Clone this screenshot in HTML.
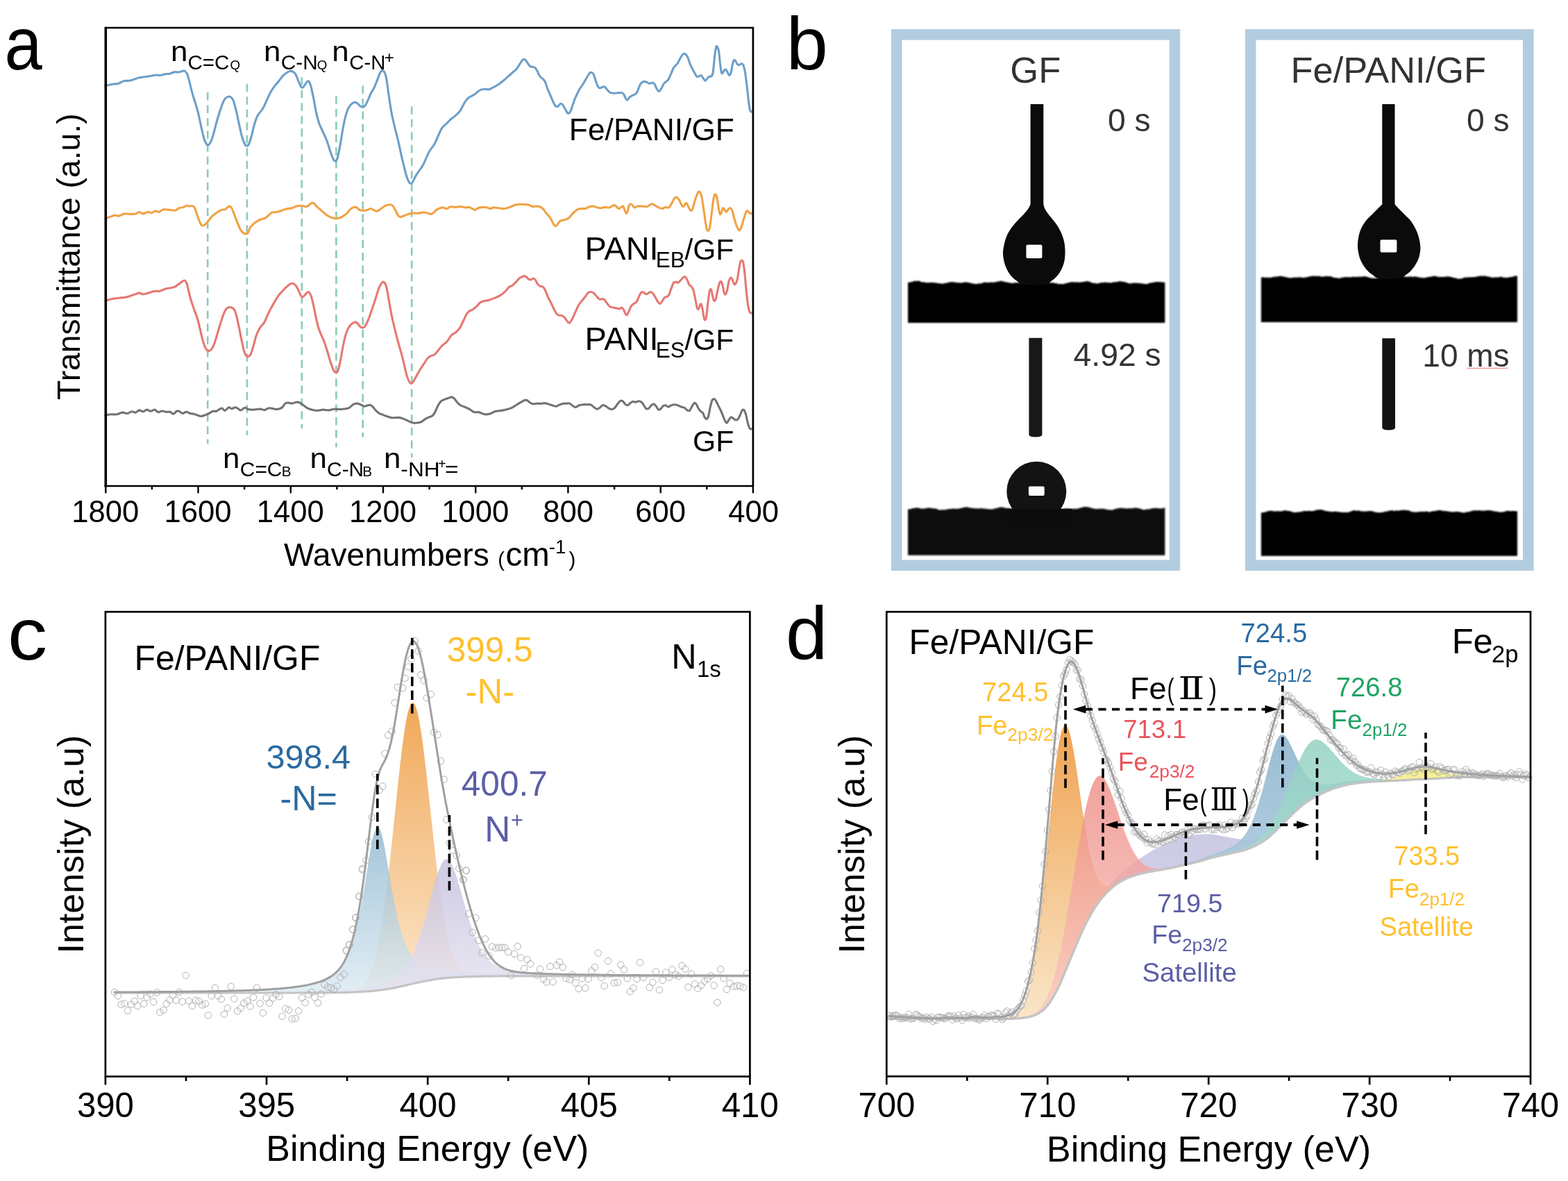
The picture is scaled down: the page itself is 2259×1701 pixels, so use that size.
<!DOCTYPE html>
<html lang="en"><head><meta charset="utf-8"><title>Figure</title>
<style>html,body{margin:0;padding:0;background:#fff}svg{display:block}text{font-kerning:auto;white-space:pre}</style>
</head><body>
<svg width="2259" height="1701" viewBox="0 0 2259 1701">
<rect width="2259" height="1701" fill="#fff"/>
<g id="panel-a"><line x1="299.2" y1="132.9" x2="299.2" y2="638.9" stroke="#8ccab9" stroke-width="2.6" stroke-dasharray="11.5 7"/>
<line x1="355.9" y1="120.7" x2="355.9" y2="626.7" stroke="#8ccab9" stroke-width="2.6" stroke-dasharray="11.5 7"/>
<line x1="434.8" y1="111.2" x2="434.8" y2="617.2" stroke="#8ccab9" stroke-width="2.6" stroke-dasharray="11.5 7"/>
<line x1="484.4" y1="138.3" x2="484.4" y2="644.3" stroke="#8ccab9" stroke-width="2.6" stroke-dasharray="11.5 7"/>
<line x1="522.7" y1="123.4" x2="522.7" y2="629.4" stroke="#8ccab9" stroke-width="2.6" stroke-dasharray="11.5 7"/>
<line x1="593.2" y1="153.2" x2="593.2" y2="659.2" stroke="#8ccab9" stroke-width="2.6" stroke-dasharray="11.5 7"/>
<path d="M151.9,598.2C153.2,598.0 157.3,597.0 160.0,596.8C162.7,596.6 165.5,597.2 168.2,596.8C170.9,596.3 173.8,594.3 176.3,594.1C178.8,593.9 180.8,595.7 183.1,595.5C185.4,595.3 187.9,593.0 189.9,592.8C191.9,592.6 193.5,594.4 195.3,594.1C197.1,593.8 198.9,591.1 200.7,590.9C202.5,590.7 204.3,592.9 206.1,592.8C207.9,592.7 209.8,590.2 211.6,590.1C213.4,590.0 215.1,592.2 217.0,592.2C218.9,592.2 221.2,589.9 223.0,590.1C224.8,590.3 226.1,593.3 227.8,593.6C229.5,593.9 231.2,592.0 233.3,592.0C235.4,592.0 238.1,593.1 240.1,593.3C242.1,593.5 243.9,592.8 245.5,593.3C247.1,593.8 247.9,596.5 249.5,596.3C251.1,596.1 253.4,592.6 255.0,592.0C256.6,591.4 257.6,592.2 259.0,592.8C260.4,593.4 261.5,595.4 263.1,595.5C264.7,595.6 266.7,593.3 268.5,593.3C270.3,593.3 272.2,595.0 274.0,595.5C275.8,596.0 277.6,595.8 279.4,596.3C281.2,596.8 283.0,597.7 284.8,598.2C286.6,598.7 288.4,599.6 290.2,599.5C292.0,599.4 293.9,598.3 295.7,597.6C297.5,596.9 299.3,596.4 301.1,595.5C302.9,594.6 304.7,592.8 306.5,592.2C308.3,591.7 310.1,592.8 311.9,592.2C313.7,591.6 316.0,589.4 317.4,588.7C318.8,588.0 319.0,587.8 320.1,588.2C321.2,588.7 322.5,591.6 324.1,591.4C325.7,591.2 328.0,587.2 329.6,586.8C331.2,586.3 332.0,588.7 333.6,588.7C335.2,588.7 337.5,586.8 339.1,586.8C340.7,586.8 341.8,588.0 343.1,588.7C344.5,589.4 345.6,591.1 347.2,590.9C348.8,590.7 350.8,587.5 352.6,587.3C354.4,587.1 356.0,589.0 358.0,589.5C360.0,590.0 362.8,590.1 364.8,590.1C366.9,590.1 368.5,589.6 370.3,589.5C372.1,589.4 373.9,589.0 375.7,589.2C377.5,589.4 379.3,590.8 381.1,590.6C382.9,590.4 384.7,588.3 386.5,587.9C388.3,587.5 390.2,587.9 392.0,588.2C393.8,588.5 395.6,589.4 397.4,589.5C399.2,589.6 401.2,589.2 402.8,588.7C404.4,588.2 405.5,587.8 406.9,586.5C408.2,585.2 409.5,582.2 410.9,581.1C412.2,580.0 413.4,580.0 415.0,580.0C416.6,580.0 418.4,581.2 420.4,581.1C422.4,581.0 425.3,579.4 427.2,579.2C429.1,579.0 430.2,579.3 431.8,580.0C433.4,580.7 435.0,582.1 436.7,583.3C438.4,584.5 440.1,586.2 442.1,587.3C444.1,588.4 446.4,589.4 448.9,590.1C451.4,590.8 454.4,591.4 457.1,591.4C459.8,591.4 462.5,590.2 465.2,590.1C467.9,590.0 470.6,591.0 473.3,590.9C476.0,590.8 478.8,589.4 481.5,589.2C484.2,589.0 486.9,589.6 489.6,589.5C492.3,589.4 495.4,589.1 497.7,588.7C500.0,588.3 501.4,588.3 503.2,587.3C505.0,586.3 506.8,583.7 508.6,582.7C510.4,581.7 512.2,581.1 514.0,581.1C515.8,581.1 517.6,582.0 519.4,582.7C521.2,583.4 523.3,585.0 524.9,585.2C526.5,585.4 527.5,584.4 528.9,584.1C530.2,583.8 531.6,583.0 533.0,583.3C534.4,583.6 535.8,584.7 537.1,586.0C538.5,587.3 539.5,589.3 541.1,590.9C542.7,592.5 545.1,594.5 546.6,595.5C548.1,596.5 548.3,596.1 550.0,596.8C551.7,597.5 554.3,598.7 556.8,599.5C559.3,600.3 562.0,601.4 564.9,601.7C567.8,602.0 571.7,601.2 574.4,601.4C577.1,601.6 578.9,602.3 581.2,603.1C583.5,603.9 585.7,605.3 588.0,606.3C590.3,607.3 592.5,608.5 594.8,609.0C597.0,609.5 599.5,609.2 601.5,609.0C603.5,608.8 605.2,608.6 607.0,607.7C608.8,606.8 610.6,604.7 612.4,603.6C614.2,602.5 616.1,601.7 617.8,600.9C619.5,600.1 621.2,600.1 622.7,599.0C624.2,597.9 625.1,596.5 626.5,594.1C627.9,591.7 629.3,587.3 630.8,584.6C632.3,581.9 633.7,579.4 635.4,577.8C637.1,576.2 639.1,575.9 640.9,575.1C642.7,574.3 644.6,573.7 646.3,573.2C648.0,572.7 649.5,571.8 650.9,571.9C652.2,572.0 653.1,572.6 654.4,573.8C655.7,575.0 657.0,577.5 658.5,579.2C660.0,580.9 661.6,582.7 663.4,583.8C665.2,584.9 667.2,585.1 669.3,586.0C671.4,586.9 673.8,587.9 676.1,589.2C678.4,590.5 680.6,592.9 682.9,593.6C685.2,594.3 687.4,593.2 689.7,593.6C692.0,594.0 694.5,595.8 696.5,596.3C698.5,596.8 700.1,596.9 701.9,596.8C703.7,596.7 705.5,596.2 707.3,595.5C709.1,594.8 710.4,593.5 712.7,592.8C715.0,592.1 718.2,591.8 720.9,591.4C723.6,591.0 726.3,590.8 729.0,590.1C731.7,589.4 734.7,588.4 737.2,587.3C739.7,586.2 741.6,584.6 743.9,583.3C746.1,581.9 748.8,580.3 750.7,579.2C752.7,578.1 754.2,577.0 755.6,576.5C757.0,576.0 758.0,575.9 759.4,576.5C760.8,577.1 762.2,579.1 763.7,580.0C765.2,580.9 766.7,581.7 768.4,581.9C770.1,582.1 772.0,581.2 773.8,581.1C775.6,581.0 777.4,581.5 779.2,581.4C781.0,581.3 782.8,580.5 784.6,580.6C786.4,580.7 788.3,581.4 790.1,581.9C791.9,582.4 793.7,583.2 795.5,583.8C797.3,584.3 799.2,585.3 800.9,585.2C802.6,585.1 803.9,583.9 805.5,583.3C807.1,582.7 808.7,581.8 810.4,581.4C812.1,581.0 814.1,581.1 815.8,581.1C817.5,581.1 819.1,580.5 820.7,581.1C822.3,581.7 823.8,583.7 825.3,584.6C826.8,585.5 827.9,586.6 829.4,586.5C830.9,586.4 832.5,584.4 834.3,583.8C836.1,583.2 838.3,582.9 840.2,582.7C842.1,582.5 844.0,582.7 845.7,582.7C847.4,582.7 848.9,582.2 850.5,582.7C852.1,583.2 853.7,584.9 855.2,586.0C856.8,587.1 858.3,589.0 859.8,589.2C861.3,589.4 862.8,588.2 864.1,587.3C865.5,586.4 866.5,584.2 867.9,583.8C869.2,583.3 870.7,583.9 872.2,584.6C873.7,585.3 875.4,587.4 876.9,588.2C878.4,589.0 880.0,589.6 881.5,589.5C883.0,589.4 884.4,588.6 885.8,587.3C887.1,586.0 888.2,583.6 889.6,581.9C891.0,580.2 892.6,578.0 893.9,577.3C895.2,576.6 896.1,577.0 897.2,577.8C898.3,578.6 899.4,580.9 900.5,581.9C901.6,582.9 902.8,583.9 904.0,583.8C905.2,583.7 906.3,582.0 907.5,581.1C908.7,580.2 909.9,578.7 911.3,578.4C912.6,578.1 914.1,579.3 915.6,579.2C917.1,579.1 918.8,577.8 920.3,577.8C921.8,577.8 923.1,578.2 924.3,579.2C925.5,580.2 926.5,582.2 927.6,583.8C928.7,585.4 929.9,588.0 931.1,588.7C932.3,589.4 933.4,589.0 934.6,588.2C935.8,587.4 937.2,584.8 938.4,583.8C939.6,582.8 940.8,581.6 942.0,581.9C943.2,582.2 944.4,584.0 945.5,585.4C946.6,586.8 947.6,589.5 948.7,590.1C949.8,590.7 950.9,589.6 952.0,588.7C953.1,587.8 954.3,585.4 955.5,584.6C956.7,583.8 957.8,583.6 959.0,583.8C960.2,584.0 961.4,586.0 962.8,586.0C964.2,586.0 965.7,584.3 967.2,583.8C968.7,583.2 970.3,582.7 971.8,582.7C973.3,582.7 974.8,583.2 976.4,583.8C978.0,584.3 979.7,585.4 981.3,586.0C982.9,586.6 984.8,586.5 986.2,587.3C987.7,588.1 988.8,590.2 990.0,590.9C991.2,591.6 992.3,592.3 993.5,591.4C994.7,590.5 995.9,587.2 997.0,585.4C998.1,583.6 999.3,581.2 1000.3,580.6C1001.3,580.0 1002.1,580.8 1003.0,581.9C1003.9,583.0 1004.7,585.6 1005.7,587.3C1006.7,589.0 1007.9,590.8 1009.0,592.0C1010.1,593.2 1011.5,593.2 1012.5,594.7C1013.5,596.2 1014.3,599.4 1015.2,600.9C1016.1,602.4 1017.0,603.8 1017.9,603.6C1018.8,603.4 1019.7,602.4 1020.6,599.5C1021.5,596.6 1022.4,589.8 1023.3,586.0C1024.2,582.2 1025.1,578.4 1026.0,576.5C1026.9,574.6 1027.9,574.5 1028.8,574.6C1029.7,574.7 1030.5,575.6 1031.5,577.3C1032.5,579.0 1033.8,582.1 1035.0,584.6C1036.2,587.1 1037.6,589.3 1038.8,592.0C1040.0,594.7 1041.3,598.4 1042.3,600.9C1043.3,603.4 1044.2,605.8 1045.0,607.1C1045.8,608.5 1046.4,609.4 1047.2,609.0C1048.0,608.6 1048.9,606.4 1049.9,605.0C1050.9,603.6 1052.1,601.3 1053.2,600.9C1054.3,600.5 1055.6,602.1 1056.7,602.8C1057.8,603.5 1058.8,604.9 1059.9,605.0C1061.0,605.1 1062.1,605.0 1063.2,603.6C1064.3,602.2 1065.7,598.9 1066.7,596.8C1067.7,594.7 1068.5,591.9 1069.4,590.9C1070.3,589.9 1071.3,589.7 1072.2,590.9C1073.1,592.1 1074.0,595.0 1074.9,598.2C1075.8,601.5 1076.7,607.2 1077.6,610.4C1078.5,613.6 1079.3,616.0 1080.3,617.2C1081.3,618.4 1083.2,617.6 1083.8,617.7" fill="none" stroke="#737373" stroke-width="3.1" stroke-linejoin="round" stroke-linecap="round"/>
<path d="M151.9,433.5C153.2,433.1 156.8,431.5 160.0,430.8C163.2,430.1 167.3,429.6 170.9,429.2C174.5,428.8 178.1,428.9 181.7,428.1C185.3,427.3 189.4,425.6 192.6,424.6C195.8,423.6 198.4,422.0 200.7,421.9C202.9,421.8 203.8,423.8 206.1,423.8C208.4,423.8 211.6,422.6 214.3,421.9C217.0,421.2 219.7,419.8 222.4,419.4C225.1,418.9 227.9,419.8 230.6,419.2C233.3,418.6 236.0,416.7 238.7,415.9C241.4,415.1 244.5,415.1 246.8,414.6C249.1,414.1 250.5,413.8 252.3,412.9C254.1,412.0 255.9,410.4 257.7,409.1C259.5,407.8 261.7,405.9 263.1,405.1C264.6,404.3 265.4,403.7 266.4,404.2C267.4,404.7 268.2,405.8 269.1,408.3C270.0,410.8 270.8,415.1 271.8,419.2C272.8,423.3 274.0,428.4 275.3,432.7C276.6,437.0 277.9,440.6 279.4,444.9C280.9,449.2 282.9,453.8 284.3,458.5C285.8,463.2 286.9,468.4 288.1,473.4C289.3,478.4 290.4,484.0 291.6,488.3C292.8,492.6 294.0,496.5 295.1,499.2C296.2,501.9 297.3,503.6 298.4,504.6C299.5,505.6 300.5,505.8 301.6,505.4C302.7,505.0 303.9,504.3 305.2,502.4C306.5,500.5 307.8,497.5 309.2,493.8C310.6,490.1 311.9,484.7 313.3,480.2C314.7,475.7 316.0,470.9 317.4,466.6C318.8,462.3 320.0,457.9 321.4,454.4C322.8,450.9 324.1,447.4 325.5,445.5C326.9,443.6 328.2,443.2 329.6,442.8C331.0,442.4 332.2,442.4 333.6,443.0C335.0,443.6 336.4,443.9 337.7,446.3C339.0,448.7 340.0,452.4 341.2,457.1C342.4,461.9 343.8,468.9 345.0,474.8C346.2,480.7 347.4,487.0 348.6,492.4C349.8,497.8 351.0,503.9 352.1,507.3C353.2,510.7 354.3,511.7 355.3,512.7C356.3,513.8 357.0,514.1 358.0,513.6C359.0,513.1 360.2,512.4 361.3,510.0C362.4,507.6 363.5,503.5 364.8,499.2C366.1,494.9 367.5,488.4 368.9,484.3C370.3,480.2 371.6,477.4 373.0,474.8C374.4,472.2 375.6,470.6 377.0,468.8C378.4,467.0 379.7,466.3 381.1,463.9C382.5,461.5 383.6,457.8 385.2,454.4C386.8,451.0 388.8,447.0 390.6,443.6C392.4,440.2 394.2,437.1 396.0,434.1C397.8,431.1 399.6,427.9 401.4,425.4C403.2,422.9 405.1,421.1 406.9,419.2C408.7,417.2 410.5,415.4 412.3,413.7C414.1,412.0 416.1,410.0 417.7,409.1C419.3,408.2 420.4,408.0 421.8,408.3C423.2,408.6 424.5,409.4 425.9,411.0C427.2,412.6 428.6,415.3 429.9,417.8C431.2,420.3 432.4,424.2 433.5,425.9C434.6,427.6 435.2,428.0 436.2,427.8C437.2,427.6 438.3,425.7 439.4,424.6C440.5,423.5 441.7,421.7 442.7,421.1C443.7,420.5 444.5,420.3 445.4,421.1C446.3,421.9 447.1,422.8 448.1,425.9C449.1,429.0 450.4,434.3 451.6,439.5C452.8,444.7 454.1,451.9 455.2,457.1C456.3,462.3 457.2,466.6 458.4,470.7C459.6,474.8 461.1,478.0 462.5,481.6C463.9,485.2 465.5,488.1 467.1,492.4C468.7,496.7 470.5,502.6 472.0,507.3C473.5,512.0 474.6,516.7 476.0,520.9C477.4,525.1 478.9,529.7 480.1,532.3C481.3,534.9 482.4,536.1 483.4,536.6C484.4,537.1 485.3,537.2 486.3,535.0C487.3,532.8 488.5,528.7 489.6,523.6C490.7,518.5 492.0,510.5 493.1,504.6C494.2,498.7 495.3,492.8 496.4,488.3C497.5,483.8 498.3,480.7 499.6,477.5C500.9,474.3 502.5,471.3 504.0,469.3C505.5,467.3 507.2,466.2 508.6,465.3C510.0,464.4 511.0,463.8 512.1,463.9C513.2,464.0 514.3,465.1 515.4,466.1C516.5,467.2 517.5,469.2 518.6,470.2C519.7,471.2 521.0,472.1 522.2,472.1C523.4,472.1 524.4,472.0 525.7,470.2C527.1,468.4 528.6,465.2 530.3,461.2C532.0,457.2 533.9,451.5 535.7,446.3C537.5,441.1 539.4,435.2 541.1,430.0C542.8,424.8 544.3,418.9 545.8,415.1C547.3,411.4 548.8,408.9 550.0,407.5C551.2,406.1 552.3,405.8 553.3,406.4C554.3,407.0 555.1,408.2 556.0,411.0C556.9,413.8 557.7,417.8 558.7,423.2C559.7,428.6 561.0,437.3 562.2,443.6C563.4,449.9 564.4,455.1 565.7,461.2C567.1,467.3 568.8,474.1 570.3,480.2C571.8,486.3 573.5,492.4 575.0,497.8C576.5,503.2 577.9,507.5 579.3,512.7C580.6,517.9 581.9,524.0 583.1,529.0C584.3,534.0 585.4,539.0 586.6,542.6C587.8,546.2 589.1,549.1 590.1,550.7C591.1,552.3 591.9,552.5 592.9,552.1C593.9,551.8 594.9,550.4 596.1,548.6C597.3,546.8 598.6,544.0 600.2,541.2C601.8,538.4 603.8,534.6 605.6,531.7C607.4,528.8 609.2,526.3 611.0,523.6C612.8,520.9 614.9,517.3 616.5,515.5C618.1,513.7 618.9,513.5 620.5,512.7C622.1,511.9 624.1,512.1 625.9,510.8C627.7,509.4 629.6,506.8 631.4,504.6C633.2,502.4 634.8,499.8 636.8,497.8C638.8,495.8 641.3,494.9 643.6,492.4C645.9,489.9 648.1,485.2 650.4,482.9C652.6,480.5 655.1,480.1 657.1,478.3C659.1,476.5 660.8,475.0 662.6,472.1C664.4,469.2 666.4,464.5 668.0,461.2C669.6,457.9 670.8,454.7 672.1,452.5C673.5,450.3 674.5,449.4 676.1,448.2C677.7,447.0 679.8,446.7 681.6,445.5C683.4,444.3 685.2,442.6 687.0,440.9C688.8,439.2 690.6,436.6 692.4,435.4C694.2,434.2 695.8,434.0 697.8,433.5C699.8,433.0 702.1,432.9 704.6,432.2C707.1,431.5 710.0,430.3 712.7,429.2C715.4,428.1 718.4,426.9 720.9,425.4C723.4,423.9 725.7,421.9 727.7,420.0C729.7,418.1 731.3,415.2 733.1,413.7C734.9,412.2 736.7,412.4 738.5,411.0C740.3,409.6 742.3,407.3 743.9,405.6C745.5,403.9 746.6,402.1 748.0,401.0C749.4,399.9 750.8,399.4 752.1,398.8C753.4,398.2 754.5,397.4 755.6,397.5C756.7,397.6 757.9,398.6 758.9,399.4C759.9,400.2 760.6,401.5 761.6,402.1C762.6,402.7 763.7,403.1 764.8,402.9C765.9,402.7 767.3,401.0 768.4,401.0C769.5,401.0 770.1,401.5 771.1,402.9C772.1,404.2 773.4,407.5 774.6,409.1C775.8,410.7 777.2,411.8 778.4,412.4C779.6,413.0 780.7,412.0 781.9,412.9C783.1,413.8 784.2,415.4 785.4,417.8C786.6,420.2 787.8,424.1 789.2,427.3C790.7,430.5 792.5,433.5 794.1,436.8C795.7,440.1 797.4,444.3 799.0,447.1C800.6,449.9 801.9,452.4 803.6,453.6C805.3,454.8 807.4,453.8 809.0,454.4C810.6,455.0 811.7,455.7 813.1,457.1C814.5,458.5 816.1,461.2 817.2,462.6C818.3,464.0 818.9,465.5 819.9,465.3C820.9,465.1 822.0,463.5 823.4,461.2C824.8,458.9 826.3,455.3 828.0,451.7C829.7,448.1 831.7,442.7 833.5,439.5C835.3,436.3 837.2,434.8 838.9,432.7C840.6,430.6 842.1,428.6 843.5,426.8C844.9,425.0 845.7,422.9 847.0,421.9C848.3,420.8 849.7,420.5 851.1,420.5C852.5,420.5 853.9,420.9 855.2,421.9C856.6,422.9 857.9,425.0 859.2,426.5C860.6,428.0 861.9,430.1 863.3,430.8C864.7,431.5 866.2,430.5 867.4,430.6C868.6,430.7 869.5,430.4 870.6,431.4C871.7,432.3 872.7,434.6 874.1,436.3C875.5,438.0 877.2,440.6 878.8,441.7C880.4,442.8 881.9,442.6 883.6,443.0C885.3,443.4 887.7,443.8 889.1,444.1C890.5,444.4 891.2,445.1 892.3,444.9C893.4,444.7 894.8,442.8 895.8,443.0C896.8,443.2 897.7,444.7 898.6,446.3C899.5,447.9 900.5,451.3 901.3,452.5C902.1,453.7 902.6,454.3 903.4,453.6C904.2,452.9 905.1,450.3 906.1,448.2C907.1,446.1 908.2,442.7 909.4,440.9C910.6,439.1 912.1,438.4 913.5,437.3C914.9,436.2 916.1,436.2 917.5,434.1C918.9,432.0 920.4,426.9 921.6,424.6C922.8,422.3 923.8,420.9 924.9,420.5C926.0,420.1 927.4,421.3 928.4,421.9C929.4,422.4 930.1,423.8 931.1,423.8C932.1,423.8 933.5,422.4 934.6,421.9C935.7,421.3 936.8,420.3 937.9,420.5C939.0,420.7 940.0,421.8 941.1,423.2C942.2,424.6 943.5,427.2 944.7,429.2C945.9,431.2 947.2,434.0 948.2,435.4C949.2,436.8 949.9,437.6 950.9,437.3C951.9,437.0 953.1,434.9 954.2,433.5C955.3,432.1 956.3,429.7 957.4,428.7C958.5,427.7 959.8,428.0 960.9,427.3C962.0,426.6 962.7,426.6 963.7,424.6C964.8,422.6 966.1,418.0 967.2,415.1C968.3,412.2 969.3,409.0 970.4,407.5C971.5,406.0 972.6,406.2 973.7,406.1C974.8,406.0 975.9,407.5 977.2,407.0C978.5,406.5 980.1,404.2 981.3,402.9C982.5,401.6 983.5,400.1 984.5,399.4C985.5,398.7 986.4,398.2 987.3,398.8C988.2,399.4 989.1,401.1 990.0,402.9C990.9,404.7 991.7,408.0 992.7,409.7C993.7,411.4 995.2,411.5 996.2,412.9C997.2,414.2 998.0,414.9 998.9,417.8C999.8,420.7 1000.7,425.7 1001.6,430.0C1002.5,434.3 1003.5,441.1 1004.3,443.6C1005.1,446.1 1005.8,445.6 1006.5,444.9C1007.2,444.2 1007.8,440.6 1008.4,439.5C1009.0,438.4 1009.6,436.8 1010.3,438.2C1011.0,439.6 1011.8,444.2 1012.5,447.6C1013.2,451.0 1013.8,456.3 1014.4,458.5C1015.0,460.7 1015.4,461.4 1016.0,460.7C1016.6,460.0 1017.3,458.4 1017.9,454.4C1018.5,450.4 1019.1,442.4 1019.8,436.8C1020.5,431.2 1021.4,424.5 1022.0,421.1C1022.6,417.7 1023.1,416.8 1023.6,416.5C1024.1,416.2 1024.6,416.9 1025.2,419.2C1025.8,421.4 1026.7,427.6 1027.4,430.0C1028.1,432.4 1028.9,433.7 1029.6,433.5C1030.3,433.3 1030.9,431.5 1031.7,428.7C1032.5,425.9 1033.3,420.1 1034.2,416.5C1035.1,412.9 1036.1,408.8 1036.9,407.0C1037.7,405.2 1038.4,404.9 1039.1,405.6C1039.8,406.3 1040.3,408.4 1041.0,411.0C1041.7,413.6 1042.4,419.0 1043.1,421.1C1043.8,423.2 1044.5,424.4 1045.3,423.8C1046.1,423.2 1046.9,420.8 1047.7,417.8C1048.5,414.8 1049.1,408.5 1049.9,405.6C1050.7,402.7 1051.6,400.9 1052.4,400.2C1053.2,399.5 1053.7,400.1 1054.5,401.5C1055.3,402.9 1056.4,407.0 1057.2,408.3C1058.0,409.6 1058.6,410.0 1059.4,409.1C1060.2,408.2 1061.2,406.4 1062.1,402.9C1063.0,399.4 1063.8,392.3 1064.6,388.0C1065.4,383.7 1066.0,379.3 1066.7,377.1C1067.4,374.9 1067.9,374.8 1068.6,375.0C1069.3,375.2 1070.1,375.2 1070.8,378.5C1071.5,381.8 1072.3,388.2 1073.0,394.8C1073.7,401.4 1074.3,410.4 1075.1,417.8C1075.9,425.2 1076.7,434.2 1077.6,439.5C1078.5,444.8 1079.3,447.9 1080.3,449.8C1081.3,451.7 1083.2,450.7 1083.8,450.9" fill="none" stroke="#e67872" stroke-width="3.1" stroke-linejoin="round" stroke-linecap="round"/>
<path d="M151.9,314.6C153.2,314.2 157.7,312.7 160.0,311.9C162.3,311.1 163.7,310.1 165.5,310.0C167.3,309.9 168.7,311.5 170.9,311.1C173.2,310.8 176.3,308.3 179.0,307.9C181.7,307.4 184.5,308.4 187.2,308.4C189.9,308.4 193.1,308.4 195.3,307.9C197.6,307.4 198.9,305.2 200.7,305.2C202.5,305.2 204.1,307.9 206.1,307.9C208.1,307.9 210.8,305.4 212.9,305.2C215.0,305.0 216.6,306.7 218.4,306.5C220.2,306.3 222.0,304.0 223.8,303.8C225.6,303.6 227.2,305.6 229.2,305.2C231.2,304.8 233.5,302.1 236.0,301.6C238.5,301.1 241.4,302.2 244.1,302.4C246.8,302.6 250.0,303.4 252.3,303.0C254.6,302.6 255.7,300.5 257.7,299.7C259.7,298.9 262.7,299.0 264.5,298.4C266.3,297.8 267.1,296.4 268.5,296.2C269.9,296.0 271.2,296.9 272.6,297.0C274.0,297.1 275.5,296.3 276.7,296.5C277.9,296.7 278.9,296.9 279.9,298.4C280.9,299.8 281.6,302.3 282.6,305.2C283.7,308.1 285.0,313.0 286.2,316.0C287.4,319.0 288.7,321.8 289.7,323.3C290.7,324.8 291.3,325.1 292.4,325.0C293.5,324.9 295.0,323.9 296.2,322.8C297.4,321.8 298.2,320.5 299.7,318.7C301.2,316.9 303.2,313.9 305.2,311.9C307.2,309.9 309.6,308.1 311.9,306.5C314.1,304.9 316.7,303.2 318.7,302.4C320.7,301.6 322.5,302.3 324.1,301.6C325.7,300.9 327.1,299.2 328.2,298.4C329.3,297.6 329.9,296.6 330.9,297.0C331.9,297.4 333.1,298.5 334.2,300.5C335.3,302.5 336.4,305.9 337.7,309.2C339.0,312.5 340.4,316.7 341.8,320.1C343.2,323.5 344.5,327.1 345.8,329.6C347.1,332.1 348.5,333.8 349.9,335.0C351.3,336.2 352.7,336.9 354.0,336.9C355.3,336.9 356.5,336.4 357.5,335.0C358.5,333.6 359.0,330.2 360.2,328.2C361.4,326.2 363.1,324.4 364.8,322.8C366.5,321.2 368.5,319.8 370.3,318.7C372.1,317.6 373.7,316.8 375.7,316.0C377.7,315.2 380.5,314.9 382.5,313.8C384.5,312.7 386.3,310.5 387.9,309.2C389.5,307.9 390.4,306.6 392.0,306.0C393.6,305.4 395.4,306.1 397.4,305.7C399.4,305.3 401.7,304.6 404.2,303.8C406.7,303.0 409.6,301.8 412.3,301.1C415.0,300.4 417.9,300.4 420.4,299.7C422.9,299.0 424.9,297.6 427.2,297.0C429.5,296.4 431.7,296.1 434.0,296.2C436.3,296.3 439.0,297.9 440.8,297.8C442.6,297.7 443.5,296.6 444.8,295.7C446.1,294.8 447.6,292.9 448.9,292.4C450.2,291.9 451.3,292.1 452.4,292.9C453.5,293.7 454.2,295.6 455.7,297.0C457.1,298.4 459.3,300.0 461.1,301.6C462.9,303.2 464.5,304.9 466.5,306.5C468.5,308.1 471.0,310.1 473.3,311.4C475.6,312.7 478.1,313.6 480.1,314.1C482.1,314.6 483.5,314.9 485.5,314.6C487.5,314.3 490.0,313.6 492.3,312.5C494.6,311.4 497.1,309.7 499.1,307.9C501.1,306.1 502.8,303.2 504.5,301.6C506.2,300.0 507.8,298.8 509.4,298.4C511.0,297.9 512.5,298.2 514.0,298.9C515.5,299.6 516.5,301.7 518.1,302.4C519.7,303.1 521.7,303.3 523.5,303.3C525.3,303.3 527.2,302.9 528.9,302.4C530.6,301.9 532.2,300.5 533.8,300.5C535.4,300.5 536.9,301.8 538.4,302.4C539.9,303.0 541.1,304.3 542.5,304.3C543.9,304.3 545.4,303.2 546.6,302.4C547.9,301.6 548.5,300.7 550.0,299.7C551.5,298.7 553.4,297.0 555.4,296.2C557.4,295.4 560.5,294.8 562.2,294.8C563.9,294.8 564.5,294.9 565.7,296.2C566.9,297.5 568.3,300.1 569.5,302.4C570.7,304.7 571.9,308.1 573.1,309.8C574.3,311.5 575.2,312.3 576.6,312.5C578.0,312.7 579.3,311.8 581.2,311.1C583.1,310.4 585.7,309.1 588.0,308.4C590.3,307.7 592.3,307.3 594.8,307.1C597.3,306.9 600.2,307.3 602.9,307.1C605.6,306.9 608.7,305.7 611.0,305.7C613.3,305.7 614.9,306.7 616.5,307.1C618.1,307.6 619.1,308.5 620.5,308.4C621.9,308.3 623.2,307.5 624.6,306.5C626.0,305.5 626.7,303.7 628.7,302.4C630.7,301.1 634.3,299.2 636.8,298.9C639.3,298.6 641.6,300.7 643.6,300.5C645.6,300.3 647.0,298.2 649.0,297.8C651.0,297.4 653.3,298.4 655.8,298.4C658.3,298.4 661.4,297.5 663.9,297.6C666.4,297.7 668.7,298.8 670.7,298.9C672.7,299.0 674.5,298.1 676.1,298.4C677.7,298.7 678.8,299.8 680.2,300.5C681.6,301.2 682.9,302.5 684.3,302.4C685.6,302.3 686.3,300.4 688.3,299.7C690.3,299.0 694.2,298.5 696.5,298.4C698.8,298.3 700.3,298.5 701.9,298.9C703.5,299.2 704.4,300.5 706.0,300.5C707.6,300.5 709.4,299.0 711.4,298.9C713.4,298.8 715.7,299.4 718.2,299.7C720.7,300.0 723.6,300.7 726.3,300.5C729.0,300.3 731.7,299.3 734.4,298.4C737.1,297.5 739.6,295.8 742.6,295.1C745.6,294.4 748.9,294.3 752.1,294.3C755.3,294.3 759.1,294.6 761.6,295.1C764.1,295.7 765.2,297.3 767.0,297.6C768.8,297.9 770.6,297.0 772.4,297.0C774.2,297.0 776.1,297.1 777.8,297.8C779.5,298.5 781.2,299.7 782.7,301.1C784.2,302.6 785.0,304.7 786.5,306.5C788.0,308.3 789.9,309.9 791.4,311.9C792.9,313.9 794.4,316.7 795.5,318.7C796.6,320.7 797.3,323.0 798.2,324.1C799.1,325.2 799.9,325.9 800.9,325.5C801.9,325.1 803.3,322.7 804.4,321.4C805.5,320.1 806.2,318.7 807.7,317.9C809.2,317.1 811.3,317.4 813.1,316.8C814.9,316.2 816.9,315.6 818.5,314.6C820.1,313.6 821.2,312.0 822.6,310.6C824.0,309.2 825.1,307.5 826.7,306.0C828.3,304.5 830.3,302.5 832.1,301.6C833.9,300.7 835.7,300.7 837.5,300.5C839.3,300.3 840.9,301.0 842.9,300.5C844.9,300.0 847.7,298.2 849.7,297.6C851.8,297.0 853.4,296.8 855.2,297.0C857.0,297.2 858.8,298.4 860.6,298.9C862.4,299.3 864.2,299.8 866.0,299.7C867.8,299.6 869.4,298.5 871.4,298.4C873.4,298.3 876.2,299.3 878.2,298.9C880.2,298.4 882.0,296.0 883.6,295.7C885.2,295.4 886.4,296.2 887.7,297.0C889.0,297.8 890.0,300.3 891.2,300.5C892.4,300.7 893.9,299.0 895.0,298.4C896.1,297.8 896.9,296.3 897.7,297.0C898.5,297.7 899.2,300.7 899.9,302.4C900.6,304.1 901.4,306.6 902.1,307.1C902.8,307.6 903.4,306.9 904.0,305.2C904.6,303.5 905.2,298.9 905.9,297.0C906.6,295.1 907.1,294.0 908.0,293.8C908.9,293.6 910.3,294.9 911.3,295.7C912.3,296.5 912.7,298.7 914.0,298.9C915.3,299.1 916.9,297.3 918.9,297.0C920.9,296.7 923.4,296.9 925.7,297.0C928.0,297.1 930.4,298.1 932.5,297.6C934.6,297.1 936.6,294.1 938.4,293.8C940.2,293.5 941.6,294.9 943.3,295.7C945.0,296.5 946.9,298.1 948.7,298.9C950.5,299.7 952.6,300.6 954.2,300.5C955.8,300.4 956.6,298.7 958.2,298.4C959.8,298.1 962.1,299.8 963.7,298.9C965.3,298.0 966.4,295.1 967.7,292.9C969.1,290.6 970.5,286.8 971.8,285.4C973.1,284.0 974.2,283.9 975.3,284.3C976.4,284.8 977.5,286.3 978.6,288.1C979.7,289.9 980.8,293.5 981.8,295.1C982.8,296.7 983.6,298.1 984.5,297.8C985.4,297.5 986.5,294.3 987.3,293.5C988.1,292.7 988.5,291.9 989.4,292.9C990.3,293.9 991.7,297.9 992.7,299.7C993.7,301.5 994.5,303.8 995.4,303.8C996.3,303.8 997.1,302.4 998.1,299.7C999.1,297.0 1000.4,291.1 1001.6,287.5C1002.8,283.9 1004.2,279.9 1005.2,278.0C1006.2,276.1 1007.0,275.4 1007.9,276.1C1008.8,276.8 1009.7,278.4 1010.6,282.1C1011.5,285.8 1012.4,292.5 1013.3,298.4C1014.2,304.3 1015.2,312.2 1016.0,317.4C1016.8,322.6 1017.5,327.1 1018.2,329.6C1018.9,332.1 1019.6,332.5 1020.3,332.3C1021.0,332.1 1021.8,331.6 1022.5,328.2C1023.2,324.8 1023.9,318.2 1024.7,311.9C1025.5,305.6 1026.6,295.4 1027.4,290.2C1028.2,285.0 1028.9,282.3 1029.6,280.7C1030.3,279.1 1030.9,279.6 1031.5,280.7C1032.1,281.8 1032.7,284.1 1033.4,287.5C1034.1,290.9 1034.8,297.6 1035.5,301.1C1036.2,304.6 1036.7,308.0 1037.4,308.7C1038.1,309.4 1038.9,306.7 1039.6,305.2C1040.3,303.7 1040.7,300.2 1041.5,299.7C1042.3,299.2 1043.4,301.5 1044.2,302.4C1045.0,303.3 1045.5,305.4 1046.4,305.2C1047.3,305.0 1048.6,302.0 1049.6,301.1C1050.6,300.2 1051.5,299.2 1052.4,299.7C1053.3,300.1 1054.2,301.3 1055.1,303.8C1056.0,306.3 1056.8,311.0 1057.8,314.6C1058.8,318.2 1060.3,322.8 1061.3,325.5C1062.3,328.2 1063.2,330.0 1064.0,330.9C1064.8,331.8 1065.4,331.8 1066.2,330.9C1067.0,330.0 1067.6,328.4 1068.6,325.5C1069.6,322.6 1071.2,316.7 1072.2,313.3C1073.2,309.9 1074.1,306.9 1074.9,305.2C1075.7,303.5 1076.0,303.1 1076.8,303.3C1077.6,303.5 1078.3,305.7 1079.5,306.5C1080.7,307.3 1083.1,307.7 1083.8,307.9" fill="none" stroke="#f0a244" stroke-width="3.1" stroke-linejoin="round" stroke-linecap="round"/>
<path d="M151.9,123.4C153.7,123.0 159.5,121.7 162.7,121.2C165.9,120.7 168.2,121.0 170.9,120.2C173.6,119.4 176.3,117.3 179.0,116.6C181.7,115.9 183.6,116.9 187.2,116.1C190.8,115.3 196.2,112.8 200.7,111.8C205.2,110.8 210.2,110.5 214.3,109.9C218.4,109.3 222.4,108.2 225.1,108.0C227.8,107.8 228.3,108.7 230.6,108.5C232.9,108.3 236.4,107.0 238.7,106.6C240.9,106.2 242.1,106.8 244.1,106.3C246.1,105.8 248.6,104.3 250.9,103.9C253.2,103.5 255.4,104.2 257.7,103.9C260.0,103.6 262.9,102.1 264.5,102.0C266.1,101.9 266.3,102.2 267.2,103.1C268.1,103.9 269.0,104.8 269.9,107.1C270.8,109.3 271.5,112.3 272.6,116.6C273.7,120.9 275.1,127.2 276.7,132.9C278.3,138.6 280.5,145.1 282.1,150.5C283.7,155.9 284.9,159.8 286.2,165.5C287.5,171.2 288.8,178.5 290.2,184.4C291.6,190.3 293.1,196.8 294.3,200.7C295.5,204.5 296.8,206.1 297.6,207.5C298.4,208.9 298.4,209.0 299.2,208.9C300.0,208.8 301.2,208.7 302.4,206.7C303.6,204.7 304.9,201.8 306.5,196.7C308.1,191.6 310.3,182.0 311.9,176.3C313.5,170.6 314.6,167.0 316.0,162.7C317.4,158.4 318.8,153.9 320.1,150.5C321.5,147.1 322.8,144.2 324.1,142.4C325.5,140.6 326.8,139.9 328.2,139.4C329.6,138.9 330.9,138.8 332.3,139.7C333.7,140.6 335.0,141.7 336.3,145.1C337.6,148.5 339.0,154.3 340.4,160.0C341.8,165.7 343.1,172.9 344.5,179.0C345.9,185.1 347.2,191.9 348.6,196.7C350.0,201.4 351.5,205.2 352.6,207.5C353.7,209.8 354.3,210.2 355.3,210.2C356.3,210.2 357.5,209.8 358.6,207.5C359.7,205.2 360.8,201.2 362.1,196.7C363.4,192.2 364.8,185.2 366.2,180.4C367.6,175.7 368.9,171.2 370.3,168.2C371.7,165.2 372.7,164.5 374.3,162.2C375.9,159.9 377.9,157.9 379.7,154.6C381.5,151.3 383.4,146.2 385.2,142.4C387.0,138.6 388.8,134.8 390.6,131.6C392.4,128.4 394.2,125.8 396.0,123.4C397.8,121.0 399.6,119.5 401.4,117.2C403.2,115.0 405.1,111.9 406.9,109.9C408.7,107.9 410.5,106.4 412.3,105.2C414.1,104.0 416.1,102.8 417.7,102.5C419.3,102.2 420.4,102.3 421.8,103.1C423.2,103.9 424.5,104.8 425.9,107.1C427.2,109.3 428.6,113.6 429.9,116.6C431.2,119.5 432.4,123.2 433.5,124.8C434.6,126.4 435.2,126.5 436.2,126.1C437.2,125.6 438.3,123.6 439.4,122.1C440.5,120.6 441.7,117.9 442.7,117.2C443.7,116.5 444.5,116.7 445.4,118.0C446.3,119.3 447.1,121.0 448.1,124.8C449.1,128.6 450.3,134.7 451.6,141.0C452.9,147.3 454.3,156.6 455.7,162.7C457.1,168.8 458.2,173.2 459.8,177.7C461.4,182.2 463.4,185.8 465.2,189.9C467.0,194.0 468.8,197.3 470.6,202.1C472.4,206.8 474.4,213.9 476.0,218.4C477.6,222.9 478.9,226.9 480.1,229.2C481.3,231.4 482.4,232.1 483.4,231.9C484.4,231.7 485.1,231.2 486.1,227.8C487.1,224.4 488.3,218.4 489.6,211.6C490.9,204.8 492.4,194.4 493.7,187.2C495.0,180.0 496.3,173.4 497.7,168.2C499.1,163.0 500.2,159.2 501.8,156.0C503.4,152.8 505.6,150.6 507.2,149.2C508.8,147.8 509.9,147.3 511.3,147.3C512.7,147.3 514.0,148.2 515.4,149.2C516.8,150.2 518.1,152.5 519.4,153.3C520.7,154.1 521.9,154.3 523.0,154.1C524.1,153.9 525.0,153.6 526.2,151.9C527.4,150.2 528.9,146.7 530.3,143.8C531.7,140.9 533.0,137.0 534.4,134.3C535.8,131.6 537.0,130.2 538.4,127.5C539.8,124.8 541.1,121.4 542.5,118.0C543.9,114.6 545.4,109.8 546.6,107.1C547.9,104.4 548.8,102.2 550.0,101.7C551.2,101.2 553.0,102.4 554.1,104.4C555.2,106.4 555.8,108.2 556.8,113.9C557.8,119.6 559.1,130.2 560.3,138.3C561.5,146.4 562.6,155.0 564.1,162.7C565.6,170.4 567.3,177.2 569.0,184.4C570.7,191.6 572.6,198.4 574.4,206.1C576.2,213.8 578.0,222.9 579.8,230.6C581.6,238.3 583.7,247.0 585.3,252.3C586.9,257.6 588.2,260.6 589.3,262.6C590.4,264.6 591.1,264.6 592.0,264.5C592.9,264.4 593.7,263.6 594.8,261.8C595.9,260.0 597.2,256.3 598.8,253.6C600.4,250.9 602.4,248.2 604.2,245.5C606.0,242.8 607.9,240.7 609.7,237.3C611.5,233.9 613.5,228.5 615.1,225.1C616.7,221.7 617.4,219.9 619.2,217.0C621.0,214.1 623.9,211.1 625.9,207.5C627.9,203.9 629.6,199.2 631.4,195.3C633.2,191.5 634.8,187.3 636.8,184.4C638.8,181.5 641.6,179.7 643.6,177.7C645.6,175.7 647.0,174.0 649.0,172.2C651.0,170.4 653.5,168.8 655.8,166.8C658.1,164.8 660.4,163.2 662.6,160.0C664.9,156.8 667.3,151.0 669.3,147.8C671.3,144.6 672.5,142.9 674.8,141.0C677.1,139.1 680.2,138.2 682.9,136.4C685.6,134.6 688.5,131.5 691.0,130.2C693.5,128.8 695.5,128.5 697.8,128.3C700.1,128.1 702.3,129.3 704.6,128.8C706.9,128.3 709.1,126.5 711.4,125.3C713.7,124.1 715.7,123.2 718.2,121.5C720.7,119.8 723.6,117.5 726.3,115.3C729.0,113.0 732.1,110.0 734.4,108.0C736.7,106.0 738.3,104.5 739.9,103.1C741.5,101.7 742.5,101.4 743.9,99.8C745.2,98.2 746.6,95.7 748.0,93.6C749.4,91.5 751.0,88.7 752.1,87.3C753.2,85.9 753.9,85.5 754.8,85.4C755.7,85.3 756.6,85.9 757.5,86.8C758.4,87.7 759.2,89.5 760.2,90.9C761.2,92.4 762.6,94.6 763.7,95.5C764.8,96.4 765.9,96.0 767.0,96.3C768.1,96.6 769.2,96.2 770.3,97.1C771.4,98.0 772.5,99.6 773.8,101.7C775.0,103.8 776.4,108.0 777.8,109.9C779.1,111.9 780.6,112.1 781.9,113.4C783.2,114.8 784.3,115.7 785.4,118.0C786.5,120.3 787.5,124.3 788.7,127.5C789.9,130.7 791.4,133.8 792.8,137.0C794.1,140.2 795.6,143.9 796.8,146.5C798.0,149.1 799.0,151.3 800.1,152.4C801.2,153.5 802.4,153.8 803.6,153.3C804.8,152.9 806.0,150.2 807.1,149.7C808.2,149.2 809.3,149.4 810.4,150.5C811.5,151.6 812.6,154.1 813.7,156.0C814.8,157.9 816.3,161.0 817.2,162.2C818.1,163.4 818.5,163.7 819.3,163.3C820.1,162.9 821.1,162.1 822.1,160.0C823.1,157.9 824.1,153.9 825.3,150.5C826.5,147.1 827.8,143.3 829.4,139.7C831.0,136.1 833.0,132.0 834.8,128.8C836.6,125.6 838.4,123.6 840.2,120.7C842.0,117.8 844.1,113.8 845.7,111.2C847.3,108.6 848.6,106.3 849.7,105.2C850.8,104.1 851.5,104.1 852.4,104.4C853.3,104.7 854.3,105.3 855.2,107.1C856.1,108.9 856.9,112.3 857.9,115.3C858.9,118.2 860.3,122.9 861.4,124.8C862.5,126.7 863.5,126.8 864.6,126.9C865.7,127.0 866.8,125.6 867.9,125.3C869.0,125.0 870.1,124.5 871.4,125.3C872.7,126.1 874.1,128.8 875.5,130.2C876.9,131.6 878.0,133.0 879.6,133.7C881.2,134.4 883.2,134.3 885.0,134.3C886.8,134.3 888.6,133.8 890.4,133.7C892.2,133.6 894.4,133.4 895.8,133.7C897.2,134.0 897.7,134.3 898.6,135.6C899.5,136.9 900.4,140.2 901.3,141.6C902.2,143.0 903.0,144.1 904.0,143.8C905.0,143.5 906.1,140.8 907.5,139.7C908.9,138.6 910.6,137.8 912.1,137.0C913.6,136.2 915.0,136.5 916.2,135.1C917.4,133.7 918.3,131.2 919.4,128.8C920.5,126.4 921.7,122.6 923.0,120.7C924.3,118.8 925.6,118.0 927.0,117.5C928.4,117.0 929.7,117.5 931.1,118.0C932.5,118.5 933.9,120.0 935.2,120.2C936.6,120.4 937.9,119.2 939.2,119.3C940.5,119.4 941.7,119.3 942.8,120.7C943.9,122.1 944.9,125.7 946.0,127.5C947.1,129.3 948.2,131.6 949.3,131.6C950.4,131.6 951.5,129.4 952.8,127.5C954.1,125.5 955.3,121.9 956.9,119.9C958.5,117.9 960.7,117.4 962.3,115.3C963.9,113.2 965.0,110.0 966.4,107.1C967.8,104.1 968.8,100.2 970.4,97.6C972.0,95.0 974.3,94.0 975.9,91.7C977.5,89.5 978.5,86.4 979.9,84.1C981.2,81.8 982.8,79.1 984.0,78.1C985.2,77.0 986.2,77.0 987.3,77.8C988.4,78.6 989.5,80.1 990.8,82.7C992.0,85.3 993.3,90.2 994.8,93.6C996.3,97.0 998.2,100.4 999.7,103.1C1001.2,105.8 1002.3,108.8 1003.5,109.9C1004.7,111.0 1006.1,110.1 1007.1,109.9C1008.1,109.7 1008.9,108.2 1009.8,108.5C1010.7,108.8 1011.5,110.5 1012.5,111.8C1013.5,113.1 1014.9,116.0 1016.0,116.1C1017.1,116.2 1018.2,113.6 1019.3,112.6C1020.4,111.6 1021.5,110.4 1022.5,109.9C1023.5,109.5 1024.4,111.0 1025.2,109.9C1026.0,108.8 1026.7,107.8 1027.4,103.1C1028.1,98.3 1028.9,87.3 1029.6,81.4C1030.3,75.5 1031.1,70.2 1031.7,67.8C1032.3,65.4 1032.8,66.4 1033.4,67.3C1034.0,68.2 1034.8,69.3 1035.5,73.2C1036.2,77.1 1036.7,85.6 1037.4,90.9C1038.1,96.2 1038.8,103.2 1039.6,105.2C1040.4,107.2 1041.4,104.0 1042.3,103.1C1043.2,102.2 1044.1,99.8 1045.0,99.8C1045.9,99.8 1046.8,101.6 1047.7,103.1C1048.6,104.5 1049.6,108.3 1050.5,108.5C1051.4,108.7 1052.4,106.9 1053.2,104.4C1054.0,101.9 1054.4,96.5 1055.1,93.6C1055.8,90.7 1056.5,87.8 1057.2,86.8C1057.9,85.8 1058.6,86.4 1059.4,87.3C1060.2,88.2 1061.2,91.2 1062.1,92.2C1063.0,93.2 1063.8,93.7 1064.8,93.6C1065.8,93.5 1067.1,91.7 1068.1,91.7C1069.1,91.7 1069.9,91.5 1070.8,93.6C1071.7,95.7 1072.6,99.2 1073.5,104.4C1074.4,109.6 1075.3,117.3 1076.2,124.8C1077.1,132.3 1078.1,143.3 1078.9,149.2C1079.7,155.1 1080.3,158.1 1081.1,160.0C1081.9,161.9 1083.3,160.7 1083.8,160.8" fill="none" stroke="#6d9fc9" stroke-width="3.1" stroke-linejoin="round" stroke-linecap="round"/>
<path d="M152.3,38.8 V701.3" stroke="#000" stroke-width="3.6" fill="none"/>
<path d="M150.5,700.0 H1086.1000000000001" stroke="#000" stroke-width="2.7" fill="none"/>
<path d="M152.3,40.0 H1084.9 V700.0" stroke="#000" stroke-width="2.7" fill="none"/>
<line x1="152.3" y1="700.0" x2="152.3" y2="710.3" stroke="#000" stroke-width="2.4"/>
<line x1="218.9" y1="700.0" x2="218.9" y2="705.0" stroke="#000" stroke-width="2.4"/>
<line x1="285.5" y1="700.0" x2="285.5" y2="710.3" stroke="#000" stroke-width="2.4"/>
<line x1="352.1" y1="700.0" x2="352.1" y2="705.0" stroke="#000" stroke-width="2.4"/>
<line x1="418.8" y1="700.0" x2="418.8" y2="710.3" stroke="#000" stroke-width="2.4"/>
<line x1="485.4" y1="700.0" x2="485.4" y2="705.0" stroke="#000" stroke-width="2.4"/>
<line x1="552.0" y1="700.0" x2="552.0" y2="710.3" stroke="#000" stroke-width="2.4"/>
<line x1="618.6" y1="700.0" x2="618.6" y2="705.0" stroke="#000" stroke-width="2.4"/>
<line x1="685.2" y1="700.0" x2="685.2" y2="710.3" stroke="#000" stroke-width="2.4"/>
<line x1="751.8" y1="700.0" x2="751.8" y2="705.0" stroke="#000" stroke-width="2.4"/>
<line x1="818.4" y1="700.0" x2="818.4" y2="710.3" stroke="#000" stroke-width="2.4"/>
<line x1="885.1" y1="700.0" x2="885.1" y2="705.0" stroke="#000" stroke-width="2.4"/>
<line x1="951.7" y1="700.0" x2="951.7" y2="710.3" stroke="#000" stroke-width="2.4"/>
<line x1="1018.3" y1="700.0" x2="1018.3" y2="705.0" stroke="#000" stroke-width="2.4"/>
<line x1="1084.9" y1="700.0" x2="1084.9" y2="710.3" stroke="#000" stroke-width="2.4"/></g>
<g id="panel-b"><rect x="1291.7" y="49.8" width="400.69999999999993" height="764.4" fill="#fff" stroke="#b3cde0" stroke-width="15.6"/>
<rect x="1801.6" y="49.8" width="400.19999999999993" height="764.4" fill="#fff" stroke="#b3cde0" stroke-width="15.6"/>
<defs><filter id="bsoft" x="-2%" y="-10%" width="104%" height="120%"><feGaussianBlur stdDeviation="1"/></filter></defs>
<path d="M1308.0,465.0L1308.0,406.9L1311.0,406.6L1314.3,406.1L1316.5,404.8L1320.2,404.7L1323.7,404.5L1326.6,405.7L1329.0,406.6L1332.8,406.5L1334.9,407.2L1338.8,407.0L1341.2,406.9L1343.2,406.7L1346.1,407.2L1348.6,407.3L1351.0,408.0L1353.6,408.0L1357.3,408.7L1360.6,408.0L1364.6,407.6L1366.8,406.5L1370.2,406.3L1374.1,406.2L1377.8,406.9L1380.4,407.1L1384.1,407.4L1387.2,407.0L1389.2,406.5L1392.8,406.5L1395.2,406.9L1398.6,407.7L1401.3,408.2L1404.3,409.1L1407.4,408.9L1410.4,408.2L1412.4,408.4L1416.4,407.3L1419.2,406.5L1422.2,407.0L1425.7,406.7L1429.5,406.5L1432.5,406.8L1435.6,405.8L1438.2,405.4L1442.1,404.4L1445.7,405.4L1449.4,406.3L1453.1,407.1L1456.2,407.5L1458.3,408.0L1461.4,407.2L1464.4,407.2L1467.2,406.9L1470.2,407.3L1473.5,407.5L1475.5,407.6L1477.9,408.0L1481.6,408.0L1485.2,407.2L1487.7,406.6L1491.0,405.3L1493.1,405.1L1496.6,405.7L1498.8,406.4L1501.5,406.5L1503.8,407.3L1506.1,407.3L1509.6,407.4L1512.2,407.3L1514.3,407.2L1517.1,407.1L1519.3,408.1L1522.3,408.1L1525.6,409.3L1527.6,408.7L1529.9,409.3L1532.2,408.9L1535.6,407.9L1538.0,407.5L1541.6,406.4L1544.0,406.3L1546.8,406.3L1549.5,406.5L1551.6,406.3L1555.5,406.7L1558.1,406.3L1560.8,406.0L1564.3,405.3L1566.8,405.1L1570.5,406.0L1574.2,407.8L1577.3,407.7L1581.0,408.5L1584.4,407.6L1587.2,407.0L1589.6,406.9L1592.5,406.4L1594.7,406.9L1597.3,407.0L1599.9,407.4L1603.7,406.5L1606.1,406.3L1610.1,405.9L1612.8,405.0L1616.1,405.6L1620.0,405.9L1623.8,407.3L1626.7,408.2L1629.2,408.2L1631.4,407.7L1635.2,407.6L1638.7,407.8L1642.4,408.0L1645.1,408.3L1648.8,409.0L1652.7,409.1L1655.0,408.3L1657.2,407.2L1659.3,407.3L1662.9,406.4L1665.6,406.0L1669.2,405.9L1672.3,406.2L1674.5,406.5L1678.2,406.8L1678.3,406.7L1678.3,465.0Z" fill="#020202" filter="url(#bsoft)"/>
<path d="M1308.0,799.8L1308.0,733.5L1311.7,733.3L1315.0,732.1L1318.2,731.8L1321.4,731.3L1324.2,731.8L1327.7,732.7L1331.6,732.4L1334.5,732.0L1336.6,731.5L1339.5,731.5L1342.2,732.1L1345.3,732.2L1347.8,732.4L1350.4,733.2L1353.4,734.7L1356.8,734.2L1360.6,734.3L1364.0,733.7L1367.6,733.0L1370.3,733.1L1374.2,732.5L1377.7,733.0L1380.6,732.5L1383.6,732.2L1386.6,731.3L1389.3,730.8L1393.1,730.3L1396.3,731.2L1399.7,731.7L1402.1,732.1L1405.5,732.3L1409.4,732.4L1413.2,732.1L1417.1,732.5L1420.1,732.7L1423.4,733.2L1426.0,733.2L1429.1,733.7L1432.3,732.4L1435.9,732.0L1439.8,730.7L1443.2,730.5L1446.6,731.1L1449.0,732.1L1451.2,732.1L1454.9,732.2L1457.3,732.7L1460.2,732.4L1462.3,732.0L1464.6,732.4L1466.8,733.0L1468.8,733.2L1470.9,733.3L1474.5,734.1L1476.9,734.8L1479.6,734.2L1483.6,733.5L1485.7,733.1L1488.9,732.8L1491.1,732.2L1493.2,732.2L1496.7,732.6L1500.5,732.7L1504.3,732.3L1507.2,731.3L1510.5,730.8L1512.7,730.7L1516.5,730.7L1519.6,731.7L1522.7,732.3L1526.6,733.1L1529.8,733.2L1531.8,733.2L1534.1,732.4L1536.2,732.2L1538.4,732.4L1541.4,732.7L1545.3,733.0L1547.7,732.7L1550.2,732.8L1553.5,732.5L1556.9,731.2L1559.8,730.8L1561.8,730.0L1564.6,730.0L1568.0,730.6L1570.2,731.1L1572.7,731.8L1575.7,732.5L1578.3,732.9L1580.8,733.1L1584.7,732.8L1587.6,732.8L1590.7,732.8L1593.6,733.8L1595.9,733.9L1599.5,734.4L1602.6,734.6L1605.8,733.2L1609.8,732.2L1611.8,732.1L1614.0,731.6L1617.7,732.0L1619.7,732.0L1622.5,732.3L1625.0,732.4L1627.1,732.1L1629.8,732.3L1632.0,731.9L1634.4,731.6L1637.2,731.6L1640.7,732.2L1642.9,732.5L1645.1,733.7L1648.4,734.3L1651.7,733.4L1655.1,733.5L1658.5,732.5L1661.2,732.0L1664.8,731.7L1667.9,732.0L1671.8,732.4L1675.6,732.0L1678.2,731.0L1678.3,731.0L1678.3,799.8Z" fill="#0b0b0b" filter="url(#bsoft)"/>
<path d="M1816.9,464.1L1816.9,399.8L1820.2,399.1L1822.2,399.9L1824.7,399.5L1828.7,399.9L1832.4,399.5L1835.6,398.5L1838.9,398.4L1842.0,397.9L1845.3,397.4L1848.8,398.6L1851.4,398.8L1855.1,399.8L1858.6,400.2L1862.0,400.0L1864.8,399.6L1867.7,399.7L1871.5,399.2L1873.7,399.6L1877.7,400.1L1880.9,399.6L1883.9,399.0L1886.6,398.3L1889.8,397.8L1893.2,397.4L1896.9,397.7L1900.2,397.5L1903.9,398.6L1907.7,398.3L1911.2,397.8L1914.8,398.1L1917.4,398.0L1921.1,399.7L1923.3,400.1L1926.1,400.2L1928.7,401.0L1932.4,400.1L1935.7,399.4L1939.1,398.9L1942.9,399.2L1945.9,399.3L1948.5,398.7L1951.7,398.8L1954.1,399.1L1957.3,398.4L1959.4,398.7L1962.0,398.4L1965.8,397.9L1968.7,398.6L1972.0,399.5L1975.1,400.4L1979.0,400.7L1981.9,400.8L1984.4,400.0L1988.3,399.7L1991.4,399.0L1994.2,399.6L1996.3,399.8L1999.6,399.4L2002.8,399.4L2006.2,398.5L2009.6,397.9L2011.6,396.8L2015.0,397.3L2017.5,396.9L2020.7,397.4L2023.4,398.0L2026.1,398.7L2028.7,398.7L2032.3,398.3L2035.4,398.8L2038.0,398.3L2041.6,398.8L2044.0,399.5L2047.4,399.8L2050.1,400.2L2053.7,400.0L2057.4,398.9L2060.1,398.7L2063.9,397.9L2066.3,397.6L2069.4,398.0L2073.0,399.0L2075.4,398.7L2079.0,398.9L2082.6,398.4L2084.9,398.2L2088.4,398.4L2091.1,399.1L2094.0,399.9L2097.8,400.6L2099.8,401.6L2103.6,401.4L2106.5,400.9L2110.3,399.4L2113.8,399.5L2117.1,399.2L2119.7,399.2L2122.2,398.9L2125.3,398.9L2129.0,397.9L2132.8,397.6L2136.6,397.4L2140.4,397.5L2142.4,398.2L2144.8,398.4L2148.1,399.3L2150.9,399.9L2154.2,399.3L2156.7,399.5L2159.6,399.2L2162.3,398.6L2165.4,399.5L2167.7,399.8L2171.6,400.1L2175.2,399.1L2178.5,399.1L2180.6,398.0L2183.1,397.6L2186.0,397.2L2186.0,396.8L2186.0,464.1Z" fill="#020202" filter="url(#bsoft)"/>
<path d="M1816.9,800.7L1816.9,738.2L1819.0,738.2L1822.9,737.6L1826.4,736.2L1829.5,735.7L1831.8,735.4L1834.2,736.3L1837.9,736.5L1841.5,736.1L1844.1,736.4L1847.6,736.1L1851.3,735.1L1854.6,735.8L1857.6,736.0L1860.5,736.7L1864.4,738.2L1867.5,737.7L1871.3,737.5L1875.1,736.9L1878.1,736.0L1881.3,735.9L1883.6,735.9L1887.2,735.8L1889.3,736.2L1891.9,735.9L1894.8,735.1L1898.8,734.2L1901.6,733.9L1904.9,734.2L1907.6,735.3L1910.3,735.9L1914.1,736.4L1916.2,736.8L1919.7,737.2L1922.2,736.7L1924.6,736.7L1926.6,736.9L1930.4,737.5L1933.9,738.0L1935.9,737.7L1939.9,738.1L1942.7,737.7L1945.9,736.8L1948.5,735.5L1951.4,735.0L1954.2,735.7L1956.8,735.2L1958.9,735.7L1962.5,736.4L1965.1,736.4L1969.0,736.5L1971.5,736.0L1973.6,736.0L1976.9,736.2L1979.0,736.8L1981.5,737.8L1983.7,737.9L1987.3,738.2L1991.3,738.0L1993.7,737.3L1995.8,736.7L1998.3,736.5L2002.0,735.5L2004.0,735.2L2006.5,735.3L2009.0,736.0L2011.3,735.3L2015.1,735.5L2019.1,734.8L2022.9,734.6L2026.5,734.9L2029.5,735.0L2031.9,736.4L2035.7,737.5L2038.4,737.6L2042.0,737.4L2045.6,736.9L2048.9,736.7L2051.5,736.9L2055.4,736.4L2059.3,737.5L2062.6,736.5L2066.4,735.9L2070.4,735.5L2072.5,734.7L2075.8,735.1L2079.3,736.0L2081.7,735.8L2085.5,736.6L2089.3,737.0L2092.9,737.5L2096.7,737.1L2100.4,737.0L2103.8,737.6L2107.6,738.5L2110.5,738.3L2112.6,737.6L2115.7,737.2L2119.5,736.2L2121.7,735.4L2125.3,735.1L2127.3,735.4L2131.0,735.1L2134.0,735.6L2137.6,735.5L2140.1,735.5L2144.0,734.8L2146.3,735.2L2150.0,735.6L2152.9,736.6L2156.4,736.8L2160.2,737.4L2162.8,737.8L2165.7,737.3L2168.0,736.9L2170.3,735.8L2173.3,735.7L2176.4,736.2L2179.8,735.7L2182.5,736.3L2185.4,736.3L2186.0,735.7L2186.0,800.7Z" fill="#020202" filter="url(#bsoft)"/>
<path d="M1484.6,150.0L1484.6,294.3" fill="none"/>
<path d="M1484.6,150.0 L1484.6,294.3 L1484.6,294.3C1484.0,295.4 1482.8,298.6 1481.1,301.1C1479.4,303.6 1476.8,306.5 1474.3,309.2C1471.8,311.9 1468.9,314.4 1466.2,317.4C1463.5,320.3 1460.5,323.5 1458.0,326.9C1455.6,330.2 1453.1,333.9 1451.3,337.7C1449.5,341.5 1448.2,345.6 1447.2,349.9C1446.2,354.2 1445.1,359.0 1445.0,363.5C1444.9,368.0 1445.6,372.7 1446.7,377.0C1447.7,381.3 1449.4,385.6 1451.3,389.2C1453.2,392.9 1455.6,396.0 1458.0,398.7C1460.5,401.4 1463.5,403.6 1466.2,405.5C1468.9,407.4 1467.5,409.4 1474.3,410.1C1481.1,410.9 1500.3,410.9 1506.9,410.1C1513.4,409.4 1511.2,407.4 1513.7,405.5C1516.1,403.6 1519.3,401.4 1521.8,398.7C1524.3,396.0 1526.7,392.9 1528.6,389.2C1530.5,385.6 1532.2,381.3 1533.2,377.0C1534.2,372.7 1534.5,368.0 1534.5,363.5C1534.6,359.0 1534.2,354.2 1533.5,349.9C1532.7,345.6 1531.4,341.5 1529.9,337.7C1528.4,333.9 1526.5,330.2 1524.5,326.9C1522.5,323.5 1520.0,320.3 1517.7,317.4C1515.5,314.4 1513.0,311.9 1510.9,309.2C1508.9,306.5 1506.8,303.6 1505.5,301.1C1504.2,298.6 1503.7,295.4 1503.3,294.3 L1503.3,150.0 Z" fill="#0b0b0b"/>
<rect x="1478.4" y="352.6" width="23" height="19.5" rx="2" fill="#fdfdfd"/>
<path d="M1991.3,150.0 L1991.3,294.3 L1991.3,294.3C1990.1,295.4 1987.0,298.6 1984.5,301.1C1982.0,303.6 1979.1,306.5 1976.4,309.2C1973.6,311.9 1970.7,314.2 1968.2,317.4C1965.7,320.5 1963.2,324.4 1961.4,328.2C1959.6,332.1 1958.3,335.9 1957.4,340.4C1956.5,344.9 1955.9,350.6 1956.0,355.3C1956.2,360.1 1957.1,364.8 1958.2,368.9C1959.3,373.0 1960.9,376.4 1962.8,379.7C1964.7,383.1 1967.1,386.5 1969.6,389.2C1972.1,392.0 1974.8,394.1 1977.7,396.0C1980.7,398.0 1981.1,400.1 1987.2,400.9C1993.3,401.7 2008.0,401.7 2014.3,400.9C2020.7,400.1 2022.0,398.0 2025.2,396.0C2028.3,394.1 2030.8,392.0 2033.3,389.2C2035.8,386.5 2038.2,383.1 2040.1,379.7C2042.0,376.4 2043.7,373.0 2044.7,368.9C2045.8,364.8 2046.5,360.1 2046.3,355.3C2046.2,350.6 2044.9,344.9 2043.6,340.4C2042.4,335.9 2040.7,332.1 2038.7,328.2C2036.8,324.4 2034.5,320.5 2032.0,317.4C2029.5,314.2 2026.5,311.9 2023.8,309.2C2021.1,306.5 2018.1,303.6 2015.7,301.1C2013.3,298.6 2010.5,295.4 2009.5,294.3 L2009.5,150.0 Z" fill="#0b0b0b"/>
<rect x="1988.5" y="345.3" width="23.9" height="18.1" rx="2" fill="#fdfdfd"/>
<path d="M1482.4,486.8 H1501.4 V626 Q1501.4,629.4 1491.9,629.4 Q1482.4,629.4 1482.4,626 Z" fill="#181818"/>
<path d="M1991.3,487.3 H2010 V616 Q2010,619.4 2000.6,619.4 Q1991.3,619.4 1991.3,616 Z" fill="#131313"/>
<circle cx="1493.3" cy="707.8" r="43" fill="#131313"/><rect x="1445" y="733" width="100" height="22" fill="#0c0c0c"/>
<rect x="1481.9" y="700.5" width="22.8" height="13.6" rx="2" fill="#fdfdfd"/>
<path d="M2113.3,529.5L2114.9,531.3L2116.5,529.5L2118.1,531.3L2119.7,529.5L2121.3,531.3L2122.9,529.5L2124.5,531.3L2126.1,529.5L2127.7,531.3L2129.3,529.5L2130.9,531.3L2132.5,529.5L2134.1,531.3L2135.7,529.5L2137.3,531.3L2138.9,529.5L2140.5,531.3L2142.1,529.5L2143.7,531.3L2145.3,529.5L2146.9,531.3L2148.5,529.5L2150.1,531.3L2151.7,529.5L2153.3,531.3L2154.9,529.5L2156.5,531.3L2158.1,529.5L2159.7,531.3L2161.3,529.5L2162.9,531.3L2164.5,529.5L2166.1,531.3L2167.7,529.5L2169.3,531.3L2170.9,529.5L2172.5,531.3" fill="none" stroke="#e8474c" stroke-width="0.8"/></g>
<g id="panel-c"><defs><linearGradient id="cO" x1="0" y1="0" x2="0" y2="1"><stop offset="0" stop-color="#f0a858"/><stop offset="1" stop-color="#fce6cc"/></linearGradient><linearGradient id="cB" x1="0" y1="0" x2="0" y2="1"><stop offset="0" stop-color="#8fb7cf"/><stop offset="1" stop-color="#dbeaf2"/></linearGradient><linearGradient id="cP" x1="0" y1="0" x2="0" y2="1"><stop offset="0" stop-color="#c6c2df"/><stop offset="1" stop-color="#e6e3f0"/></linearGradient></defs>
<path d="M475.0,1429.2L476.0,1429.1L477.0,1429.1L478.0,1429.1L479.0,1429.1L480.0,1429.0L481.0,1429.0L482.0,1429.0L483.0,1428.9L484.0,1428.9L485.0,1428.9L486.0,1428.8L487.0,1428.8L488.0,1428.8L489.0,1428.7L490.0,1428.7L491.0,1428.6L492.0,1428.5L493.0,1428.5L494.0,1428.4L495.0,1428.3L496.0,1428.3L497.0,1428.2L498.0,1428.1L499.0,1428.0L500.0,1427.9L501.0,1427.8L502.0,1427.6L503.0,1427.5L504.0,1427.3L505.0,1427.1L506.0,1426.9L507.0,1426.7L508.0,1426.5L509.0,1426.2L510.0,1425.9L511.0,1425.6L512.0,1425.2L513.0,1424.8L514.0,1424.4L515.0,1423.9L516.0,1423.4L517.0,1422.8L518.0,1422.2L519.0,1421.5L520.0,1420.8L521.0,1419.9L522.0,1419.0L523.0,1418.0L524.0,1416.9L525.0,1415.8L526.0,1414.5L527.0,1413.1L528.0,1411.6L529.0,1409.9L530.0,1408.1L531.0,1406.2L532.0,1404.1L533.0,1401.9L534.0,1399.5L535.0,1396.9L536.0,1394.1L537.0,1391.2L538.0,1388.0L539.0,1384.6L540.0,1381.0L541.0,1377.2L542.0,1373.1L543.0,1368.8L544.0,1364.2L545.0,1359.4L546.0,1354.3L547.0,1349.0L548.0,1343.4L549.0,1337.5L550.0,1331.4L551.0,1324.9L552.0,1318.2L553.0,1311.3L554.0,1304.0L555.0,1296.6L556.0,1288.8L557.0,1280.8L558.0,1272.6L559.0,1264.2L560.0,1255.5L561.0,1246.7L562.0,1237.7L563.0,1228.5L564.0,1219.1L565.0,1209.7L566.0,1200.2L567.0,1190.6L568.0,1180.9L569.0,1171.2L570.0,1161.6L571.0,1151.9L572.0,1142.4L573.0,1132.9L574.0,1123.6L575.0,1114.5L576.0,1105.5L577.0,1096.8L578.0,1088.3L579.0,1080.1L580.0,1072.3L581.0,1064.8L582.0,1057.7L583.0,1051.0L584.0,1044.8L585.0,1039.1L586.0,1033.8L587.0,1029.1L588.0,1024.9L589.0,1021.2L590.0,1018.2L591.0,1015.7L592.0,1013.8L593.0,1012.6L594.0,1011.9L595.0,1011.9L596.0,1012.5L597.0,1013.7L598.0,1015.5L599.0,1017.8L600.0,1020.8L601.0,1024.4L602.0,1028.4L603.0,1033.1L604.0,1038.2L605.0,1043.8L606.0,1049.9L607.0,1056.4L608.0,1063.3L609.0,1070.6L610.0,1078.2L611.0,1086.2L612.0,1094.4L613.0,1102.8L614.0,1111.5L615.0,1120.4L616.0,1129.4L617.0,1138.5L618.0,1147.8L619.0,1157.0L620.0,1166.3L621.0,1175.6L622.0,1184.9L623.0,1194.1L624.0,1203.3L625.0,1212.3L626.0,1221.2L627.0,1230.0L628.0,1238.6L629.0,1247.0L630.0,1255.2L631.0,1263.2L632.0,1271.0L633.0,1278.5L634.0,1285.8L635.0,1292.9L636.0,1299.7L637.0,1306.2L638.0,1312.5L639.0,1318.5L640.0,1324.2L641.0,1329.7L642.0,1334.9L643.0,1339.9L644.0,1344.6L645.0,1349.0L646.0,1353.2L647.0,1357.2L648.0,1360.9L649.0,1364.4L650.0,1367.7L651.0,1370.8L652.0,1373.6L653.0,1376.3L654.0,1378.8L655.0,1381.1L656.0,1383.3L657.0,1385.2L658.0,1387.1L659.0,1388.8L660.0,1390.3L661.0,1391.8L662.0,1393.1L663.0,1394.3L664.0,1395.4L665.0,1396.4L666.0,1397.3L667.0,1398.2L668.0,1398.9L669.0,1399.6L670.0,1400.2L671.0,1400.8L672.0,1401.3L673.0,1401.8L674.0,1402.2L675.0,1402.5L676.0,1402.9L677.0,1403.2L678.0,1403.4L679.0,1403.7L680.0,1403.9L681.0,1404.1L682.0,1404.2L683.0,1404.4L684.0,1404.5L685.0,1404.6L686.0,1404.7L687.0,1404.8L688.0,1404.9L689.0,1405.0L690.0,1405.0L691.0,1405.1L692.0,1405.1L693.0,1405.1L694.0,1405.2L695.0,1405.2L696.0,1405.2L697.0,1405.3L698.0,1405.3L699.0,1405.3L700.0,1405.3L701.0,1405.3L702.0,1405.3L703.0,1405.3L704.0,1405.4L705.0,1405.4L706.0,1405.4L707.0,1405.4L708.0,1405.4L709.0,1405.4L710.0,1405.4L711.0,1405.4L712.0,1405.4L713.0,1405.4L714.0,1405.4L714.0,1406.0L713.0,1406.0L712.0,1406.0L711.0,1406.0L710.0,1406.0L709.0,1406.0L708.0,1406.1L707.0,1406.1L706.0,1406.1L705.0,1406.1L704.0,1406.1L703.0,1406.1L702.0,1406.1L701.0,1406.1L700.0,1406.1L699.0,1406.2L698.0,1406.2L697.0,1406.2L696.0,1406.2L695.0,1406.2L694.0,1406.2L693.0,1406.3L692.0,1406.3L691.0,1406.3L690.0,1406.3L689.0,1406.3L688.0,1406.3L687.0,1406.4L686.0,1406.4L685.0,1406.4L684.0,1406.4L683.0,1406.5L682.0,1406.5L681.0,1406.5L680.0,1406.5L679.0,1406.6L678.0,1406.6L677.0,1406.6L676.0,1406.7L675.0,1406.7L674.0,1406.7L673.0,1406.8L672.0,1406.8L671.0,1406.8L670.0,1406.9L669.0,1406.9L668.0,1407.0L667.0,1407.0L666.0,1407.0L665.0,1407.1L664.0,1407.1L663.0,1407.2L662.0,1407.2L661.0,1407.3L660.0,1407.3L659.0,1407.4L658.0,1407.5L657.0,1407.5L656.0,1407.6L655.0,1407.6L654.0,1407.7L653.0,1407.8L652.0,1407.9L651.0,1407.9L650.0,1408.0L649.0,1408.1L648.0,1408.2L647.0,1408.2L646.0,1408.3L645.0,1408.4L644.0,1408.5L643.0,1408.6L642.0,1408.7L641.0,1408.8L640.0,1408.9L639.0,1409.0L638.0,1409.1L637.0,1409.2L636.0,1409.3L635.0,1409.5L634.0,1409.6L633.0,1409.7L632.0,1409.8L631.0,1410.0L630.0,1410.1L629.0,1410.2L628.0,1410.4L627.0,1410.5L626.0,1410.7L625.0,1410.8L624.0,1411.0L623.0,1411.1L622.0,1411.3L621.0,1411.5L620.0,1411.6L619.0,1411.8L618.0,1412.0L617.0,1412.2L616.0,1412.3L615.0,1412.5L614.0,1412.7L613.0,1412.9L612.0,1413.1L611.0,1413.3L610.0,1413.5L609.0,1413.7L608.0,1413.9L607.0,1414.1L606.0,1414.3L605.0,1414.5L604.0,1414.8L603.0,1415.0L602.0,1415.2L601.0,1415.4L600.0,1415.6L599.0,1415.9L598.0,1416.1L597.0,1416.3L596.0,1416.6L595.0,1416.8L594.0,1417.0L593.0,1417.2L592.0,1417.5L591.0,1417.7L590.0,1417.9L589.0,1418.2L588.0,1418.4L587.0,1418.6L586.0,1418.9L585.0,1419.1L584.0,1419.3L583.0,1419.6L582.0,1419.8L581.0,1420.0L580.0,1420.2L579.0,1420.5L578.0,1420.7L577.0,1420.9L576.0,1421.1L575.0,1421.3L574.0,1421.6L573.0,1421.8L572.0,1422.0L571.0,1422.2L570.0,1422.4L569.0,1422.6L568.0,1422.8L567.0,1423.0L566.0,1423.2L565.0,1423.4L564.0,1423.5L563.0,1423.7L562.0,1423.9L561.0,1424.1L560.0,1424.2L559.0,1424.4L558.0,1424.6L557.0,1424.7L556.0,1424.9L555.0,1425.0L554.0,1425.2L553.0,1425.3L552.0,1425.5L551.0,1425.6L550.0,1425.8L549.0,1425.9L548.0,1426.0L547.0,1426.2L546.0,1426.3L545.0,1426.4L544.0,1426.5L543.0,1426.6L542.0,1426.7L541.0,1426.9L540.0,1427.0L539.0,1427.1L538.0,1427.2L537.0,1427.3L536.0,1427.4L535.0,1427.4L534.0,1427.5L533.0,1427.6L532.0,1427.7L531.0,1427.8L530.0,1427.9L529.0,1427.9L528.0,1428.0L527.0,1428.1L526.0,1428.1L525.0,1428.2L524.0,1428.3L523.0,1428.3L522.0,1428.4L521.0,1428.5L520.0,1428.5L519.0,1428.6L518.0,1428.6L517.0,1428.7L516.0,1428.7L515.0,1428.8L514.0,1428.8L513.0,1428.9L512.0,1428.9L511.0,1428.9L510.0,1429.0L509.0,1429.0L508.0,1429.1L507.0,1429.1L506.0,1429.1L505.0,1429.2L504.0,1429.2L503.0,1429.2L502.0,1429.3L501.0,1429.3L500.0,1429.3L499.0,1429.3L498.0,1429.4L497.0,1429.4L496.0,1429.4L495.0,1429.4L494.0,1429.5L493.0,1429.5L492.0,1429.5L491.0,1429.5L490.0,1429.5L489.0,1429.6L488.0,1429.6L487.0,1429.6L486.0,1429.6L485.0,1429.6L484.0,1429.6L483.0,1429.7L482.0,1429.7L481.0,1429.7L480.0,1429.7L479.0,1429.7L478.0,1429.7L477.0,1429.7L476.0,1429.8L475.0,1429.8Z" fill="url(#cO)" fill-opacity="1.0"/>
<path d="M165.0,1429.3L166.0,1429.3L167.0,1429.3L168.0,1429.3L169.0,1429.3L170.0,1429.3L171.0,1429.3L172.0,1429.3L173.0,1429.3L174.0,1429.2L175.0,1429.2L176.0,1429.2L177.0,1429.2L178.0,1429.2L179.0,1429.2L180.0,1429.2L181.0,1429.2L182.0,1429.2L183.0,1429.2L184.0,1429.2L185.0,1429.2L186.0,1429.2L187.0,1429.2L188.0,1429.2L189.0,1429.2L190.0,1429.2L191.0,1429.2L192.0,1429.2L193.0,1429.2L194.0,1429.2L195.0,1429.1L196.0,1429.1L197.0,1429.1L198.0,1429.1L199.0,1429.1L200.0,1429.1L201.0,1429.1L202.0,1429.1L203.0,1429.1L204.0,1429.1L205.0,1429.1L206.0,1429.1L207.0,1429.1L208.0,1429.1L209.0,1429.1L210.0,1429.1L211.0,1429.1L212.0,1429.1L213.0,1429.0L214.0,1429.0L215.0,1429.0L216.0,1429.0L217.0,1429.0L218.0,1429.0L219.0,1429.0L220.0,1429.0L221.0,1429.0L222.0,1429.0L223.0,1429.0L224.0,1429.0L225.0,1429.0L226.0,1429.0L227.0,1429.0L228.0,1429.0L229.0,1428.9L230.0,1428.9L231.0,1428.9L232.0,1428.9L233.0,1428.9L234.0,1428.9L235.0,1428.9L236.0,1428.9L237.0,1428.9L238.0,1428.9L239.0,1428.9L240.0,1428.9L241.0,1428.9L242.0,1428.8L243.0,1428.8L244.0,1428.8L245.0,1428.8L246.0,1428.8L247.0,1428.8L248.0,1428.8L249.0,1428.8L250.0,1428.8L251.0,1428.8L252.0,1428.8L253.0,1428.8L254.0,1428.7L255.0,1428.7L256.0,1428.7L257.0,1428.7L258.0,1428.7L259.0,1428.7L260.0,1428.7L261.0,1428.7L262.0,1428.7L263.0,1428.7L264.0,1428.7L265.0,1428.6L266.0,1428.6L267.0,1428.6L268.0,1428.6L269.0,1428.6L270.0,1428.6L271.0,1428.6L272.0,1428.6L273.0,1428.6L274.0,1428.6L275.0,1428.5L276.0,1428.5L277.0,1428.5L278.0,1428.5L279.0,1428.5L280.0,1428.5L281.0,1428.5L282.0,1428.5L283.0,1428.4L284.0,1428.4L285.0,1428.4L286.0,1428.4L287.0,1428.4L288.0,1428.4L289.0,1428.4L290.0,1428.4L291.0,1428.3L292.0,1428.3L293.0,1428.3L294.0,1428.3L295.0,1428.3L296.0,1428.3L297.0,1428.3L298.0,1428.2L299.0,1428.2L300.0,1428.2L301.0,1428.2L302.0,1428.2L303.0,1428.2L304.0,1428.2L305.0,1428.1L306.0,1428.1L307.0,1428.1L308.0,1428.1L309.0,1428.1L310.0,1428.1L311.0,1428.0L312.0,1428.0L313.0,1428.0L314.0,1428.0L315.0,1428.0L316.0,1428.0L317.0,1427.9L318.0,1427.9L319.0,1427.9L320.0,1427.9L321.0,1427.9L322.0,1427.8L323.0,1427.8L324.0,1427.8L325.0,1427.8L326.0,1427.8L327.0,1427.7L328.0,1427.7L329.0,1427.7L330.0,1427.7L331.0,1427.7L332.0,1427.6L333.0,1427.6L334.0,1427.6L335.0,1427.6L336.0,1427.5L337.0,1427.5L338.0,1427.5L339.0,1427.5L340.0,1427.4L341.0,1427.4L342.0,1427.4L343.0,1427.4L344.0,1427.3L345.0,1427.3L346.0,1427.3L347.0,1427.3L348.0,1427.2L349.0,1427.2L350.0,1427.2L351.0,1427.1L352.0,1427.1L353.0,1427.1L354.0,1427.0L355.0,1427.0L356.0,1427.0L357.0,1426.9L358.0,1426.9L359.0,1426.9L360.0,1426.8L361.0,1426.8L362.0,1426.8L363.0,1426.7L364.0,1426.7L365.0,1426.7L366.0,1426.6L367.0,1426.6L368.0,1426.6L369.0,1426.5L370.0,1426.5L371.0,1426.4L372.0,1426.4L373.0,1426.4L374.0,1426.3L375.0,1426.3L376.0,1426.2L377.0,1426.2L378.0,1426.1L379.0,1426.1L380.0,1426.0L381.0,1426.0L382.0,1425.9L383.0,1425.9L384.0,1425.8L385.0,1425.8L386.0,1425.7L387.0,1425.7L388.0,1425.6L389.0,1425.6L390.0,1425.5L391.0,1425.5L392.0,1425.4L393.0,1425.3L394.0,1425.3L395.0,1425.2L396.0,1425.1L397.0,1425.1L398.0,1425.0L399.0,1424.9L400.0,1424.9L401.0,1424.8L402.0,1424.7L403.0,1424.7L404.0,1424.6L405.0,1424.5L406.0,1424.4L407.0,1424.3L408.0,1424.3L409.0,1424.2L410.0,1424.1L411.0,1424.0L412.0,1423.9L413.0,1423.8L414.0,1423.7L415.0,1423.6L416.0,1423.5L417.0,1423.4L418.0,1423.3L419.0,1423.2L420.0,1423.1L421.0,1423.0L422.0,1422.9L423.0,1422.8L424.0,1422.7L425.0,1422.6L426.0,1422.4L427.0,1422.3L428.0,1422.2L429.0,1422.0L430.0,1421.9L431.0,1421.8L432.0,1421.6L433.0,1421.5L434.0,1421.3L435.0,1421.2L436.0,1421.0L437.0,1420.9L438.0,1420.7L439.0,1420.5L440.0,1420.3L441.0,1420.2L442.0,1420.0L443.0,1419.8L444.0,1419.6L445.0,1419.4L446.0,1419.2L447.0,1419.0L448.0,1418.7L449.0,1418.5L450.0,1418.3L451.0,1418.0L452.0,1417.8L453.0,1417.5L454.0,1417.3L455.0,1417.0L456.0,1416.7L457.0,1416.4L458.0,1416.1L459.0,1415.8L460.0,1415.5L461.0,1415.2L462.0,1414.8L463.0,1414.5L464.0,1414.1L465.0,1413.7L466.0,1413.4L467.0,1412.9L468.0,1412.5L469.0,1412.1L470.0,1411.6L471.0,1411.1L472.0,1410.6L473.0,1410.1L474.0,1409.6L475.0,1409.0L476.0,1408.4L477.0,1407.8L478.0,1407.2L479.0,1406.5L480.0,1405.8L481.0,1405.0L482.0,1404.2L483.0,1403.4L484.0,1402.5L485.0,1401.6L486.0,1400.6L487.0,1399.6L488.0,1398.5L489.0,1397.4L490.0,1396.2L491.0,1394.9L492.0,1393.6L493.0,1392.2L494.0,1390.7L495.0,1389.1L496.0,1387.4L497.0,1385.6L498.0,1383.7L499.0,1381.7L500.0,1379.6L501.0,1377.4L502.0,1375.1L503.0,1372.6L504.0,1370.0L505.0,1367.2L506.0,1364.3L507.0,1361.3L508.0,1358.1L509.0,1354.7L510.0,1351.2L511.0,1347.5L512.0,1343.6L513.0,1339.5L514.0,1335.3L515.0,1330.9L516.0,1326.3L517.0,1321.5L518.0,1316.6L519.0,1311.5L520.0,1306.2L521.0,1300.7L522.0,1295.1L523.0,1289.4L524.0,1283.5L525.0,1277.5L526.0,1271.4L527.0,1265.2L528.0,1259.0L529.0,1252.8L530.0,1246.6L531.0,1240.5L532.0,1234.5L533.0,1228.6L534.0,1223.0L535.0,1217.6L536.0,1212.6L537.0,1208.0L538.0,1203.8L539.0,1200.1L540.0,1197.0L541.0,1194.5L542.0,1192.6L543.0,1191.4L544.0,1190.9L545.0,1191.1L546.0,1192.0L547.0,1193.6L548.0,1195.8L549.0,1198.6L550.0,1202.0L551.0,1205.9L552.0,1210.3L553.0,1215.0L554.0,1220.1L555.0,1225.5L556.0,1231.1L557.0,1236.8L558.0,1242.7L559.0,1248.6L560.0,1254.6L561.0,1260.6L562.0,1266.5L563.0,1272.4L564.0,1278.1L565.0,1283.8L566.0,1289.3L567.0,1294.7L568.0,1299.9L569.0,1305.0L570.0,1309.9L571.0,1314.6L572.0,1319.1L573.0,1323.4L574.0,1327.6L575.0,1331.6L576.0,1335.4L577.0,1339.0L578.0,1342.5L579.0,1345.8L580.0,1348.9L581.0,1351.9L582.0,1354.7L583.0,1357.3L584.0,1359.8L585.0,1362.2L586.0,1364.4L587.0,1366.5L588.0,1368.5L589.0,1370.4L590.0,1372.1L591.0,1373.7L592.0,1375.3L593.0,1376.7L594.0,1378.0L595.0,1379.3L596.0,1380.5L597.0,1381.6L598.0,1382.6L599.0,1383.6L600.0,1384.5L601.0,1385.3L602.0,1386.1L603.0,1386.9L604.0,1387.5L605.0,1388.2L606.0,1388.8L607.0,1389.4L608.0,1389.9L609.0,1390.4L610.0,1390.9L611.0,1391.3L612.0,1391.7L613.0,1392.1L614.0,1392.5L615.0,1392.8L616.0,1393.1L617.0,1393.4L618.0,1393.7L619.0,1394.0L620.0,1394.3L621.0,1394.5L622.0,1394.8L623.0,1395.0L624.0,1395.2L625.0,1395.4L626.0,1395.6L627.0,1395.8L628.0,1396.0L629.0,1396.2L630.0,1396.3L631.0,1396.5L632.0,1396.6L633.0,1396.8L634.0,1396.9L635.0,1397.1L636.0,1397.2L637.0,1397.3L638.0,1397.4L639.0,1397.6L640.0,1397.7L641.0,1397.8L642.0,1397.9L643.0,1398.0L644.0,1398.1L645.0,1398.2L646.0,1398.3L647.0,1398.4L648.0,1398.5L649.0,1398.6L650.0,1398.7L651.0,1398.8L652.0,1398.9L653.0,1399.0L654.0,1399.0L655.0,1399.1L656.0,1399.2L657.0,1399.3L658.0,1399.4L659.0,1399.4L660.0,1399.5L661.0,1399.6L662.0,1399.7L663.0,1399.7L664.0,1399.8L665.0,1399.9L666.0,1399.9L667.0,1400.0L668.0,1400.1L669.0,1400.1L670.0,1400.2L671.0,1400.2L672.0,1400.3L673.0,1400.4L674.0,1400.4L675.0,1400.5L676.0,1400.5L677.0,1400.6L678.0,1400.7L679.0,1400.7L680.0,1400.8L681.0,1400.8L682.0,1400.9L683.0,1400.9L684.0,1401.0L685.0,1401.0L686.0,1401.1L687.0,1401.1L688.0,1401.2L689.0,1401.2L690.0,1401.3L691.0,1401.3L692.0,1401.4L693.0,1401.4L694.0,1401.5L695.0,1401.5L696.0,1401.6L697.0,1401.6L698.0,1401.6L699.0,1401.7L700.0,1401.7L701.0,1401.8L702.0,1401.8L703.0,1401.9L704.0,1401.9L705.0,1401.9L706.0,1402.0L707.0,1402.0L708.0,1402.0L709.0,1402.1L710.0,1402.1L711.0,1402.2L712.0,1402.2L713.0,1402.2L714.0,1402.3L715.0,1402.3L716.0,1402.3L717.0,1402.4L718.0,1402.4L719.0,1402.4L720.0,1402.5L721.0,1402.5L722.0,1402.5L723.0,1402.6L724.0,1402.6L725.0,1402.6L726.0,1402.7L727.0,1402.7L728.0,1402.7L729.0,1402.7L730.0,1402.8L731.0,1402.8L732.0,1402.8L733.0,1402.9L734.0,1402.9L735.0,1402.9L736.0,1402.9L737.0,1403.0L738.0,1403.0L739.0,1403.0L740.0,1403.0L741.0,1403.1L742.0,1403.1L743.0,1403.1L744.0,1403.1L745.0,1403.2L746.0,1403.2L747.0,1403.2L748.0,1403.2L749.0,1403.3L750.0,1403.3L751.0,1403.3L752.0,1403.3L753.0,1403.4L754.0,1403.4L755.0,1403.4L756.0,1403.4L757.0,1403.4L758.0,1403.5L759.0,1403.5L760.0,1403.5L761.0,1403.5L762.0,1403.5L763.0,1403.6L764.0,1403.6L765.0,1403.6L766.0,1403.6L767.0,1403.6L768.0,1403.7L769.0,1403.7L770.0,1403.7L771.0,1403.7L772.0,1403.7L773.0,1403.7L774.0,1403.8L775.0,1403.8L776.0,1403.8L777.0,1403.8L778.0,1403.8L779.0,1403.8L780.0,1403.9L781.0,1403.9L782.0,1403.9L783.0,1403.9L784.0,1403.9L785.0,1403.9L786.0,1403.9L787.0,1404.0L788.0,1404.0L789.0,1404.0L790.0,1404.0L791.0,1404.0L792.0,1404.0L793.0,1404.0L794.0,1404.1L795.0,1404.1L796.0,1404.1L797.0,1404.1L798.0,1404.1L799.0,1404.1L800.0,1404.1L801.0,1404.2L802.0,1404.2L803.0,1404.2L804.0,1404.2L805.0,1404.2L806.0,1404.2L807.0,1404.2L808.0,1404.2L809.0,1404.2L810.0,1404.3L811.0,1404.3L812.0,1404.3L813.0,1404.3L814.0,1404.3L815.0,1404.3L816.0,1404.3L817.0,1404.3L818.0,1404.3L819.0,1404.4L820.0,1404.4L821.0,1404.4L822.0,1404.4L823.0,1404.4L824.0,1404.4L825.0,1404.4L826.0,1404.4L827.0,1404.4L828.0,1404.4L829.0,1404.5L830.0,1404.5L831.0,1404.5L832.0,1404.5L833.0,1404.5L834.0,1404.5L835.0,1404.5L836.0,1404.5L837.0,1404.5L838.0,1404.5L839.0,1404.5L840.0,1404.6L841.0,1404.6L842.0,1404.6L843.0,1404.6L844.0,1404.6L845.0,1404.6L846.0,1404.6L847.0,1404.6L848.0,1404.6L849.0,1404.6L850.0,1404.6L851.0,1404.6L852.0,1404.6L853.0,1404.7L854.0,1404.7L855.0,1404.7L856.0,1404.7L857.0,1404.7L858.0,1404.7L859.0,1404.7L860.0,1404.7L861.0,1404.7L862.0,1404.7L863.0,1404.7L864.0,1404.7L865.0,1404.7L866.0,1404.7L867.0,1404.7L868.0,1404.8L869.0,1404.8L870.0,1404.8L871.0,1404.8L872.0,1404.8L873.0,1404.8L874.0,1404.8L875.0,1404.8L876.0,1404.8L877.0,1404.8L878.0,1404.8L879.0,1404.8L880.0,1404.8L881.0,1404.8L882.0,1404.8L883.0,1404.8L884.0,1404.9L885.0,1404.9L886.0,1404.9L887.0,1404.9L888.0,1404.9L889.0,1404.9L890.0,1404.9L891.0,1404.9L892.0,1404.9L893.0,1404.9L894.0,1404.9L895.0,1404.9L896.0,1404.9L897.0,1404.9L898.0,1404.9L899.0,1404.9L900.0,1404.9L901.0,1404.9L902.0,1404.9L903.0,1404.9L904.0,1405.0L905.0,1405.0L906.0,1405.0L907.0,1405.0L908.0,1405.0L909.0,1405.0L910.0,1405.0L911.0,1405.0L912.0,1405.0L913.0,1405.0L914.0,1405.0L915.0,1405.0L916.0,1405.0L917.0,1405.0L918.0,1405.0L919.0,1405.0L920.0,1405.0L921.0,1405.0L922.0,1405.0L923.0,1405.0L924.0,1405.0L925.0,1405.0L926.0,1405.0L927.0,1405.1L928.0,1405.1L929.0,1405.1L930.0,1405.1L931.0,1405.1L932.0,1405.1L933.0,1405.1L934.0,1405.1L935.0,1405.1L936.0,1405.1L937.0,1405.1L938.0,1405.1L939.0,1405.1L940.0,1405.1L941.0,1405.1L942.0,1405.1L943.0,1405.1L944.0,1405.1L945.0,1405.1L946.0,1405.1L947.0,1405.1L948.0,1405.1L949.0,1405.1L950.0,1405.1L951.0,1405.1L952.0,1405.1L953.0,1405.1L954.0,1405.1L955.0,1405.1L956.0,1405.2L957.0,1405.2L958.0,1405.2L959.0,1405.2L960.0,1405.2L961.0,1405.2L962.0,1405.2L963.0,1405.2L964.0,1405.2L965.0,1405.2L966.0,1405.2L967.0,1405.2L968.0,1405.2L969.0,1405.2L970.0,1405.2L971.0,1405.2L972.0,1405.2L972.0,1405.8L971.0,1405.8L970.0,1405.8L969.0,1405.8L968.0,1405.8L967.0,1405.8L966.0,1405.8L965.0,1405.8L964.0,1405.8L963.0,1405.8L962.0,1405.8L961.0,1405.8L960.0,1405.8L959.0,1405.8L958.0,1405.8L957.0,1405.8L956.0,1405.8L955.0,1405.8L954.0,1405.8L953.0,1405.8L952.0,1405.8L951.0,1405.8L950.0,1405.8L949.0,1405.8L948.0,1405.8L947.0,1405.8L946.0,1405.8L945.0,1405.8L944.0,1405.8L943.0,1405.8L942.0,1405.8L941.0,1405.8L940.0,1405.8L939.0,1405.8L938.0,1405.8L937.0,1405.8L936.0,1405.8L935.0,1405.8L934.0,1405.8L933.0,1405.8L932.0,1405.8L931.0,1405.8L930.0,1405.8L929.0,1405.8L928.0,1405.8L927.0,1405.8L926.0,1405.8L925.0,1405.8L924.0,1405.8L923.0,1405.8L922.0,1405.8L921.0,1405.8L920.0,1405.8L919.0,1405.8L918.0,1405.8L917.0,1405.8L916.0,1405.8L915.0,1405.8L914.0,1405.8L913.0,1405.8L912.0,1405.8L911.0,1405.8L910.0,1405.8L909.0,1405.8L908.0,1405.8L907.0,1405.8L906.0,1405.8L905.0,1405.8L904.0,1405.8L903.0,1405.8L902.0,1405.8L901.0,1405.8L900.0,1405.8L899.0,1405.8L898.0,1405.8L897.0,1405.8L896.0,1405.8L895.0,1405.8L894.0,1405.8L893.0,1405.8L892.0,1405.8L891.0,1405.8L890.0,1405.8L889.0,1405.8L888.0,1405.8L887.0,1405.8L886.0,1405.8L885.0,1405.8L884.0,1405.8L883.0,1405.8L882.0,1405.8L881.0,1405.8L880.0,1405.8L879.0,1405.8L878.0,1405.8L877.0,1405.8L876.0,1405.8L875.0,1405.8L874.0,1405.8L873.0,1405.8L872.0,1405.8L871.0,1405.8L870.0,1405.8L869.0,1405.8L868.0,1405.8L867.0,1405.8L866.0,1405.8L865.0,1405.8L864.0,1405.8L863.0,1405.8L862.0,1405.8L861.0,1405.8L860.0,1405.8L859.0,1405.8L858.0,1405.8L857.0,1405.8L856.0,1405.8L855.0,1405.8L854.0,1405.8L853.0,1405.8L852.0,1405.8L851.0,1405.8L850.0,1405.8L849.0,1405.8L848.0,1405.8L847.0,1405.8L846.0,1405.8L845.0,1405.8L844.0,1405.8L843.0,1405.8L842.0,1405.8L841.0,1405.8L840.0,1405.8L839.0,1405.8L838.0,1405.8L837.0,1405.8L836.0,1405.8L835.0,1405.8L834.0,1405.8L833.0,1405.8L832.0,1405.8L831.0,1405.8L830.0,1405.8L829.0,1405.8L828.0,1405.8L827.0,1405.8L826.0,1405.8L825.0,1405.8L824.0,1405.8L823.0,1405.8L822.0,1405.8L821.0,1405.8L820.0,1405.8L819.0,1405.8L818.0,1405.8L817.0,1405.8L816.0,1405.8L815.0,1405.8L814.0,1405.8L813.0,1405.8L812.0,1405.8L811.0,1405.8L810.0,1405.8L809.0,1405.8L808.0,1405.8L807.0,1405.8L806.0,1405.8L805.0,1405.8L804.0,1405.8L803.0,1405.8L802.0,1405.8L801.0,1405.8L800.0,1405.8L799.0,1405.8L798.0,1405.8L797.0,1405.8L796.0,1405.8L795.0,1405.8L794.0,1405.8L793.0,1405.8L792.0,1405.8L791.0,1405.8L790.0,1405.8L789.0,1405.8L788.0,1405.8L787.0,1405.8L786.0,1405.8L785.0,1405.8L784.0,1405.8L783.0,1405.8L782.0,1405.8L781.0,1405.8L780.0,1405.8L779.0,1405.8L778.0,1405.8L777.0,1405.8L776.0,1405.8L775.0,1405.8L774.0,1405.8L773.0,1405.8L772.0,1405.8L771.0,1405.8L770.0,1405.8L769.0,1405.8L768.0,1405.8L767.0,1405.8L766.0,1405.8L765.0,1405.8L764.0,1405.8L763.0,1405.8L762.0,1405.8L761.0,1405.8L760.0,1405.8L759.0,1405.8L758.0,1405.8L757.0,1405.8L756.0,1405.8L755.0,1405.8L754.0,1405.8L753.0,1405.8L752.0,1405.8L751.0,1405.8L750.0,1405.9L749.0,1405.9L748.0,1405.9L747.0,1405.9L746.0,1405.9L745.0,1405.9L744.0,1405.9L743.0,1405.9L742.0,1405.9L741.0,1405.9L740.0,1405.9L739.0,1405.9L738.0,1405.9L737.0,1405.9L736.0,1405.9L735.0,1405.9L734.0,1405.9L733.0,1405.9L732.0,1405.9L731.0,1405.9L730.0,1405.9L729.0,1405.9L728.0,1405.9L727.0,1405.9L726.0,1405.9L725.0,1405.9L724.0,1405.9L723.0,1405.9L722.0,1406.0L721.0,1406.0L720.0,1406.0L719.0,1406.0L718.0,1406.0L717.0,1406.0L716.0,1406.0L715.0,1406.0L714.0,1406.0L713.0,1406.0L712.0,1406.0L711.0,1406.0L710.0,1406.0L709.0,1406.0L708.0,1406.1L707.0,1406.1L706.0,1406.1L705.0,1406.1L704.0,1406.1L703.0,1406.1L702.0,1406.1L701.0,1406.1L700.0,1406.1L699.0,1406.2L698.0,1406.2L697.0,1406.2L696.0,1406.2L695.0,1406.2L694.0,1406.2L693.0,1406.3L692.0,1406.3L691.0,1406.3L690.0,1406.3L689.0,1406.3L688.0,1406.3L687.0,1406.4L686.0,1406.4L685.0,1406.4L684.0,1406.4L683.0,1406.5L682.0,1406.5L681.0,1406.5L680.0,1406.5L679.0,1406.6L678.0,1406.6L677.0,1406.6L676.0,1406.7L675.0,1406.7L674.0,1406.7L673.0,1406.8L672.0,1406.8L671.0,1406.8L670.0,1406.9L669.0,1406.9L668.0,1407.0L667.0,1407.0L666.0,1407.0L665.0,1407.1L664.0,1407.1L663.0,1407.2L662.0,1407.2L661.0,1407.3L660.0,1407.3L659.0,1407.4L658.0,1407.5L657.0,1407.5L656.0,1407.6L655.0,1407.6L654.0,1407.7L653.0,1407.8L652.0,1407.9L651.0,1407.9L650.0,1408.0L649.0,1408.1L648.0,1408.2L647.0,1408.2L646.0,1408.3L645.0,1408.4L644.0,1408.5L643.0,1408.6L642.0,1408.7L641.0,1408.8L640.0,1408.9L639.0,1409.0L638.0,1409.1L637.0,1409.2L636.0,1409.3L635.0,1409.5L634.0,1409.6L633.0,1409.7L632.0,1409.8L631.0,1410.0L630.0,1410.1L629.0,1410.2L628.0,1410.4L627.0,1410.5L626.0,1410.7L625.0,1410.8L624.0,1411.0L623.0,1411.1L622.0,1411.3L621.0,1411.5L620.0,1411.6L619.0,1411.8L618.0,1412.0L617.0,1412.2L616.0,1412.3L615.0,1412.5L614.0,1412.7L613.0,1412.9L612.0,1413.1L611.0,1413.3L610.0,1413.5L609.0,1413.7L608.0,1413.9L607.0,1414.1L606.0,1414.3L605.0,1414.5L604.0,1414.8L603.0,1415.0L602.0,1415.2L601.0,1415.4L600.0,1415.6L599.0,1415.9L598.0,1416.1L597.0,1416.3L596.0,1416.6L595.0,1416.8L594.0,1417.0L593.0,1417.2L592.0,1417.5L591.0,1417.7L590.0,1417.9L589.0,1418.2L588.0,1418.4L587.0,1418.6L586.0,1418.9L585.0,1419.1L584.0,1419.3L583.0,1419.6L582.0,1419.8L581.0,1420.0L580.0,1420.2L579.0,1420.5L578.0,1420.7L577.0,1420.9L576.0,1421.1L575.0,1421.3L574.0,1421.6L573.0,1421.8L572.0,1422.0L571.0,1422.2L570.0,1422.4L569.0,1422.6L568.0,1422.8L567.0,1423.0L566.0,1423.2L565.0,1423.4L564.0,1423.5L563.0,1423.7L562.0,1423.9L561.0,1424.1L560.0,1424.2L559.0,1424.4L558.0,1424.6L557.0,1424.7L556.0,1424.9L555.0,1425.0L554.0,1425.2L553.0,1425.3L552.0,1425.5L551.0,1425.6L550.0,1425.8L549.0,1425.9L548.0,1426.0L547.0,1426.2L546.0,1426.3L545.0,1426.4L544.0,1426.5L543.0,1426.6L542.0,1426.7L541.0,1426.9L540.0,1427.0L539.0,1427.1L538.0,1427.2L537.0,1427.3L536.0,1427.4L535.0,1427.4L534.0,1427.5L533.0,1427.6L532.0,1427.7L531.0,1427.8L530.0,1427.9L529.0,1427.9L528.0,1428.0L527.0,1428.1L526.0,1428.1L525.0,1428.2L524.0,1428.3L523.0,1428.3L522.0,1428.4L521.0,1428.5L520.0,1428.5L519.0,1428.6L518.0,1428.6L517.0,1428.7L516.0,1428.7L515.0,1428.8L514.0,1428.8L513.0,1428.9L512.0,1428.9L511.0,1428.9L510.0,1429.0L509.0,1429.0L508.0,1429.1L507.0,1429.1L506.0,1429.1L505.0,1429.2L504.0,1429.2L503.0,1429.2L502.0,1429.3L501.0,1429.3L500.0,1429.3L499.0,1429.3L498.0,1429.4L497.0,1429.4L496.0,1429.4L495.0,1429.4L494.0,1429.5L493.0,1429.5L492.0,1429.5L491.0,1429.5L490.0,1429.5L489.0,1429.6L488.0,1429.6L487.0,1429.6L486.0,1429.6L485.0,1429.6L484.0,1429.6L483.0,1429.7L482.0,1429.7L481.0,1429.7L480.0,1429.7L479.0,1429.7L478.0,1429.7L477.0,1429.7L476.0,1429.8L475.0,1429.8L474.0,1429.8L473.0,1429.8L472.0,1429.8L471.0,1429.8L470.0,1429.8L469.0,1429.8L468.0,1429.8L467.0,1429.8L466.0,1429.8L465.0,1429.9L464.0,1429.9L463.0,1429.9L462.0,1429.9L461.0,1429.9L460.0,1429.9L459.0,1429.9L458.0,1429.9L457.0,1429.9L456.0,1429.9L455.0,1429.9L454.0,1429.9L453.0,1429.9L452.0,1429.9L451.0,1429.9L450.0,1429.9L449.0,1429.9L448.0,1429.9L447.0,1430.0L446.0,1430.0L445.0,1430.0L444.0,1430.0L443.0,1430.0L442.0,1430.0L441.0,1430.0L440.0,1430.0L439.0,1430.0L438.0,1430.0L437.0,1430.0L436.0,1430.0L435.0,1430.0L434.0,1430.0L433.0,1430.0L432.0,1430.0L431.0,1430.0L430.0,1430.0L429.0,1430.0L428.0,1430.0L427.0,1430.0L426.0,1430.0L425.0,1430.0L424.0,1430.0L423.0,1430.0L422.0,1430.0L421.0,1430.0L420.0,1430.0L419.0,1430.0L418.0,1430.0L417.0,1430.0L416.0,1430.0L415.0,1430.0L414.0,1430.0L413.0,1430.0L412.0,1430.0L411.0,1430.0L410.0,1430.0L409.0,1430.0L408.0,1430.0L407.0,1430.0L406.0,1430.0L405.0,1430.0L404.0,1430.0L403.0,1430.0L402.0,1430.0L401.0,1430.0L400.0,1430.0L399.0,1430.0L398.0,1430.0L397.0,1430.0L396.0,1430.0L395.0,1430.0L394.0,1430.0L393.0,1430.0L392.0,1430.0L391.0,1430.0L390.0,1430.0L389.0,1430.0L388.0,1430.0L387.0,1430.0L386.0,1430.0L385.0,1430.0L384.0,1430.0L383.0,1430.0L382.0,1430.0L381.0,1430.0L380.0,1430.0L379.0,1430.0L378.0,1430.0L377.0,1430.0L376.0,1430.0L375.0,1430.0L374.0,1430.0L373.0,1430.0L372.0,1430.0L371.0,1430.0L370.0,1430.0L369.0,1430.0L368.0,1430.0L367.0,1430.0L366.0,1430.0L365.0,1430.0L364.0,1430.0L363.0,1430.0L362.0,1430.0L361.0,1430.0L360.0,1430.0L359.0,1430.0L358.0,1430.0L357.0,1430.0L356.0,1430.0L355.0,1430.0L354.0,1430.0L353.0,1430.0L352.0,1430.0L351.0,1430.0L350.0,1430.0L349.0,1430.0L348.0,1430.0L347.0,1430.0L346.0,1430.0L345.0,1430.0L344.0,1430.0L343.0,1430.0L342.0,1430.0L341.0,1430.0L340.0,1430.0L339.0,1430.0L338.0,1430.0L337.0,1430.0L336.0,1430.0L335.0,1430.0L334.0,1430.0L333.0,1430.0L332.0,1430.0L331.0,1430.0L330.0,1430.0L329.0,1430.0L328.0,1430.0L327.0,1430.0L326.0,1430.0L325.0,1430.0L324.0,1430.0L323.0,1430.0L322.0,1430.0L321.0,1430.0L320.0,1430.0L319.0,1430.0L318.0,1430.0L317.0,1430.0L316.0,1430.0L315.0,1430.0L314.0,1430.0L313.0,1430.0L312.0,1430.0L311.0,1430.0L310.0,1430.0L309.0,1430.0L308.0,1430.0L307.0,1430.0L306.0,1430.0L305.0,1430.0L304.0,1430.0L303.0,1430.0L302.0,1430.0L301.0,1430.0L300.0,1430.0L299.0,1430.0L298.0,1430.0L297.0,1430.0L296.0,1430.0L295.0,1430.0L294.0,1430.0L293.0,1430.0L292.0,1430.0L291.0,1430.0L290.0,1430.0L289.0,1430.0L288.0,1430.0L287.0,1430.0L286.0,1430.0L285.0,1430.0L284.0,1430.0L283.0,1430.0L282.0,1430.0L281.0,1430.0L280.0,1430.0L279.0,1430.0L278.0,1430.0L277.0,1430.0L276.0,1430.0L275.0,1430.0L274.0,1430.0L273.0,1430.0L272.0,1430.0L271.0,1430.0L270.0,1430.0L269.0,1430.0L268.0,1430.0L267.0,1430.0L266.0,1430.0L265.0,1430.0L264.0,1430.0L263.0,1430.0L262.0,1430.0L261.0,1430.0L260.0,1430.0L259.0,1430.0L258.0,1430.0L257.0,1430.0L256.0,1430.0L255.0,1430.0L254.0,1430.0L253.0,1430.0L252.0,1430.0L251.0,1430.0L250.0,1430.0L249.0,1430.0L248.0,1430.0L247.0,1430.0L246.0,1430.0L245.0,1430.0L244.0,1430.0L243.0,1430.0L242.0,1430.0L241.0,1430.0L240.0,1430.0L239.0,1430.0L238.0,1430.0L237.0,1430.0L236.0,1430.0L235.0,1430.0L234.0,1430.0L233.0,1430.0L232.0,1430.0L231.0,1430.0L230.0,1430.0L229.0,1430.0L228.0,1430.0L227.0,1430.0L226.0,1430.0L225.0,1430.0L224.0,1430.0L223.0,1430.0L222.0,1430.0L221.0,1430.0L220.0,1430.0L219.0,1430.0L218.0,1430.0L217.0,1430.0L216.0,1430.0L215.0,1430.0L214.0,1430.0L213.0,1430.0L212.0,1430.0L211.0,1430.0L210.0,1430.0L209.0,1430.0L208.0,1430.0L207.0,1430.0L206.0,1430.0L205.0,1430.0L204.0,1430.0L203.0,1430.0L202.0,1430.0L201.0,1430.0L200.0,1430.0L199.0,1430.0L198.0,1430.0L197.0,1430.0L196.0,1430.0L195.0,1430.0L194.0,1430.0L193.0,1430.0L192.0,1430.0L191.0,1430.0L190.0,1430.0L189.0,1430.0L188.0,1430.0L187.0,1430.0L186.0,1430.0L185.0,1430.0L184.0,1430.0L183.0,1430.0L182.0,1430.0L181.0,1430.0L180.0,1430.0L179.0,1430.0L178.0,1430.0L177.0,1430.0L176.0,1430.0L175.0,1430.0L174.0,1430.0L173.0,1430.0L172.0,1430.0L171.0,1430.0L170.0,1430.0L169.0,1430.0L168.0,1430.0L167.0,1430.0L166.0,1430.0L165.0,1430.0Z" fill="url(#cB)" fill-opacity="0.82"/>
<path d="M284.0,1429.4L285.0,1429.4L286.0,1429.4L287.0,1429.4L288.0,1429.4L289.0,1429.4L290.0,1429.4L291.0,1429.4L292.0,1429.4L293.0,1429.4L294.0,1429.4L295.0,1429.4L296.0,1429.4L297.0,1429.4L298.0,1429.4L299.0,1429.4L300.0,1429.4L301.0,1429.4L302.0,1429.4L303.0,1429.4L304.0,1429.4L305.0,1429.4L306.0,1429.4L307.0,1429.4L308.0,1429.4L309.0,1429.4L310.0,1429.4L311.0,1429.3L312.0,1429.3L313.0,1429.3L314.0,1429.3L315.0,1429.3L316.0,1429.3L317.0,1429.3L318.0,1429.3L319.0,1429.3L320.0,1429.3L321.0,1429.3L322.0,1429.3L323.0,1429.3L324.0,1429.3L325.0,1429.3L326.0,1429.3L327.0,1429.3L328.0,1429.3L329.0,1429.3L330.0,1429.3L331.0,1429.3L332.0,1429.2L333.0,1429.2L334.0,1429.2L335.0,1429.2L336.0,1429.2L337.0,1429.2L338.0,1429.2L339.0,1429.2L340.0,1429.2L341.0,1429.2L342.0,1429.2L343.0,1429.2L344.0,1429.2L345.0,1429.2L346.0,1429.2L347.0,1429.2L348.0,1429.2L349.0,1429.2L350.0,1429.1L351.0,1429.1L352.0,1429.1L353.0,1429.1L354.0,1429.1L355.0,1429.1L356.0,1429.1L357.0,1429.1L358.0,1429.1L359.0,1429.1L360.0,1429.1L361.0,1429.1L362.0,1429.1L363.0,1429.1L364.0,1429.1L365.0,1429.0L366.0,1429.0L367.0,1429.0L368.0,1429.0L369.0,1429.0L370.0,1429.0L371.0,1429.0L372.0,1429.0L373.0,1429.0L374.0,1429.0L375.0,1429.0L376.0,1429.0L377.0,1429.0L378.0,1428.9L379.0,1428.9L380.0,1428.9L381.0,1428.9L382.0,1428.9L383.0,1428.9L384.0,1428.9L385.0,1428.9L386.0,1428.9L387.0,1428.9L388.0,1428.9L389.0,1428.8L390.0,1428.8L391.0,1428.8L392.0,1428.8L393.0,1428.8L394.0,1428.8L395.0,1428.8L396.0,1428.8L397.0,1428.8L398.0,1428.8L399.0,1428.7L400.0,1428.7L401.0,1428.7L402.0,1428.7L403.0,1428.7L404.0,1428.7L405.0,1428.7L406.0,1428.7L407.0,1428.7L408.0,1428.6L409.0,1428.6L410.0,1428.6L411.0,1428.6L412.0,1428.6L413.0,1428.6L414.0,1428.6L415.0,1428.5L416.0,1428.5L417.0,1428.5L418.0,1428.5L419.0,1428.5L420.0,1428.5L421.0,1428.5L422.0,1428.4L423.0,1428.4L424.0,1428.4L425.0,1428.4L426.0,1428.4L427.0,1428.4L428.0,1428.3L429.0,1428.3L430.0,1428.3L431.0,1428.3L432.0,1428.3L433.0,1428.3L434.0,1428.2L435.0,1428.2L436.0,1428.2L437.0,1428.2L438.0,1428.2L439.0,1428.1L440.0,1428.1L441.0,1428.1L442.0,1428.1L443.0,1428.1L444.0,1428.0L445.0,1428.0L446.0,1428.0L447.0,1428.0L448.0,1427.9L449.0,1427.9L450.0,1427.9L451.0,1427.9L452.0,1427.8L453.0,1427.8L454.0,1427.8L455.0,1427.8L456.0,1427.7L457.0,1427.7L458.0,1427.7L459.0,1427.7L460.0,1427.6L461.0,1427.6L462.0,1427.6L463.0,1427.5L464.0,1427.5L465.0,1427.5L466.0,1427.4L467.0,1427.4L468.0,1427.4L469.0,1427.3L470.0,1427.3L471.0,1427.3L472.0,1427.2L473.0,1427.2L474.0,1427.1L475.0,1427.1L476.0,1427.0L477.0,1427.0L478.0,1427.0L479.0,1426.9L480.0,1426.9L481.0,1426.8L482.0,1426.8L483.0,1426.7L484.0,1426.7L485.0,1426.6L486.0,1426.6L487.0,1426.5L488.0,1426.5L489.0,1426.4L490.0,1426.3L491.0,1426.3L492.0,1426.2L493.0,1426.2L494.0,1426.1L495.0,1426.0L496.0,1426.0L497.0,1425.9L498.0,1425.8L499.0,1425.7L500.0,1425.7L501.0,1425.6L502.0,1425.5L503.0,1425.4L504.0,1425.4L505.0,1425.3L506.0,1425.2L507.0,1425.1L508.0,1425.0L509.0,1424.9L510.0,1424.8L511.0,1424.7L512.0,1424.6L513.0,1424.5L514.0,1424.4L515.0,1424.3L516.0,1424.2L517.0,1424.0L518.0,1423.9L519.0,1423.8L520.0,1423.7L521.0,1423.5L522.0,1423.4L523.0,1423.3L524.0,1423.1L525.0,1423.0L526.0,1422.8L527.0,1422.7L528.0,1422.5L529.0,1422.3L530.0,1422.2L531.0,1422.0L532.0,1421.8L533.0,1421.6L534.0,1421.4L535.0,1421.2L536.0,1421.0L537.0,1420.8L538.0,1420.6L539.0,1420.4L540.0,1420.2L541.0,1419.9L542.0,1419.7L543.0,1419.4L544.0,1419.2L545.0,1418.9L546.0,1418.6L547.0,1418.4L548.0,1418.1L549.0,1417.7L550.0,1417.4L551.0,1417.1L552.0,1416.8L553.0,1416.4L554.0,1416.0L555.0,1415.7L556.0,1415.3L557.0,1414.8L558.0,1414.4L559.0,1414.0L560.0,1413.5L561.0,1413.0L562.0,1412.5L563.0,1412.0L564.0,1411.4L565.0,1410.9L566.0,1410.3L567.0,1409.7L568.0,1409.0L569.0,1408.3L570.0,1407.6L571.0,1406.9L572.0,1406.1L573.0,1405.3L574.0,1404.4L575.0,1403.5L576.0,1402.6L577.0,1401.6L578.0,1400.5L579.0,1399.5L580.0,1398.3L581.0,1397.1L582.0,1395.9L583.0,1394.6L584.0,1393.2L585.0,1391.8L586.0,1390.3L587.0,1388.8L588.0,1387.2L589.0,1385.5L590.0,1383.7L591.0,1381.9L592.0,1379.9L593.0,1377.9L594.0,1375.9L595.0,1373.7L596.0,1371.5L597.0,1369.2L598.0,1366.8L599.0,1364.3L600.0,1361.7L601.0,1359.1L602.0,1356.3L603.0,1353.5L604.0,1350.6L605.0,1347.6L606.0,1344.5L607.0,1341.4L608.0,1338.2L609.0,1334.9L610.0,1331.5L611.0,1328.1L612.0,1324.6L613.0,1321.1L614.0,1317.5L615.0,1313.9L616.0,1310.2L617.0,1306.5L618.0,1302.8L619.0,1299.0L620.0,1295.3L621.0,1291.5L622.0,1287.8L623.0,1284.1L624.0,1280.4L625.0,1276.8L626.0,1273.3L627.0,1269.8L628.0,1266.4L629.0,1263.1L630.0,1260.0L631.0,1257.0L632.0,1254.1L633.0,1251.5L634.0,1249.0L635.0,1246.7L636.0,1244.6L637.0,1242.8L638.0,1241.2L639.0,1239.9L640.0,1238.9L641.0,1238.1L642.0,1237.6L643.0,1237.4L644.0,1237.4L645.0,1237.8L646.0,1238.4L647.0,1239.3L648.0,1240.5L649.0,1241.9L650.0,1243.6L651.0,1245.4L652.0,1247.6L653.0,1249.9L654.0,1252.4L655.0,1255.0L656.0,1257.9L657.0,1260.8L658.0,1263.9L659.0,1267.1L660.0,1270.4L661.0,1273.7L662.0,1277.1L663.0,1280.6L664.0,1284.1L665.0,1287.6L666.0,1291.1L667.0,1294.7L668.0,1298.2L669.0,1301.7L670.0,1305.2L671.0,1308.6L672.0,1312.0L673.0,1315.4L674.0,1318.7L675.0,1321.9L676.0,1325.1L677.0,1328.2L678.0,1331.3L679.0,1334.2L680.0,1337.1L681.0,1340.0L682.0,1342.7L683.0,1345.3L684.0,1347.9L685.0,1350.4L686.0,1352.8L687.0,1355.1L688.0,1357.3L689.0,1359.5L690.0,1361.5L691.0,1363.5L692.0,1365.4L693.0,1367.2L694.0,1368.9L695.0,1370.6L696.0,1372.2L697.0,1373.7L698.0,1375.1L699.0,1376.5L700.0,1377.8L701.0,1379.0L702.0,1380.2L703.0,1381.3L704.0,1382.3L705.0,1383.3L706.0,1384.3L707.0,1385.2L708.0,1386.0L709.0,1386.8L710.0,1387.6L711.0,1388.3L712.0,1388.9L713.0,1389.6L714.0,1390.2L715.0,1390.7L716.0,1391.3L717.0,1391.8L718.0,1392.3L719.0,1392.7L720.0,1393.1L721.0,1393.5L722.0,1393.9L723.0,1394.3L724.0,1394.6L725.0,1394.9L726.0,1395.2L727.0,1395.5L728.0,1395.8L729.0,1396.1L730.0,1396.3L731.0,1396.5L732.0,1396.8L733.0,1397.0L734.0,1397.2L735.0,1397.4L736.0,1397.6L737.0,1397.8L738.0,1397.9L739.0,1398.1L740.0,1398.2L741.0,1398.4L742.0,1398.5L743.0,1398.7L744.0,1398.8L745.0,1399.0L746.0,1399.1L747.0,1399.2L748.0,1399.3L749.0,1399.4L750.0,1399.6L751.0,1399.7L752.0,1399.8L753.0,1399.9L754.0,1400.0L755.0,1400.1L756.0,1400.2L757.0,1400.3L758.0,1400.4L759.0,1400.4L760.0,1400.5L761.0,1400.6L762.0,1400.7L763.0,1400.8L764.0,1400.8L765.0,1400.9L766.0,1401.0L767.0,1401.1L768.0,1401.1L769.0,1401.2L770.0,1401.3L771.0,1401.3L772.0,1401.4L773.0,1401.5L774.0,1401.5L775.0,1401.6L776.0,1401.6L777.0,1401.7L778.0,1401.8L779.0,1401.8L780.0,1401.9L781.0,1401.9L782.0,1402.0L783.0,1402.0L784.0,1402.1L785.0,1402.1L786.0,1402.2L787.0,1402.2L788.0,1402.3L789.0,1402.3L790.0,1402.4L791.0,1402.4L792.0,1402.5L793.0,1402.5L794.0,1402.5L795.0,1402.6L796.0,1402.6L797.0,1402.7L798.0,1402.7L799.0,1402.7L800.0,1402.8L801.0,1402.8L802.0,1402.8L803.0,1402.9L804.0,1402.9L805.0,1402.9L806.0,1403.0L807.0,1403.0L808.0,1403.0L809.0,1403.1L810.0,1403.1L811.0,1403.1L812.0,1403.2L813.0,1403.2L814.0,1403.2L815.0,1403.3L816.0,1403.3L817.0,1403.3L818.0,1403.3L819.0,1403.4L820.0,1403.4L821.0,1403.4L822.0,1403.4L823.0,1403.5L824.0,1403.5L825.0,1403.5L826.0,1403.5L827.0,1403.6L828.0,1403.6L829.0,1403.6L830.0,1403.6L831.0,1403.7L832.0,1403.7L833.0,1403.7L834.0,1403.7L835.0,1403.7L836.0,1403.8L837.0,1403.8L838.0,1403.8L839.0,1403.8L840.0,1403.8L841.0,1403.9L842.0,1403.9L843.0,1403.9L844.0,1403.9L845.0,1403.9L846.0,1404.0L847.0,1404.0L848.0,1404.0L849.0,1404.0L850.0,1404.0L851.0,1404.0L852.0,1404.1L853.0,1404.1L854.0,1404.1L855.0,1404.1L856.0,1404.1L857.0,1404.1L858.0,1404.1L859.0,1404.2L860.0,1404.2L861.0,1404.2L862.0,1404.2L863.0,1404.2L864.0,1404.2L865.0,1404.2L866.0,1404.3L867.0,1404.3L868.0,1404.3L869.0,1404.3L870.0,1404.3L871.0,1404.3L872.0,1404.3L873.0,1404.4L874.0,1404.4L875.0,1404.4L876.0,1404.4L877.0,1404.4L878.0,1404.4L879.0,1404.4L880.0,1404.4L881.0,1404.4L882.0,1404.5L883.0,1404.5L884.0,1404.5L885.0,1404.5L886.0,1404.5L887.0,1404.5L888.0,1404.5L889.0,1404.5L890.0,1404.5L891.0,1404.6L892.0,1404.6L893.0,1404.6L894.0,1404.6L895.0,1404.6L896.0,1404.6L897.0,1404.6L898.0,1404.6L899.0,1404.6L900.0,1404.6L901.0,1404.6L902.0,1404.7L903.0,1404.7L904.0,1404.7L905.0,1404.7L906.0,1404.7L907.0,1404.7L908.0,1404.7L909.0,1404.7L910.0,1404.7L911.0,1404.7L912.0,1404.7L913.0,1404.7L914.0,1404.8L915.0,1404.8L916.0,1404.8L917.0,1404.8L918.0,1404.8L919.0,1404.8L920.0,1404.8L921.0,1404.8L922.0,1404.8L923.0,1404.8L924.0,1404.8L925.0,1404.8L926.0,1404.8L927.0,1404.8L928.0,1404.9L929.0,1404.9L930.0,1404.9L931.0,1404.9L932.0,1404.9L933.0,1404.9L934.0,1404.9L935.0,1404.9L936.0,1404.9L937.0,1404.9L938.0,1404.9L939.0,1404.9L940.0,1404.9L941.0,1404.9L942.0,1404.9L943.0,1404.9L944.0,1404.9L945.0,1405.0L946.0,1405.0L947.0,1405.0L948.0,1405.0L949.0,1405.0L950.0,1405.0L951.0,1405.0L952.0,1405.0L953.0,1405.0L954.0,1405.0L955.0,1405.0L956.0,1405.0L957.0,1405.0L958.0,1405.0L959.0,1405.0L960.0,1405.0L961.0,1405.0L962.0,1405.0L963.0,1405.0L964.0,1405.1L965.0,1405.1L966.0,1405.1L967.0,1405.1L968.0,1405.1L969.0,1405.1L970.0,1405.1L971.0,1405.1L972.0,1405.1L973.0,1405.1L974.0,1405.1L975.0,1405.1L976.0,1405.1L977.0,1405.1L978.0,1405.1L979.0,1405.1L980.0,1405.1L981.0,1405.1L982.0,1405.1L983.0,1405.1L984.0,1405.1L985.0,1405.1L986.0,1405.1L987.0,1405.1L988.0,1405.1L989.0,1405.2L990.0,1405.2L991.0,1405.2L992.0,1405.2L993.0,1405.2L994.0,1405.2L995.0,1405.2L996.0,1405.2L997.0,1405.2L998.0,1405.2L999.0,1405.2L1000.0,1405.2L1001.0,1405.2L1002.0,1405.2L1002.0,1405.8L1001.0,1405.8L1000.0,1405.8L999.0,1405.8L998.0,1405.8L997.0,1405.8L996.0,1405.8L995.0,1405.8L994.0,1405.8L993.0,1405.8L992.0,1405.8L991.0,1405.8L990.0,1405.8L989.0,1405.8L988.0,1405.8L987.0,1405.8L986.0,1405.8L985.0,1405.8L984.0,1405.8L983.0,1405.8L982.0,1405.8L981.0,1405.8L980.0,1405.8L979.0,1405.8L978.0,1405.8L977.0,1405.8L976.0,1405.8L975.0,1405.8L974.0,1405.8L973.0,1405.8L972.0,1405.8L971.0,1405.8L970.0,1405.8L969.0,1405.8L968.0,1405.8L967.0,1405.8L966.0,1405.8L965.0,1405.8L964.0,1405.8L963.0,1405.8L962.0,1405.8L961.0,1405.8L960.0,1405.8L959.0,1405.8L958.0,1405.8L957.0,1405.8L956.0,1405.8L955.0,1405.8L954.0,1405.8L953.0,1405.8L952.0,1405.8L951.0,1405.8L950.0,1405.8L949.0,1405.8L948.0,1405.8L947.0,1405.8L946.0,1405.8L945.0,1405.8L944.0,1405.8L943.0,1405.8L942.0,1405.8L941.0,1405.8L940.0,1405.8L939.0,1405.8L938.0,1405.8L937.0,1405.8L936.0,1405.8L935.0,1405.8L934.0,1405.8L933.0,1405.8L932.0,1405.8L931.0,1405.8L930.0,1405.8L929.0,1405.8L928.0,1405.8L927.0,1405.8L926.0,1405.8L925.0,1405.8L924.0,1405.8L923.0,1405.8L922.0,1405.8L921.0,1405.8L920.0,1405.8L919.0,1405.8L918.0,1405.8L917.0,1405.8L916.0,1405.8L915.0,1405.8L914.0,1405.8L913.0,1405.8L912.0,1405.8L911.0,1405.8L910.0,1405.8L909.0,1405.8L908.0,1405.8L907.0,1405.8L906.0,1405.8L905.0,1405.8L904.0,1405.8L903.0,1405.8L902.0,1405.8L901.0,1405.8L900.0,1405.8L899.0,1405.8L898.0,1405.8L897.0,1405.8L896.0,1405.8L895.0,1405.8L894.0,1405.8L893.0,1405.8L892.0,1405.8L891.0,1405.8L890.0,1405.8L889.0,1405.8L888.0,1405.8L887.0,1405.8L886.0,1405.8L885.0,1405.8L884.0,1405.8L883.0,1405.8L882.0,1405.8L881.0,1405.8L880.0,1405.8L879.0,1405.8L878.0,1405.8L877.0,1405.8L876.0,1405.8L875.0,1405.8L874.0,1405.8L873.0,1405.8L872.0,1405.8L871.0,1405.8L870.0,1405.8L869.0,1405.8L868.0,1405.8L867.0,1405.8L866.0,1405.8L865.0,1405.8L864.0,1405.8L863.0,1405.8L862.0,1405.8L861.0,1405.8L860.0,1405.8L859.0,1405.8L858.0,1405.8L857.0,1405.8L856.0,1405.8L855.0,1405.8L854.0,1405.8L853.0,1405.8L852.0,1405.8L851.0,1405.8L850.0,1405.8L849.0,1405.8L848.0,1405.8L847.0,1405.8L846.0,1405.8L845.0,1405.8L844.0,1405.8L843.0,1405.8L842.0,1405.8L841.0,1405.8L840.0,1405.8L839.0,1405.8L838.0,1405.8L837.0,1405.8L836.0,1405.8L835.0,1405.8L834.0,1405.8L833.0,1405.8L832.0,1405.8L831.0,1405.8L830.0,1405.8L829.0,1405.8L828.0,1405.8L827.0,1405.8L826.0,1405.8L825.0,1405.8L824.0,1405.8L823.0,1405.8L822.0,1405.8L821.0,1405.8L820.0,1405.8L819.0,1405.8L818.0,1405.8L817.0,1405.8L816.0,1405.8L815.0,1405.8L814.0,1405.8L813.0,1405.8L812.0,1405.8L811.0,1405.8L810.0,1405.8L809.0,1405.8L808.0,1405.8L807.0,1405.8L806.0,1405.8L805.0,1405.8L804.0,1405.8L803.0,1405.8L802.0,1405.8L801.0,1405.8L800.0,1405.8L799.0,1405.8L798.0,1405.8L797.0,1405.8L796.0,1405.8L795.0,1405.8L794.0,1405.8L793.0,1405.8L792.0,1405.8L791.0,1405.8L790.0,1405.8L789.0,1405.8L788.0,1405.8L787.0,1405.8L786.0,1405.8L785.0,1405.8L784.0,1405.8L783.0,1405.8L782.0,1405.8L781.0,1405.8L780.0,1405.8L779.0,1405.8L778.0,1405.8L777.0,1405.8L776.0,1405.8L775.0,1405.8L774.0,1405.8L773.0,1405.8L772.0,1405.8L771.0,1405.8L770.0,1405.8L769.0,1405.8L768.0,1405.8L767.0,1405.8L766.0,1405.8L765.0,1405.8L764.0,1405.8L763.0,1405.8L762.0,1405.8L761.0,1405.8L760.0,1405.8L759.0,1405.8L758.0,1405.8L757.0,1405.8L756.0,1405.8L755.0,1405.8L754.0,1405.8L753.0,1405.8L752.0,1405.8L751.0,1405.8L750.0,1405.9L749.0,1405.9L748.0,1405.9L747.0,1405.9L746.0,1405.9L745.0,1405.9L744.0,1405.9L743.0,1405.9L742.0,1405.9L741.0,1405.9L740.0,1405.9L739.0,1405.9L738.0,1405.9L737.0,1405.9L736.0,1405.9L735.0,1405.9L734.0,1405.9L733.0,1405.9L732.0,1405.9L731.0,1405.9L730.0,1405.9L729.0,1405.9L728.0,1405.9L727.0,1405.9L726.0,1405.9L725.0,1405.9L724.0,1405.9L723.0,1405.9L722.0,1406.0L721.0,1406.0L720.0,1406.0L719.0,1406.0L718.0,1406.0L717.0,1406.0L716.0,1406.0L715.0,1406.0L714.0,1406.0L713.0,1406.0L712.0,1406.0L711.0,1406.0L710.0,1406.0L709.0,1406.0L708.0,1406.1L707.0,1406.1L706.0,1406.1L705.0,1406.1L704.0,1406.1L703.0,1406.1L702.0,1406.1L701.0,1406.1L700.0,1406.1L699.0,1406.2L698.0,1406.2L697.0,1406.2L696.0,1406.2L695.0,1406.2L694.0,1406.2L693.0,1406.3L692.0,1406.3L691.0,1406.3L690.0,1406.3L689.0,1406.3L688.0,1406.3L687.0,1406.4L686.0,1406.4L685.0,1406.4L684.0,1406.4L683.0,1406.5L682.0,1406.5L681.0,1406.5L680.0,1406.5L679.0,1406.6L678.0,1406.6L677.0,1406.6L676.0,1406.7L675.0,1406.7L674.0,1406.7L673.0,1406.8L672.0,1406.8L671.0,1406.8L670.0,1406.9L669.0,1406.9L668.0,1407.0L667.0,1407.0L666.0,1407.0L665.0,1407.1L664.0,1407.1L663.0,1407.2L662.0,1407.2L661.0,1407.3L660.0,1407.3L659.0,1407.4L658.0,1407.5L657.0,1407.5L656.0,1407.6L655.0,1407.6L654.0,1407.7L653.0,1407.8L652.0,1407.9L651.0,1407.9L650.0,1408.0L649.0,1408.1L648.0,1408.2L647.0,1408.2L646.0,1408.3L645.0,1408.4L644.0,1408.5L643.0,1408.6L642.0,1408.7L641.0,1408.8L640.0,1408.9L639.0,1409.0L638.0,1409.1L637.0,1409.2L636.0,1409.3L635.0,1409.5L634.0,1409.6L633.0,1409.7L632.0,1409.8L631.0,1410.0L630.0,1410.1L629.0,1410.2L628.0,1410.4L627.0,1410.5L626.0,1410.7L625.0,1410.8L624.0,1411.0L623.0,1411.1L622.0,1411.3L621.0,1411.5L620.0,1411.6L619.0,1411.8L618.0,1412.0L617.0,1412.2L616.0,1412.3L615.0,1412.5L614.0,1412.7L613.0,1412.9L612.0,1413.1L611.0,1413.3L610.0,1413.5L609.0,1413.7L608.0,1413.9L607.0,1414.1L606.0,1414.3L605.0,1414.5L604.0,1414.8L603.0,1415.0L602.0,1415.2L601.0,1415.4L600.0,1415.6L599.0,1415.9L598.0,1416.1L597.0,1416.3L596.0,1416.6L595.0,1416.8L594.0,1417.0L593.0,1417.2L592.0,1417.5L591.0,1417.7L590.0,1417.9L589.0,1418.2L588.0,1418.4L587.0,1418.6L586.0,1418.9L585.0,1419.1L584.0,1419.3L583.0,1419.6L582.0,1419.8L581.0,1420.0L580.0,1420.2L579.0,1420.5L578.0,1420.7L577.0,1420.9L576.0,1421.1L575.0,1421.3L574.0,1421.6L573.0,1421.8L572.0,1422.0L571.0,1422.2L570.0,1422.4L569.0,1422.6L568.0,1422.8L567.0,1423.0L566.0,1423.2L565.0,1423.4L564.0,1423.5L563.0,1423.7L562.0,1423.9L561.0,1424.1L560.0,1424.2L559.0,1424.4L558.0,1424.6L557.0,1424.7L556.0,1424.9L555.0,1425.0L554.0,1425.2L553.0,1425.3L552.0,1425.5L551.0,1425.6L550.0,1425.8L549.0,1425.9L548.0,1426.0L547.0,1426.2L546.0,1426.3L545.0,1426.4L544.0,1426.5L543.0,1426.6L542.0,1426.7L541.0,1426.9L540.0,1427.0L539.0,1427.1L538.0,1427.2L537.0,1427.3L536.0,1427.4L535.0,1427.4L534.0,1427.5L533.0,1427.6L532.0,1427.7L531.0,1427.8L530.0,1427.9L529.0,1427.9L528.0,1428.0L527.0,1428.1L526.0,1428.1L525.0,1428.2L524.0,1428.3L523.0,1428.3L522.0,1428.4L521.0,1428.5L520.0,1428.5L519.0,1428.6L518.0,1428.6L517.0,1428.7L516.0,1428.7L515.0,1428.8L514.0,1428.8L513.0,1428.9L512.0,1428.9L511.0,1428.9L510.0,1429.0L509.0,1429.0L508.0,1429.1L507.0,1429.1L506.0,1429.1L505.0,1429.2L504.0,1429.2L503.0,1429.2L502.0,1429.3L501.0,1429.3L500.0,1429.3L499.0,1429.3L498.0,1429.4L497.0,1429.4L496.0,1429.4L495.0,1429.4L494.0,1429.5L493.0,1429.5L492.0,1429.5L491.0,1429.5L490.0,1429.5L489.0,1429.6L488.0,1429.6L487.0,1429.6L486.0,1429.6L485.0,1429.6L484.0,1429.6L483.0,1429.7L482.0,1429.7L481.0,1429.7L480.0,1429.7L479.0,1429.7L478.0,1429.7L477.0,1429.7L476.0,1429.8L475.0,1429.8L474.0,1429.8L473.0,1429.8L472.0,1429.8L471.0,1429.8L470.0,1429.8L469.0,1429.8L468.0,1429.8L467.0,1429.8L466.0,1429.8L465.0,1429.9L464.0,1429.9L463.0,1429.9L462.0,1429.9L461.0,1429.9L460.0,1429.9L459.0,1429.9L458.0,1429.9L457.0,1429.9L456.0,1429.9L455.0,1429.9L454.0,1429.9L453.0,1429.9L452.0,1429.9L451.0,1429.9L450.0,1429.9L449.0,1429.9L448.0,1429.9L447.0,1430.0L446.0,1430.0L445.0,1430.0L444.0,1430.0L443.0,1430.0L442.0,1430.0L441.0,1430.0L440.0,1430.0L439.0,1430.0L438.0,1430.0L437.0,1430.0L436.0,1430.0L435.0,1430.0L434.0,1430.0L433.0,1430.0L432.0,1430.0L431.0,1430.0L430.0,1430.0L429.0,1430.0L428.0,1430.0L427.0,1430.0L426.0,1430.0L425.0,1430.0L424.0,1430.0L423.0,1430.0L422.0,1430.0L421.0,1430.0L420.0,1430.0L419.0,1430.0L418.0,1430.0L417.0,1430.0L416.0,1430.0L415.0,1430.0L414.0,1430.0L413.0,1430.0L412.0,1430.0L411.0,1430.0L410.0,1430.0L409.0,1430.0L408.0,1430.0L407.0,1430.0L406.0,1430.0L405.0,1430.0L404.0,1430.0L403.0,1430.0L402.0,1430.0L401.0,1430.0L400.0,1430.0L399.0,1430.0L398.0,1430.0L397.0,1430.0L396.0,1430.0L395.0,1430.0L394.0,1430.0L393.0,1430.0L392.0,1430.0L391.0,1430.0L390.0,1430.0L389.0,1430.0L388.0,1430.0L387.0,1430.0L386.0,1430.0L385.0,1430.0L384.0,1430.0L383.0,1430.0L382.0,1430.0L381.0,1430.0L380.0,1430.0L379.0,1430.0L378.0,1430.0L377.0,1430.0L376.0,1430.0L375.0,1430.0L374.0,1430.0L373.0,1430.0L372.0,1430.0L371.0,1430.0L370.0,1430.0L369.0,1430.0L368.0,1430.0L367.0,1430.0L366.0,1430.0L365.0,1430.0L364.0,1430.0L363.0,1430.0L362.0,1430.0L361.0,1430.0L360.0,1430.0L359.0,1430.0L358.0,1430.0L357.0,1430.0L356.0,1430.0L355.0,1430.0L354.0,1430.0L353.0,1430.0L352.0,1430.0L351.0,1430.0L350.0,1430.0L349.0,1430.0L348.0,1430.0L347.0,1430.0L346.0,1430.0L345.0,1430.0L344.0,1430.0L343.0,1430.0L342.0,1430.0L341.0,1430.0L340.0,1430.0L339.0,1430.0L338.0,1430.0L337.0,1430.0L336.0,1430.0L335.0,1430.0L334.0,1430.0L333.0,1430.0L332.0,1430.0L331.0,1430.0L330.0,1430.0L329.0,1430.0L328.0,1430.0L327.0,1430.0L326.0,1430.0L325.0,1430.0L324.0,1430.0L323.0,1430.0L322.0,1430.0L321.0,1430.0L320.0,1430.0L319.0,1430.0L318.0,1430.0L317.0,1430.0L316.0,1430.0L315.0,1430.0L314.0,1430.0L313.0,1430.0L312.0,1430.0L311.0,1430.0L310.0,1430.0L309.0,1430.0L308.0,1430.0L307.0,1430.0L306.0,1430.0L305.0,1430.0L304.0,1430.0L303.0,1430.0L302.0,1430.0L301.0,1430.0L300.0,1430.0L299.0,1430.0L298.0,1430.0L297.0,1430.0L296.0,1430.0L295.0,1430.0L294.0,1430.0L293.0,1430.0L292.0,1430.0L291.0,1430.0L290.0,1430.0L289.0,1430.0L288.0,1430.0L287.0,1430.0L286.0,1430.0L285.0,1430.0L284.0,1430.0Z" fill="url(#cP)" fill-opacity="0.85"/>
<path d="M165.0,1430.0L169.0,1430.0L173.0,1430.0L177.0,1430.0L181.0,1430.0L185.0,1430.0L189.0,1430.0L193.0,1430.0L197.0,1430.0L201.0,1430.0L205.0,1430.0L209.0,1430.0L213.0,1430.0L217.0,1430.0L221.0,1430.0L225.0,1430.0L229.0,1430.0L233.0,1430.0L237.0,1430.0L241.0,1430.0L245.0,1430.0L249.0,1430.0L253.0,1430.0L257.0,1430.0L261.0,1430.0L265.0,1430.0L269.0,1430.0L273.0,1430.0L277.0,1430.0L281.0,1430.0L285.0,1430.0L289.0,1430.0L293.0,1430.0L297.0,1430.0L301.0,1430.0L305.0,1430.0L309.0,1430.0L313.0,1430.0L317.0,1430.0L321.0,1430.0L325.0,1430.0L329.0,1430.0L333.0,1430.0L337.0,1430.0L341.0,1430.0L345.0,1430.0L349.0,1430.0L353.0,1430.0L357.0,1430.0L361.0,1430.0L365.0,1430.0L369.0,1430.0L373.0,1430.0L377.0,1430.0L381.0,1430.0L385.0,1430.0L389.0,1430.0L393.0,1430.0L397.0,1430.0L401.0,1430.0L405.0,1430.0L409.0,1430.0L413.0,1430.0L417.0,1430.0L421.0,1430.0L425.0,1430.0L429.0,1430.0L433.0,1430.0L437.0,1430.0L441.0,1430.0L445.0,1430.0L449.0,1429.9L453.0,1429.9L457.0,1429.9L461.0,1429.9L465.0,1429.9L469.0,1429.8L473.0,1429.8L477.0,1429.7L481.0,1429.7L485.0,1429.6L489.0,1429.6L493.0,1429.5L497.0,1429.4L501.0,1429.3L505.0,1429.2L509.0,1429.0L513.0,1428.9L517.0,1428.7L521.0,1428.5L525.0,1428.2L529.0,1427.9L533.0,1427.6L537.0,1427.3L541.0,1426.9L545.0,1426.4L549.0,1425.9L553.0,1425.3L557.0,1424.7L561.0,1424.1L565.0,1423.4L569.0,1422.6L573.0,1421.8L577.0,1420.9L581.0,1420.0L585.0,1419.1L589.0,1418.2L593.0,1417.2L597.0,1416.3L601.0,1415.4L605.0,1414.5L609.0,1413.7L613.0,1412.9L617.0,1412.2L621.0,1411.5L625.0,1410.8L629.0,1410.2L633.0,1409.7L637.0,1409.2L641.0,1408.8L645.0,1408.4L649.0,1408.1L653.0,1407.8L657.0,1407.5L661.0,1407.3L665.0,1407.1L669.0,1406.9L673.0,1406.8L677.0,1406.6L681.0,1406.5L685.0,1406.4L689.0,1406.3L693.0,1406.3L697.0,1406.2L701.0,1406.1L705.0,1406.1L709.0,1406.0L713.0,1406.0L717.0,1406.0L721.0,1406.0L725.0,1405.9L729.0,1405.9L733.0,1405.9L737.0,1405.9L741.0,1405.9L745.0,1405.9L749.0,1405.9L753.0,1405.8L757.0,1405.8L761.0,1405.8L765.0,1405.8L769.0,1405.8L773.0,1405.8L777.0,1405.8L781.0,1405.8L785.0,1405.8L789.0,1405.8L793.0,1405.8L797.0,1405.8L801.0,1405.8L805.0,1405.8L809.0,1405.8L813.0,1405.8L817.0,1405.8L821.0,1405.8L825.0,1405.8L829.0,1405.8L833.0,1405.8L837.0,1405.8L841.0,1405.8L845.0,1405.8L849.0,1405.8L853.0,1405.8L857.0,1405.8L861.0,1405.8L865.0,1405.8L869.0,1405.8L873.0,1405.8L877.0,1405.8L881.0,1405.8L885.0,1405.8L889.0,1405.8L893.0,1405.8L897.0,1405.8L901.0,1405.8L905.0,1405.8L909.0,1405.8L913.0,1405.8L917.0,1405.8L921.0,1405.8L925.0,1405.8L929.0,1405.8L933.0,1405.8L937.0,1405.8L941.0,1405.8L945.0,1405.8L949.0,1405.8L953.0,1405.8L957.0,1405.8L961.0,1405.8L965.0,1405.8L969.0,1405.8L973.0,1405.8L977.0,1405.8L981.0,1405.8L985.0,1405.8L989.0,1405.8L993.0,1405.8L997.0,1405.8L1001.0,1405.8L1005.0,1405.8L1009.0,1405.8L1013.0,1405.8L1017.0,1405.8L1021.0,1405.8L1025.0,1405.8L1029.0,1405.8L1033.0,1405.8L1037.0,1405.8L1041.0,1405.8L1045.0,1405.8L1049.0,1405.8L1053.0,1405.8L1057.0,1405.8L1061.0,1405.8L1065.0,1405.8L1069.0,1405.8L1073.0,1405.8L1077.0,1405.8" fill="none" stroke="#c4c4c4" stroke-width="3.2" stroke-linecap="round"/>
<g fill="none" stroke="#b0b0b0" stroke-width="1.0"><circle cx="165.1" cy="1429.0" r="4.7"/><circle cx="170.0" cy="1434.4" r="4.7"/><circle cx="174.6" cy="1446.7" r="4.7"/><circle cx="179.2" cy="1445.3" r="4.7"/><circle cx="184.1" cy="1455.6" r="4.7"/><circle cx="189.0" cy="1446.7" r="4.7"/><circle cx="193.6" cy="1442.0" r="4.7"/><circle cx="198.2" cy="1448.8" r="4.7"/><circle cx="202.5" cy="1433.9" r="4.7"/><circle cx="207.1" cy="1445.8" r="4.7"/><circle cx="211.8" cy="1436.6" r="4.7"/><circle cx="216.6" cy="1431.7" r="4.7"/><circle cx="221.2" cy="1443.1" r="4.7"/><circle cx="225.9" cy="1429.6" r="4.7"/><circle cx="230.2" cy="1458.0" r="4.7"/><circle cx="235.6" cy="1454.8" r="4.7"/><circle cx="239.7" cy="1445.8" r="4.7"/><circle cx="244.3" cy="1440.4" r="4.7"/><circle cx="249.2" cy="1433.1" r="4.7"/><circle cx="253.8" cy="1440.7" r="4.7"/><circle cx="258.1" cy="1429.0" r="4.7"/><circle cx="262.7" cy="1442.6" r="4.7"/><circle cx="267.6" cy="1404.9" r="4.7"/><circle cx="272.2" cy="1441.8" r="4.7"/><circle cx="276.9" cy="1448.8" r="4.7"/><circle cx="281.7" cy="1440.7" r="4.7"/><circle cx="286.6" cy="1442.0" r="4.7"/><circle cx="291.2" cy="1447.5" r="4.7"/><circle cx="295.8" cy="1445.8" r="4.7"/><circle cx="299.9" cy="1462.4" r="4.7"/><circle cx="304.8" cy="1434.4" r="4.7"/><circle cx="309.7" cy="1422.8" r="4.7"/><circle cx="314.3" cy="1434.4" r="4.7"/><circle cx="318.9" cy="1439.1" r="4.7"/><circle cx="323.0" cy="1460.8" r="4.7"/><circle cx="327.8" cy="1452.1" r="4.7"/><circle cx="332.7" cy="1420.9" r="4.7"/><circle cx="337.3" cy="1438.5" r="4.7"/><circle cx="342.0" cy="1456.1" r="4.7"/><circle cx="346.8" cy="1452.1" r="4.7"/><circle cx="351.4" cy="1444.8" r="4.7"/><circle cx="356.3" cy="1442.0" r="4.7"/><circle cx="360.4" cy="1449.4" r="4.7"/><circle cx="365.0" cy="1436.6" r="4.7"/><circle cx="369.9" cy="1422.8" r="4.7"/><circle cx="374.5" cy="1445.3" r="4.7"/><circle cx="378.8" cy="1458.9" r="4.7"/><circle cx="383.5" cy="1437.2" r="4.7"/><circle cx="388.1" cy="1444.8" r="4.7"/><circle cx="392.9" cy="1437.7" r="4.7"/><circle cx="397.6" cy="1432.3" r="4.7"/><circle cx="402.4" cy="1435.3" r="4.7"/><circle cx="406.5" cy="1463.7" r="4.7"/><circle cx="411.4" cy="1452.9" r="4.7"/><circle cx="416.0" cy="1454.8" r="4.7"/><circle cx="420.6" cy="1467.5" r="4.7"/><circle cx="425.5" cy="1467.0" r="4.7"/><circle cx="430.1" cy="1456.1" r="4.7"/><circle cx="435.0" cy="1437.2" r="4.7"/><circle cx="439.6" cy="1444.2" r="4.7"/><circle cx="444.5" cy="1432.3" r="4.7"/><circle cx="449.1" cy="1429.0" r="4.7"/><circle cx="453.4" cy="1436.6" r="4.7"/><circle cx="458.0" cy="1444.5" r="4.7"/><circle cx="462.7" cy="1431.7" r="4.7"/><circle cx="467.5" cy="1418.2" r="4.7"/><circle cx="472.2" cy="1421.7" r="4.7"/><circle cx="477.0" cy="1422.8" r="4.7"/><circle cx="481.1" cy="1425.0" r="4.7"/><circle cx="485.7" cy="1420.3" r="4.7"/><circle cx="490.6" cy="1407.9" r="4.7"/><circle cx="495.5" cy="1403.3" r="4.7"/><circle cx="498.7" cy="1368.8" r="4.7"/><circle cx="503.3" cy="1360.7" r="4.7"/><circle cx="508.2" cy="1338.7" r="4.7"/><circle cx="512.3" cy="1321.9" r="4.7"/><circle cx="517.2" cy="1291.2" r="4.7"/><circle cx="521.8" cy="1252.7" r="4.7"/><circle cx="671.9" cy="1254.1" r="4.7"/><circle cx="667.8" cy="1266.8" r="4.7"/><circle cx="675.4" cy="1315.9" r="4.7"/><circle cx="685.4" cy="1321.9" r="4.7"/><circle cx="680.6" cy="1343.0" r="4.7"/><circle cx="689.5" cy="1354.4" r="4.7"/><circle cx="699.0" cy="1352.3" r="4.7"/><circle cx="694.4" cy="1372.1" r="4.7"/><circle cx="704.4" cy="1376.7" r="4.7"/><circle cx="709.0" cy="1363.4" r="4.7"/><circle cx="714.5" cy="1365.3" r="4.7"/><circle cx="719.3" cy="1364.7" r="4.7"/><circle cx="723.4" cy="1364.7" r="4.7"/><circle cx="727.5" cy="1364.7" r="4.7"/><circle cx="732.1" cy="1371.2" r="4.7"/><circle cx="741.0" cy="1374.0" r="4.7"/><circle cx="745.7" cy="1363.1" r="4.7"/><circle cx="750.5" cy="1379.4" r="4.7"/><circle cx="755.2" cy="1395.1" r="4.7"/><circle cx="759.5" cy="1382.1" r="4.7"/><circle cx="764.1" cy="1388.3" r="4.7"/><circle cx="736.4" cy="1405.2" r="4.7"/><circle cx="773.6" cy="1404.6" r="4.7"/><circle cx="778.2" cy="1395.9" r="4.7"/><circle cx="783.1" cy="1410.6" r="4.7"/><circle cx="787.7" cy="1414.6" r="4.7"/><circle cx="792.6" cy="1391.9" r="4.7"/><circle cx="796.7" cy="1414.1" r="4.7"/><circle cx="802.1" cy="1390.5" r="4.7"/><circle cx="806.1" cy="1385.6" r="4.7"/><circle cx="810.8" cy="1393.2" r="4.7"/><circle cx="815.6" cy="1409.2" r="4.7"/><circle cx="821.1" cy="1410.8" r="4.7"/><circle cx="824.6" cy="1404.1" r="4.7"/><circle cx="829.2" cy="1415.5" r="4.7"/><circle cx="833.8" cy="1424.1" r="4.7"/><circle cx="838.7" cy="1409.2" r="4.7"/><circle cx="843.3" cy="1423.1" r="4.7"/><circle cx="847.6" cy="1410.0" r="4.7"/><circle cx="852.3" cy="1398.4" r="4.7"/><circle cx="857.1" cy="1392.9" r="4.7"/><circle cx="861.8" cy="1372.6" r="4.7"/><circle cx="866.4" cy="1408.1" r="4.7"/><circle cx="870.7" cy="1420.1" r="4.7"/><circle cx="875.9" cy="1384.3" r="4.7"/><circle cx="880.2" cy="1402.4" r="4.7"/><circle cx="884.8" cy="1415.5" r="4.7"/><circle cx="889.7" cy="1414.9" r="4.7"/><circle cx="894.3" cy="1389.7" r="4.7"/><circle cx="898.9" cy="1396.5" r="4.7"/><circle cx="903.8" cy="1409.2" r="4.7"/><circle cx="907.9" cy="1428.2" r="4.7"/><circle cx="912.5" cy="1423.1" r="4.7"/><circle cx="917.4" cy="1410.0" r="4.7"/><circle cx="922.0" cy="1386.4" r="4.7"/><circle cx="926.9" cy="1408.1" r="4.7"/><circle cx="935.8" cy="1422.2" r="4.7"/><circle cx="940.4" cy="1414.9" r="4.7"/><circle cx="945.0" cy="1399.2" r="4.7"/><circle cx="949.9" cy="1425.8" r="4.7"/><circle cx="954.5" cy="1411.9" r="4.7"/><circle cx="959.4" cy="1400.5" r="4.7"/><circle cx="964.0" cy="1407.9" r="4.7"/><circle cx="968.4" cy="1396.5" r="4.7"/><circle cx="973.0" cy="1403.8" r="4.7"/><circle cx="977.6" cy="1406.0" r="4.7"/><circle cx="982.5" cy="1391.0" r="4.7"/><circle cx="987.1" cy="1395.7" r="4.7"/><circle cx="991.4" cy="1421.7" r="4.7"/><circle cx="996.0" cy="1402.7" r="4.7"/><circle cx="1000.9" cy="1417.4" r="4.7"/><circle cx="1005.5" cy="1423.6" r="4.7"/><circle cx="1010.1" cy="1419.5" r="4.7"/><circle cx="1015.0" cy="1413.3" r="4.7"/><circle cx="1019.6" cy="1410.0" r="4.7"/><circle cx="1024.0" cy="1405.4" r="4.7"/><circle cx="1028.6" cy="1419.5" r="4.7"/><circle cx="1033.5" cy="1443.9" r="4.7"/><circle cx="1038.1" cy="1395.9" r="4.7"/><circle cx="1042.7" cy="1409.2" r="4.7"/><circle cx="1047.0" cy="1425.0" r="4.7"/><circle cx="1051.6" cy="1416.3" r="4.7"/><circle cx="1057.1" cy="1420.9" r="4.7"/><circle cx="1061.9" cy="1420.1" r="4.7"/><circle cx="1066.5" cy="1420.3" r="4.7"/><circle cx="1071.2" cy="1422.2" r="4.7"/><circle cx="1076.0" cy="1401.9" r="4.7"/><circle cx="551.0" cy="1132.5" r="4.7"/><circle cx="546.5" cy="1138.0" r="4.7"/><circle cx="535.6" cy="1176.9" r="4.7"/><circle cx="531.1" cy="1212.1" r="4.7"/><circle cx="527.5" cy="1239.2" r="4.7"/><circle cx="522.1" cy="1251.0" r="4.7"/><circle cx="517.5" cy="1290.8" r="4.7"/><circle cx="512.5" cy="1321.5" r="4.7"/><circle cx="508.0" cy="1338.7" r="4.7"/><circle cx="503.4" cy="1360.4" r="4.7"/><circle cx="499.1" cy="1369.4" r="4.7"/><circle cx="639.6" cy="1122.6" r="4.7"/><circle cx="643.2" cy="1180.5" r="4.7"/><circle cx="647.7" cy="1213.9" r="4.7"/><circle cx="652.3" cy="1224.8" r="4.7"/><circle cx="657.7" cy="1232.0" r="4.7"/><circle cx="661.3" cy="1251.0" r="4.7"/><circle cx="671.2" cy="1253.7" r="4.7"/><circle cx="667.3" cy="1267.3" r="4.7"/><circle cx="597.8" cy="923.2" r="4.7"/><circle cx="602.6" cy="937.5" r="4.7"/><circle cx="592.4" cy="949.0" r="4.7"/><circle cx="588.3" cy="960.5" r="4.7"/><circle cx="606.0" cy="972.1" r="4.7"/><circle cx="583.6" cy="976.8" r="4.7"/><circle cx="610.7" cy="980.2" r="4.7"/><circle cx="572.7" cy="989.7" r="4.7"/><circle cx="580.2" cy="991.0" r="4.7"/><circle cx="620.9" cy="999.9" r="4.7"/><circle cx="614.8" cy="1005.3" r="4.7"/><circle cx="568.7" cy="1012.1" r="4.7"/><circle cx="564.6" cy="1053.4" r="4.7"/><circle cx="559.2" cy="1058.9" r="4.7"/><circle cx="625.0" cy="1054.8" r="4.7"/><circle cx="630.4" cy="1058.2" r="4.7"/><circle cx="554.4" cy="1085.3" r="4.7"/><circle cx="635.1" cy="1096.1" r="4.7"/><circle cx="540.9" cy="1115.0" r="4.7"/></g>
<path d="M165.0,1429.1L167.0,1429.1L169.0,1429.0L171.0,1429.0L173.0,1429.0L175.0,1429.0L177.0,1429.0L179.0,1429.0L181.0,1429.0L183.0,1429.0L185.0,1429.0L187.0,1428.9L189.0,1428.9L191.0,1428.9L193.0,1428.9L195.0,1428.9L197.0,1428.9L199.0,1428.9L201.0,1428.9L203.0,1428.8L205.0,1428.8L207.0,1428.8L209.0,1428.8L211.0,1428.8L213.0,1428.8L215.0,1428.8L217.0,1428.7L219.0,1428.7L221.0,1428.7L223.0,1428.7L225.0,1428.7L227.0,1428.7L229.0,1428.6L231.0,1428.6L233.0,1428.6L235.0,1428.6L237.0,1428.6L239.0,1428.6L241.0,1428.5L243.0,1428.5L245.0,1428.5L247.0,1428.5L249.0,1428.5L251.0,1428.4L253.0,1428.4L255.0,1428.4L257.0,1428.4L259.0,1428.3L261.0,1428.3L263.0,1428.3L265.0,1428.3L267.0,1428.2L269.0,1428.2L271.0,1428.2L273.0,1428.2L275.0,1428.1L277.0,1428.1L279.0,1428.1L281.0,1428.1L283.0,1428.0L285.0,1428.0L287.0,1428.0L289.0,1428.0L291.0,1427.9L293.0,1427.9L295.0,1427.9L297.0,1427.9L299.0,1427.8L301.0,1427.8L303.0,1427.8L305.0,1427.7L307.0,1427.7L309.0,1427.7L311.0,1427.6L313.0,1427.6L315.0,1427.5L317.0,1427.5L319.0,1427.4L321.0,1427.4L323.0,1427.4L325.0,1427.3L327.0,1427.3L329.0,1427.2L331.0,1427.2L333.0,1427.1L335.0,1427.1L337.0,1427.0L339.0,1426.9L341.0,1426.9L343.0,1426.8L345.0,1426.8L347.0,1426.7L349.0,1426.7L351.0,1426.6L353.0,1426.6L355.0,1426.5L357.0,1426.4L359.0,1426.4L361.0,1426.3L363.0,1426.2L365.0,1426.1L367.0,1426.0L369.0,1426.0L371.0,1425.9L373.0,1425.8L375.0,1425.7L377.0,1425.6L379.0,1425.5L381.0,1425.4L383.0,1425.3L385.0,1425.1L387.0,1425.0L389.0,1424.9L391.0,1424.8L393.0,1424.6L395.0,1424.5L397.0,1424.3L399.0,1424.2L401.0,1424.0L403.0,1423.9L405.0,1423.7L407.0,1423.5L409.0,1423.3L411.0,1423.1L413.0,1422.9L415.0,1422.7L417.0,1422.6L419.0,1422.4L421.0,1422.1L423.0,1421.9L425.0,1421.6L427.0,1421.3L429.0,1421.0L431.0,1420.7L433.0,1420.4L435.0,1420.1L437.0,1419.8L439.0,1419.4L441.0,1419.1L443.0,1418.7L445.0,1418.2L447.0,1417.8L449.0,1417.3L451.0,1416.8L453.0,1416.3L455.0,1415.7L457.0,1415.1L459.0,1414.5L461.0,1413.8L463.0,1413.1L465.0,1412.3L467.0,1411.5L469.0,1410.6L471.0,1409.6L473.0,1408.6L475.0,1407.4L477.0,1406.2L479.0,1404.9L481.0,1403.3L483.0,1401.6L485.0,1399.8L487.0,1397.8L489.0,1395.5L491.0,1392.8L493.0,1390.0L495.0,1386.8L497.0,1383.0L499.0,1378.8L501.0,1374.1L503.0,1368.9L505.0,1363.1L507.0,1356.6L509.0,1349.3L511.0,1341.2L513.0,1332.2L515.0,1322.2L517.0,1311.4L519.0,1299.4L521.0,1286.7L523.0,1272.7L525.0,1258.0L527.0,1242.4L529.0,1226.1L531.0,1209.5L533.0,1192.9L535.0,1176.6L537.0,1161.4L539.0,1147.4L541.0,1135.3L543.0,1125.1L545.0,1116.8L547.0,1110.2L549.0,1105.4L551.0,1101.4L553.0,1097.9L555.0,1094.2L557.0,1089.6L559.0,1084.3L561.0,1077.8L563.0,1070.3L565.0,1061.4L567.0,1051.4L569.0,1039.8L571.0,1027.7L573.0,1015.0L575.0,1002.2L577.0,989.5L579.0,977.1L581.0,965.9L583.0,955.3L585.0,945.9L587.0,938.3L589.0,932.0L591.0,927.5L593.0,924.7L595.0,923.3L597.0,924.0L599.0,926.0L601.0,929.5L603.0,934.7L605.0,941.3L607.0,949.1L609.0,958.1L611.0,968.1L613.0,979.0L615.0,990.4L617.0,1002.3L619.0,1014.5L621.0,1027.0L623.0,1039.4L625.0,1052.5L627.0,1065.0L629.0,1077.4L631.0,1090.3L633.0,1103.1L635.0,1115.6L637.0,1127.3L639.0,1138.6L641.0,1149.4L643.0,1159.7L645.0,1170.1L647.0,1180.0L649.0,1189.9L651.0,1199.5L653.0,1208.8L655.0,1218.0L657.0,1227.0L659.0,1235.9L661.0,1244.4L663.0,1252.9L665.0,1261.2L667.0,1269.2L669.0,1277.2L671.0,1284.8L673.0,1292.3L675.0,1299.6L677.0,1306.4L679.0,1313.2L681.0,1319.7L683.0,1325.8L685.0,1331.9L687.0,1337.5L689.0,1342.8L691.0,1348.0L693.0,1352.7L695.0,1357.3L697.0,1361.6L699.0,1365.6L701.0,1369.2L703.0,1372.5L705.0,1375.8L707.0,1378.6L709.0,1381.1L711.0,1383.4L713.0,1385.7L715.0,1387.5L717.0,1389.0L719.0,1390.6L721.0,1392.1L723.0,1393.2L725.0,1394.2L727.0,1395.3L729.0,1396.1L731.0,1396.8L733.0,1397.4L735.0,1398.0L737.0,1398.5L739.0,1398.9L741.0,1399.3L743.0,1399.6L745.0,1400.0L747.0,1400.2L749.0,1400.5L751.0,1400.7L753.0,1401.0L755.0,1401.1L757.0,1401.3L759.0,1401.4L761.0,1401.5L763.0,1401.6L765.0,1401.7L767.0,1401.8L769.0,1402.0L771.0,1402.1L773.0,1402.2L775.0,1402.3L777.0,1402.3L779.0,1402.4L781.0,1402.5L783.0,1402.6L785.0,1402.6L787.0,1402.7L789.0,1402.8L791.0,1402.8L793.0,1402.8L795.0,1402.9L797.0,1403.0L799.0,1403.0L801.0,1403.1L803.0,1403.1L805.0,1403.2L807.0,1403.2L809.0,1403.3L811.0,1403.3L813.0,1403.4L815.0,1403.4L817.0,1403.4L819.0,1403.5L821.0,1403.5L823.0,1403.6L825.0,1403.6L827.0,1403.6L829.0,1403.7L831.0,1403.7L833.0,1403.7L835.0,1403.8L837.0,1403.8L839.0,1403.8L841.0,1403.8L843.0,1403.9L845.0,1403.9L847.0,1403.9L849.0,1404.0L851.0,1404.0L853.0,1404.0L855.0,1404.0L857.0,1404.1L859.0,1404.1L861.0,1404.1L863.0,1404.1L865.0,1404.2L867.0,1404.2L869.0,1404.2L871.0,1404.2L873.0,1404.3L875.0,1404.3L877.0,1404.3L879.0,1404.3L881.0,1404.3L883.0,1404.4L885.0,1404.4L887.0,1404.4L889.0,1404.4L891.0,1404.4L893.0,1404.4L895.0,1404.4L897.0,1404.4L899.0,1404.5L901.0,1404.5L903.0,1404.5L905.0,1404.5L907.0,1404.5L909.0,1404.5L911.0,1404.6L913.0,1404.6L915.0,1404.6L917.0,1404.6L919.0,1404.6L921.0,1404.6L923.0,1404.7L925.0,1404.7L927.0,1404.7L929.0,1404.7L931.0,1404.7L933.0,1404.7L935.0,1404.7L937.0,1404.7L939.0,1404.7L941.0,1404.8L943.0,1404.8L945.0,1404.8L947.0,1404.8L949.0,1404.8L951.0,1404.8L953.0,1404.8L955.0,1404.8L957.0,1404.8L959.0,1404.8L961.0,1404.8L963.0,1404.8L965.0,1404.9L967.0,1404.9L969.0,1404.9L971.0,1404.9L973.0,1404.9L975.0,1404.9L977.0,1404.9L979.0,1404.9L981.0,1404.9L983.0,1404.9L985.0,1405.0L987.0,1405.0L989.0,1405.0L991.0,1405.0L993.0,1405.0L995.0,1405.0L997.0,1405.0L999.0,1405.0L1001.0,1405.0L1003.0,1405.0L1005.0,1405.0L1007.0,1405.0L1009.0,1405.1L1011.0,1405.1L1013.0,1405.1L1015.0,1405.1L1017.0,1405.1L1019.0,1405.1L1021.0,1405.1L1023.0,1405.1L1025.0,1405.1L1027.0,1405.1L1029.0,1405.1L1031.0,1405.1L1033.0,1405.1L1035.0,1405.1L1037.0,1405.1L1039.0,1405.1L1041.0,1405.2L1043.0,1405.2L1045.0,1405.2L1047.0,1405.2L1049.0,1405.2L1051.0,1405.2L1053.0,1405.2L1055.0,1405.2L1057.0,1405.2L1059.0,1405.2L1061.0,1405.2L1063.0,1405.2L1065.0,1405.2L1067.0,1405.2L1069.0,1405.2L1071.0,1405.2L1073.0,1405.2L1075.0,1405.2L1077.0,1405.2L1079.0,1405.2" fill="none" stroke="#a0a0a0" stroke-width="3.0" stroke-linejoin="round" stroke-linecap="round"/>
<line x1="593.8" y1="1027.7" x2="593.8" y2="918.8" stroke="#000" stroke-width="3.6" stroke-dasharray="13.6 6.1"/>
<line x1="543.8" y1="1223" x2="543.8" y2="1114.5" stroke="#000" stroke-width="3.6" stroke-dasharray="13.6 6.1"/>
<line x1="647.4" y1="1282.6" x2="647.4" y2="1174.1" stroke="#000" stroke-width="3.6" stroke-dasharray="13.6 6.1"/>
<rect x="151.9" y="881.2" width="928.5000000000001" height="669.3" fill="none" stroke="#000" stroke-width="2.7"/>
<line x1="151.9" y1="1550.5" x2="151.9" y2="1562.5" stroke="#000" stroke-width="2.7"/>
<line x1="268.0" y1="1550.5" x2="268.0" y2="1557.0" stroke="#000" stroke-width="2.7"/>
<line x1="384.0" y1="1550.5" x2="384.0" y2="1562.5" stroke="#000" stroke-width="2.7"/>
<line x1="500.1" y1="1550.5" x2="500.1" y2="1557.0" stroke="#000" stroke-width="2.7"/>
<line x1="616.2" y1="1550.5" x2="616.2" y2="1562.5" stroke="#000" stroke-width="2.7"/>
<line x1="732.2" y1="1550.5" x2="732.2" y2="1557.0" stroke="#000" stroke-width="2.7"/>
<line x1="848.3" y1="1550.5" x2="848.3" y2="1562.5" stroke="#000" stroke-width="2.7"/>
<line x1="964.3" y1="1550.5" x2="964.3" y2="1557.0" stroke="#000" stroke-width="2.7"/>
<line x1="1080.4" y1="1550.5" x2="1080.4" y2="1562.5" stroke="#000" stroke-width="2.7"/></g>
<g id="panel-d"><defs><linearGradient id="dorange" x1="0" y1="0" x2="0" y2="1"><stop offset="0" stop-color="#efa352"/><stop offset="1" stop-color="#fae6c8"/></linearGradient><linearGradient id="dred" x1="0" y1="0" x2="0" y2="1"><stop offset="0" stop-color="#ee8a84"/><stop offset="1" stop-color="#f9cbc4"/></linearGradient><linearGradient id="dpurple" x1="0" y1="0" x2="0" y2="1"><stop offset="0" stop-color="#c9c8e3"/><stop offset="1" stop-color="#d8d6ea"/></linearGradient><linearGradient id="dblue" x1="0" y1="0" x2="0" y2="1"><stop offset="0" stop-color="#8fb6d0"/><stop offset="1" stop-color="#b4cfe0"/></linearGradient><linearGradient id="dgreen" x1="0" y1="0" x2="0" y2="1"><stop offset="0" stop-color="#8fd0c0"/><stop offset="1" stop-color="#a8dccf"/></linearGradient><linearGradient id="dyellow" x1="0" y1="0" x2="0" y2="1"><stop offset="0" stop-color="#f5ee86"/><stop offset="1" stop-color="#f7f0a0"/></linearGradient></defs>
<path d="M1536.0,1395.5L1537.0,1393.0L1538.0,1390.6L1539.0,1388.1L1540.0,1385.6L1541.0,1383.2L1542.0,1380.7L1543.0,1378.3L1544.0,1375.8L1545.0,1373.4L1546.0,1370.9L1547.0,1368.5L1548.0,1366.0L1549.0,1363.6L1550.0,1361.1L1551.0,1358.7L1552.0,1356.3L1553.0,1353.9L1554.0,1351.5L1555.0,1349.1L1556.0,1346.7L1557.0,1344.4L1558.0,1342.1L1559.0,1339.8L1560.0,1337.5L1561.0,1335.3L1562.0,1333.1L1563.0,1331.0L1564.0,1328.9L1565.0,1326.8L1566.0,1324.8L1567.0,1322.8L1568.0,1320.9L1569.0,1319.0L1570.0,1317.1L1571.0,1315.2L1572.0,1313.4L1573.0,1311.6L1574.0,1309.8L1575.0,1308.0L1576.0,1306.2L1577.0,1304.4L1578.0,1302.7L1579.0,1301.0L1580.0,1299.4L1581.0,1297.8L1582.0,1296.2L1583.0,1294.6L1584.0,1293.1L1585.0,1291.6L1586.0,1290.2L1587.0,1288.8L1588.0,1287.4L1589.0,1286.1L1590.0,1284.8L1591.0,1283.5L1592.0,1282.2L1593.0,1280.9L1594.0,1279.7L1595.0,1278.5L1596.0,1277.2L1597.0,1276.1L1598.0,1274.9L1599.0,1273.7L1600.0,1272.6L1601.0,1271.4L1602.0,1270.3L1603.0,1269.2L1604.0,1268.2L1605.0,1267.1L1606.0,1266.0L1607.0,1265.0L1608.0,1264.0L1609.0,1263.0L1610.0,1262.0L1611.0,1261.1L1612.0,1260.1L1613.0,1259.2L1614.0,1258.3L1615.0,1257.4L1616.0,1256.5L1617.0,1255.6L1618.0,1254.7L1619.0,1253.9L1620.0,1253.0L1621.0,1252.2L1622.0,1251.4L1623.0,1250.5L1624.0,1249.7L1625.0,1249.0L1626.0,1248.2L1627.0,1247.4L1628.0,1246.6L1629.0,1245.9L1630.0,1245.1L1631.0,1244.4L1632.0,1243.7L1633.0,1243.0L1634.0,1242.2L1635.0,1241.5L1636.0,1240.8L1637.0,1240.1L1638.0,1239.4L1639.0,1238.8L1640.0,1238.1L1641.0,1237.4L1642.0,1236.7L1643.0,1236.1L1644.0,1235.4L1645.0,1234.7L1646.0,1234.1L1647.0,1233.4L1648.0,1232.8L1649.0,1232.1L1650.0,1231.5L1651.0,1230.8L1652.0,1230.2L1653.0,1229.6L1654.0,1228.9L1655.0,1228.3L1656.0,1227.7L1657.0,1227.1L1658.0,1226.5L1659.0,1225.9L1660.0,1225.3L1661.0,1224.7L1662.0,1224.1L1663.0,1223.6L1664.0,1223.0L1665.0,1222.5L1666.0,1221.9L1667.0,1221.4L1668.0,1220.8L1669.0,1220.3L1670.0,1219.8L1671.0,1219.2L1672.0,1218.7L1673.0,1218.2L1674.0,1217.7L1675.0,1217.2L1676.0,1216.7L1677.0,1216.2L1678.0,1215.7L1679.0,1215.2L1680.0,1214.7L1681.0,1214.3L1682.0,1213.8L1683.0,1213.3L1684.0,1212.9L1685.0,1212.4L1686.0,1212.0L1687.0,1211.5L1688.0,1211.1L1689.0,1210.7L1690.0,1210.3L1691.0,1209.9L1692.0,1209.5L1693.0,1209.1L1694.0,1208.7L1695.0,1208.4L1696.0,1208.0L1697.0,1207.6L1698.0,1207.3L1699.0,1207.0L1700.0,1206.6L1701.0,1206.3L1702.0,1206.0L1703.0,1205.7L1704.0,1205.4L1705.0,1205.2L1706.0,1204.9L1707.0,1204.6L1708.0,1204.4L1709.0,1204.2L1710.0,1204.0L1711.0,1203.7L1712.0,1203.6L1713.0,1203.4L1714.0,1203.2L1715.0,1203.1L1716.0,1202.9L1717.0,1202.8L1718.0,1202.7L1719.0,1202.6L1720.0,1202.5L1721.0,1202.4L1722.0,1202.3L1723.0,1202.2L1724.0,1202.1L1725.0,1202.1L1726.0,1202.0L1727.0,1202.0L1728.0,1201.9L1729.0,1201.8L1730.0,1201.8L1731.0,1201.7L1732.0,1201.7L1733.0,1201.6L1734.0,1201.6L1735.0,1201.5L1736.0,1201.5L1737.0,1201.4L1738.0,1201.4L1739.0,1201.4L1740.0,1201.4L1741.0,1201.5L1742.0,1201.5L1743.0,1201.6L1744.0,1201.6L1745.0,1201.7L1746.0,1201.8L1747.0,1201.9L1748.0,1202.0L1749.0,1202.2L1750.0,1202.3L1751.0,1202.5L1752.0,1202.6L1753.0,1202.8L1754.0,1202.9L1755.0,1203.1L1756.0,1203.3L1757.0,1203.5L1758.0,1203.7L1759.0,1203.9L1760.0,1204.0L1761.0,1204.2L1762.0,1204.4L1763.0,1204.6L1764.0,1204.8L1765.0,1205.0L1766.0,1205.2L1767.0,1205.4L1768.0,1205.6L1769.0,1205.8L1770.0,1206.0L1771.0,1206.2L1772.0,1206.4L1773.0,1206.6L1774.0,1206.8L1775.0,1206.9L1776.0,1207.1L1777.0,1207.3L1778.0,1207.4L1779.0,1207.6L1780.0,1207.8L1781.0,1208.0L1782.0,1208.1L1783.0,1208.3L1784.0,1208.4L1785.0,1208.6L1786.0,1208.7L1787.0,1208.9L1788.0,1209.0L1789.0,1209.1L1790.0,1209.3L1791.0,1209.4L1792.0,1209.4L1793.0,1209.5L1794.0,1209.6L1795.0,1209.6L1796.0,1209.6L1797.0,1209.6L1798.0,1209.6L1799.0,1209.6L1800.0,1209.5L1801.0,1209.5L1802.0,1209.4L1803.0,1209.3L1804.0,1209.2L1805.0,1209.0L1806.0,1208.9L1807.0,1208.7L1808.0,1208.5L1809.0,1208.3L1810.0,1208.1L1811.0,1207.8L1812.0,1207.6L1813.0,1207.3L1814.0,1207.0L1815.0,1206.6L1816.0,1206.3L1817.0,1205.9L1818.0,1205.6L1819.0,1205.2L1820.0,1204.7L1821.0,1204.3L1822.0,1203.8L1823.0,1203.3L1824.0,1202.8L1825.0,1202.2L1826.0,1201.6L1827.0,1201.0L1828.0,1200.4L1829.0,1199.7L1830.0,1199.0L1831.0,1198.3L1832.0,1197.6L1833.0,1196.8L1834.0,1196.1L1835.0,1195.3L1836.0,1194.4L1837.0,1193.6L1838.0,1192.8L1839.0,1191.9L1840.0,1191.1L1841.0,1190.2L1842.0,1189.3L1843.0,1188.4L1844.0,1187.5L1845.0,1186.6L1846.0,1185.7L1847.0,1184.8L1848.0,1183.9L1849.0,1183.0L1850.0,1182.1L1851.0,1181.2L1852.0,1180.3L1853.0,1179.4L1854.0,1178.5L1855.0,1177.6L1856.0,1176.6L1857.0,1175.7L1858.0,1174.8L1859.0,1173.9L1860.0,1173.0L1861.0,1172.0L1862.0,1171.1L1863.0,1170.2L1864.0,1169.3L1865.0,1168.4L1866.0,1167.6L1867.0,1166.7L1868.0,1165.8L1869.0,1165.0L1870.0,1164.1L1871.0,1163.3L1872.0,1162.5L1873.0,1161.7L1874.0,1160.9L1875.0,1160.1L1876.0,1159.3L1877.0,1158.6L1878.0,1157.8L1879.0,1157.1L1880.0,1156.4L1880.0,1157.0L1879.0,1157.8L1878.0,1158.5L1877.0,1159.3L1876.0,1160.1L1875.0,1160.9L1874.0,1161.7L1873.0,1162.5L1872.0,1163.4L1871.0,1164.2L1870.0,1165.1L1869.0,1166.0L1868.0,1166.9L1867.0,1167.8L1866.0,1168.8L1865.0,1169.7L1864.0,1170.6L1863.0,1171.6L1862.0,1172.6L1861.0,1173.5L1860.0,1174.5L1859.0,1175.5L1858.0,1176.5L1857.0,1177.5L1856.0,1178.5L1855.0,1179.5L1854.0,1180.5L1853.0,1181.5L1852.0,1182.5L1851.0,1183.5L1850.0,1184.5L1849.0,1185.5L1848.0,1186.5L1847.0,1187.5L1846.0,1188.5L1845.0,1189.5L1844.0,1190.5L1843.0,1191.5L1842.0,1192.5L1841.0,1193.5L1840.0,1194.5L1839.0,1195.5L1838.0,1196.5L1837.0,1197.5L1836.0,1198.5L1835.0,1199.4L1834.0,1200.4L1833.0,1201.3L1832.0,1202.2L1831.0,1203.1L1830.0,1204.0L1829.0,1204.9L1828.0,1205.7L1827.0,1206.5L1826.0,1207.3L1825.0,1208.1L1824.0,1208.9L1823.0,1209.6L1822.0,1210.3L1821.0,1211.0L1820.0,1211.7L1819.0,1212.3L1818.0,1213.0L1817.0,1213.6L1816.0,1214.2L1815.0,1214.8L1814.0,1215.3L1813.0,1215.9L1812.0,1216.4L1811.0,1217.0L1810.0,1217.5L1809.0,1218.0L1808.0,1218.5L1807.0,1218.9L1806.0,1219.4L1805.0,1219.8L1804.0,1220.3L1803.0,1220.7L1802.0,1221.1L1801.0,1221.5L1800.0,1221.9L1799.0,1222.3L1798.0,1222.7L1797.0,1223.0L1796.0,1223.3L1795.0,1223.7L1794.0,1224.0L1793.0,1224.3L1792.0,1224.6L1791.0,1224.8L1790.0,1225.1L1789.0,1225.3L1788.0,1225.6L1787.0,1225.8L1786.0,1226.1L1785.0,1226.3L1784.0,1226.5L1783.0,1226.8L1782.0,1227.0L1781.0,1227.2L1780.0,1227.5L1779.0,1227.7L1778.0,1227.9L1777.0,1228.2L1776.0,1228.4L1775.0,1228.7L1774.0,1228.9L1773.0,1229.1L1772.0,1229.4L1771.0,1229.6L1770.0,1229.8L1769.0,1230.1L1768.0,1230.3L1767.0,1230.5L1766.0,1230.7L1765.0,1230.9L1764.0,1231.2L1763.0,1231.4L1762.0,1231.6L1761.0,1231.8L1760.0,1232.0L1759.0,1232.2L1758.0,1232.4L1757.0,1232.7L1756.0,1232.9L1755.0,1233.1L1754.0,1233.3L1753.0,1233.6L1752.0,1233.8L1751.0,1234.0L1750.0,1234.3L1749.0,1234.5L1748.0,1234.7L1747.0,1235.0L1746.0,1235.2L1745.0,1235.5L1744.0,1235.8L1743.0,1236.0L1742.0,1236.3L1741.0,1236.6L1740.0,1236.9L1739.0,1237.2L1738.0,1237.5L1737.0,1237.8L1736.0,1238.2L1735.0,1238.5L1734.0,1238.8L1733.0,1239.2L1732.0,1239.5L1731.0,1239.8L1730.0,1240.1L1729.0,1240.4L1728.0,1240.7L1727.0,1240.9L1726.0,1241.2L1725.0,1241.4L1724.0,1241.7L1723.0,1241.9L1722.0,1242.2L1721.0,1242.4L1720.0,1242.6L1719.0,1242.9L1718.0,1243.1L1717.0,1243.3L1716.0,1243.5L1715.0,1243.8L1714.0,1244.0L1713.0,1244.2L1712.0,1244.5L1711.0,1244.7L1710.0,1244.9L1709.0,1245.2L1708.0,1245.4L1707.0,1245.6L1706.0,1245.9L1705.0,1246.1L1704.0,1246.3L1703.0,1246.6L1702.0,1246.8L1701.0,1247.0L1700.0,1247.3L1699.0,1247.5L1698.0,1247.7L1697.0,1247.9L1696.0,1248.2L1695.0,1248.4L1694.0,1248.6L1693.0,1248.8L1692.0,1249.0L1691.0,1249.2L1690.0,1249.5L1689.0,1249.7L1688.0,1249.9L1687.0,1250.1L1686.0,1250.3L1685.0,1250.5L1684.0,1250.7L1683.0,1250.9L1682.0,1251.1L1681.0,1251.3L1680.0,1251.4L1679.0,1251.6L1678.0,1251.8L1677.0,1252.0L1676.0,1252.2L1675.0,1252.4L1674.0,1252.5L1673.0,1252.7L1672.0,1252.9L1671.0,1253.0L1670.0,1253.2L1669.0,1253.4L1668.0,1253.5L1667.0,1253.7L1666.0,1253.9L1665.0,1254.0L1664.0,1254.2L1663.0,1254.4L1662.0,1254.5L1661.0,1254.7L1660.0,1254.9L1659.0,1255.1L1658.0,1255.3L1657.0,1255.5L1656.0,1255.7L1655.0,1255.9L1654.0,1256.1L1653.0,1256.3L1652.0,1256.5L1651.0,1256.7L1650.0,1256.9L1649.0,1257.2L1648.0,1257.4L1647.0,1257.6L1646.0,1257.9L1645.0,1258.1L1644.0,1258.4L1643.0,1258.6L1642.0,1258.9L1641.0,1259.1L1640.0,1259.4L1639.0,1259.7L1638.0,1259.9L1637.0,1260.2L1636.0,1260.5L1635.0,1260.8L1634.0,1261.1L1633.0,1261.5L1632.0,1261.8L1631.0,1262.1L1630.0,1262.5L1629.0,1262.8L1628.0,1263.2L1627.0,1263.6L1626.0,1264.0L1625.0,1264.4L1624.0,1264.9L1623.0,1265.3L1622.0,1265.8L1621.0,1266.2L1620.0,1266.7L1619.0,1267.2L1618.0,1267.8L1617.0,1268.3L1616.0,1268.8L1615.0,1269.4L1614.0,1270.0L1613.0,1270.6L1612.0,1271.2L1611.0,1271.9L1610.0,1272.6L1609.0,1273.3L1608.0,1274.0L1607.0,1274.7L1606.0,1275.5L1605.0,1276.2L1604.0,1277.0L1603.0,1277.9L1602.0,1278.7L1601.0,1279.6L1600.0,1280.4L1599.0,1281.4L1598.0,1282.3L1597.0,1283.2L1596.0,1284.2L1595.0,1285.2L1594.0,1286.2L1593.0,1287.2L1592.0,1288.3L1591.0,1289.4L1590.0,1290.5L1589.0,1291.6L1588.0,1292.8L1587.0,1294.0L1586.0,1295.2L1585.0,1296.5L1584.0,1297.8L1583.0,1299.1L1582.0,1300.5L1581.0,1301.9L1580.0,1303.4L1579.0,1304.9L1578.0,1306.5L1577.0,1308.1L1576.0,1309.7L1575.0,1311.3L1574.0,1313.0L1573.0,1314.7L1572.0,1316.4L1571.0,1318.1L1570.0,1319.9L1569.0,1321.6L1568.0,1323.4L1567.0,1325.3L1566.0,1327.2L1565.0,1329.1L1564.0,1331.1L1563.0,1333.1L1562.0,1335.1L1561.0,1337.2L1560.0,1339.4L1559.0,1341.6L1558.0,1343.8L1557.0,1346.0L1556.0,1348.3L1555.0,1350.6L1554.0,1352.9L1553.0,1355.3L1552.0,1357.6L1551.0,1360.0L1550.0,1362.3L1549.0,1364.7L1548.0,1367.1L1547.0,1369.5L1546.0,1371.9L1545.0,1374.3L1544.0,1376.7L1543.0,1379.2L1542.0,1381.6L1541.0,1384.0L1540.0,1386.4L1539.0,1388.8L1538.0,1391.2L1537.0,1393.7L1536.0,1396.1Z" fill="url(#dpurple)" fill-opacity="1.0"/>
<path d="M1447.0,1466.7L1448.0,1466.6L1449.0,1466.4L1450.0,1466.3L1451.0,1466.1L1452.0,1466.0L1453.0,1465.8L1454.0,1465.5L1455.0,1465.2L1456.0,1464.9L1457.0,1464.6L1458.0,1464.2L1459.0,1463.7L1460.0,1463.2L1461.0,1462.7L1462.0,1462.0L1463.0,1461.3L1464.0,1460.6L1465.0,1459.7L1466.0,1458.7L1467.0,1457.7L1468.0,1456.5L1469.0,1455.2L1470.0,1453.8L1471.0,1452.3L1472.0,1450.6L1473.0,1448.7L1474.0,1446.7L1475.0,1444.5L1476.0,1442.1L1477.0,1439.5L1478.0,1436.7L1479.0,1433.7L1480.0,1430.5L1481.0,1427.0L1482.0,1423.3L1483.0,1419.2L1484.0,1415.0L1485.0,1410.4L1486.0,1405.6L1487.0,1400.4L1488.0,1395.0L1489.0,1389.2L1490.0,1383.2L1491.0,1376.8L1492.0,1370.1L1493.0,1363.2L1494.0,1355.9L1495.0,1348.2L1496.0,1340.3L1497.0,1332.1L1498.0,1323.6L1499.0,1314.9L1500.0,1305.8L1501.0,1296.6L1502.0,1287.1L1503.0,1277.3L1504.0,1267.4L1505.0,1257.4L1506.0,1247.2L1507.0,1236.9L1508.0,1226.5L1509.0,1216.1L1510.0,1205.7L1511.0,1195.3L1512.0,1185.0L1513.0,1174.8L1514.0,1164.7L1515.0,1154.8L1516.0,1145.1L1517.0,1135.7L1518.0,1126.6L1519.0,1117.8L1520.0,1109.4L1521.0,1101.3L1522.0,1093.8L1523.0,1086.6L1524.0,1080.0L1525.0,1073.9L1526.0,1068.3L1527.0,1063.3L1528.0,1058.8L1529.0,1054.9L1530.0,1051.6L1531.0,1049.0L1532.0,1046.9L1533.0,1045.4L1534.0,1044.6L1535.0,1044.4L1536.0,1044.8L1537.0,1045.8L1538.0,1047.4L1539.0,1049.5L1540.0,1052.2L1541.0,1055.4L1542.0,1059.1L1543.0,1063.3L1544.0,1067.8L1545.0,1072.8L1546.0,1078.1L1547.0,1083.7L1548.0,1089.6L1549.0,1095.8L1550.0,1102.2L1551.0,1108.7L1552.0,1115.4L1553.0,1122.2L1554.0,1129.1L1555.0,1136.0L1556.0,1142.9L1557.0,1149.8L1558.0,1156.6L1559.0,1163.4L1560.0,1170.1L1561.0,1176.7L1562.0,1183.1L1563.0,1189.4L1564.0,1195.5L1565.0,1201.4L1566.0,1207.2L1567.0,1212.7L1568.0,1218.0L1569.0,1223.0L1570.0,1227.8L1571.0,1232.4L1572.0,1236.6L1573.0,1240.6L1574.0,1244.4L1575.0,1247.9L1576.0,1251.1L1577.0,1254.1L1578.0,1256.8L1579.0,1259.3L1580.0,1261.6L1581.0,1263.7L1582.0,1265.5L1583.0,1267.2L1584.0,1268.8L1585.0,1270.1L1586.0,1271.3L1587.0,1272.3L1588.0,1273.2L1589.0,1274.0L1590.0,1274.6L1591.0,1275.1L1592.0,1275.5L1593.0,1275.8L1594.0,1275.9L1595.0,1276.0L1596.0,1276.0L1597.0,1276.0L1598.0,1275.8L1599.0,1275.7L1600.0,1275.4L1601.0,1275.1L1602.0,1274.8L1603.0,1274.4L1604.0,1274.0L1605.0,1273.6L1606.0,1273.1L1607.0,1272.7L1608.0,1272.2L1609.0,1271.7L1610.0,1271.2L1611.0,1270.7L1612.0,1270.2L1613.0,1269.7L1614.0,1269.3L1615.0,1268.8L1615.0,1269.4L1614.0,1270.0L1613.0,1270.6L1612.0,1271.2L1611.0,1271.9L1610.0,1272.6L1609.0,1273.3L1608.0,1274.0L1607.0,1274.7L1606.0,1275.5L1605.0,1276.2L1604.0,1277.0L1603.0,1277.9L1602.0,1278.7L1601.0,1279.6L1600.0,1280.4L1599.0,1281.4L1598.0,1282.3L1597.0,1283.2L1596.0,1284.2L1595.0,1285.2L1594.0,1286.2L1593.0,1287.2L1592.0,1288.3L1591.0,1289.4L1590.0,1290.5L1589.0,1291.6L1588.0,1292.8L1587.0,1294.0L1586.0,1295.2L1585.0,1296.5L1584.0,1297.8L1583.0,1299.1L1582.0,1300.5L1581.0,1301.9L1580.0,1303.4L1579.0,1304.9L1578.0,1306.5L1577.0,1308.1L1576.0,1309.7L1575.0,1311.3L1574.0,1313.0L1573.0,1314.7L1572.0,1316.4L1571.0,1318.1L1570.0,1319.9L1569.0,1321.6L1568.0,1323.4L1567.0,1325.3L1566.0,1327.2L1565.0,1329.1L1564.0,1331.1L1563.0,1333.1L1562.0,1335.1L1561.0,1337.2L1560.0,1339.4L1559.0,1341.6L1558.0,1343.8L1557.0,1346.0L1556.0,1348.3L1555.0,1350.6L1554.0,1352.9L1553.0,1355.3L1552.0,1357.6L1551.0,1360.0L1550.0,1362.3L1549.0,1364.7L1548.0,1367.1L1547.0,1369.5L1546.0,1371.9L1545.0,1374.3L1544.0,1376.7L1543.0,1379.2L1542.0,1381.6L1541.0,1384.0L1540.0,1386.4L1539.0,1388.8L1538.0,1391.2L1537.0,1393.7L1536.0,1396.1L1535.0,1398.5L1534.0,1400.9L1533.0,1403.3L1532.0,1405.7L1531.0,1408.1L1530.0,1410.4L1529.0,1412.7L1528.0,1414.9L1527.0,1417.2L1526.0,1419.3L1525.0,1421.4L1524.0,1423.5L1523.0,1425.5L1522.0,1427.5L1521.0,1429.4L1520.0,1431.3L1519.0,1433.1L1518.0,1434.9L1517.0,1436.6L1516.0,1438.3L1515.0,1439.9L1514.0,1441.4L1513.0,1442.9L1512.0,1444.4L1511.0,1445.8L1510.0,1447.1L1509.0,1448.4L1508.0,1449.6L1507.0,1450.7L1506.0,1451.8L1505.0,1452.8L1504.0,1453.8L1503.0,1454.7L1502.0,1455.6L1501.0,1456.4L1500.0,1457.1L1499.0,1457.8L1498.0,1458.5L1497.0,1459.1L1496.0,1459.7L1495.0,1460.2L1494.0,1460.7L1493.0,1461.2L1492.0,1461.6L1491.0,1462.0L1490.0,1462.4L1489.0,1462.8L1488.0,1463.1L1487.0,1463.5L1486.0,1463.8L1485.0,1464.0L1484.0,1464.3L1483.0,1464.5L1482.0,1464.8L1481.0,1465.0L1480.0,1465.2L1479.0,1465.4L1478.0,1465.5L1477.0,1465.7L1476.0,1465.8L1475.0,1466.0L1474.0,1466.1L1473.0,1466.2L1472.0,1466.3L1471.0,1466.4L1470.0,1466.5L1469.0,1466.6L1468.0,1466.7L1467.0,1466.8L1466.0,1466.8L1465.0,1466.9L1464.0,1466.9L1463.0,1467.0L1462.0,1467.0L1461.0,1467.1L1460.0,1467.1L1459.0,1467.2L1458.0,1467.2L1457.0,1467.2L1456.0,1467.2L1455.0,1467.3L1454.0,1467.3L1453.0,1467.3L1452.0,1467.3L1451.0,1467.3L1450.0,1467.3L1449.0,1467.3L1448.0,1467.3L1447.0,1467.3Z" fill="url(#dorange)" fill-opacity="1.0"/>
<path d="M1476.0,1465.2L1477.0,1465.0L1478.0,1464.7L1479.0,1464.5L1480.0,1464.2L1481.0,1463.9L1482.0,1463.5L1483.0,1463.2L1484.0,1462.8L1485.0,1462.4L1486.0,1461.9L1487.0,1461.4L1488.0,1460.9L1489.0,1460.3L1490.0,1459.7L1491.0,1459.0L1492.0,1458.3L1493.0,1457.6L1494.0,1456.8L1495.0,1455.9L1496.0,1454.9L1497.0,1453.9L1498.0,1452.8L1499.0,1451.6L1500.0,1450.4L1501.0,1449.0L1502.0,1447.6L1503.0,1446.1L1504.0,1444.4L1505.0,1442.7L1506.0,1440.8L1507.0,1438.8L1508.0,1436.7L1509.0,1434.5L1510.0,1432.2L1511.0,1429.7L1512.0,1427.1L1513.0,1424.4L1514.0,1421.5L1515.0,1418.5L1516.0,1415.4L1517.0,1412.1L1518.0,1408.7L1519.0,1405.2L1520.0,1401.6L1521.0,1397.8L1522.0,1393.9L1523.0,1389.8L1524.0,1385.6L1525.0,1381.3L1526.0,1376.8L1527.0,1372.2L1528.0,1367.4L1529.0,1362.5L1530.0,1357.5L1531.0,1352.4L1532.0,1347.1L1533.0,1341.8L1534.0,1336.3L1535.0,1330.8L1536.0,1325.1L1537.0,1319.4L1538.0,1313.7L1539.0,1307.8L1540.0,1302.0L1541.0,1296.0L1542.0,1290.0L1543.0,1284.0L1544.0,1278.0L1545.0,1271.9L1546.0,1265.8L1547.0,1259.7L1548.0,1253.6L1549.0,1247.6L1550.0,1241.5L1551.0,1235.5L1552.0,1229.5L1553.0,1223.5L1554.0,1217.6L1555.0,1211.8L1556.0,1206.1L1557.0,1200.5L1558.0,1195.0L1559.0,1189.6L1560.0,1184.3L1561.0,1179.2L1562.0,1174.3L1563.0,1169.5L1564.0,1164.9L1565.0,1160.5L1566.0,1156.3L1567.0,1152.3L1568.0,1148.5L1569.0,1144.9L1570.0,1141.5L1571.0,1138.4L1572.0,1135.4L1573.0,1132.6L1574.0,1130.1L1575.0,1127.8L1576.0,1125.7L1577.0,1123.8L1578.0,1122.2L1579.0,1120.7L1580.0,1119.6L1581.0,1118.6L1582.0,1118.0L1583.0,1117.5L1584.0,1117.3L1585.0,1117.3L1586.0,1117.6L1587.0,1118.0L1588.0,1118.7L1589.0,1119.5L1590.0,1120.6L1591.0,1121.8L1592.0,1123.2L1593.0,1124.8L1594.0,1126.5L1595.0,1128.4L1596.0,1130.4L1597.0,1132.6L1598.0,1134.9L1599.0,1137.2L1600.0,1139.7L1601.0,1142.3L1602.0,1144.9L1603.0,1147.6L1604.0,1150.4L1605.0,1153.3L1606.0,1156.2L1607.0,1159.1L1608.0,1162.1L1609.0,1165.0L1610.0,1168.0L1611.0,1171.0L1612.0,1174.0L1613.0,1177.0L1614.0,1180.0L1615.0,1183.0L1616.0,1185.9L1617.0,1188.8L1618.0,1191.6L1619.0,1194.4L1620.0,1197.1L1621.0,1199.8L1622.0,1202.5L1623.0,1205.0L1624.0,1207.5L1625.0,1209.9L1626.0,1212.3L1627.0,1214.6L1628.0,1216.8L1629.0,1218.9L1630.0,1221.0L1631.0,1222.9L1632.0,1224.8L1633.0,1226.6L1634.0,1228.4L1635.0,1230.0L1636.0,1231.6L1637.0,1233.1L1638.0,1234.5L1639.0,1235.9L1640.0,1237.2L1641.0,1238.4L1642.0,1239.5L1643.0,1240.6L1644.0,1241.6L1645.0,1242.5L1646.0,1243.4L1647.0,1244.2L1648.0,1244.9L1649.0,1245.6L1650.0,1246.3L1651.0,1246.9L1652.0,1247.4L1653.0,1247.9L1654.0,1248.4L1655.0,1248.8L1656.0,1249.2L1657.0,1249.5L1658.0,1249.8L1659.0,1250.1L1660.0,1250.3L1661.0,1250.5L1662.0,1250.7L1663.0,1250.9L1664.0,1251.0L1665.0,1251.1L1666.0,1251.2L1667.0,1251.3L1668.0,1251.4L1669.0,1251.4L1670.0,1251.4L1671.0,1251.4L1672.0,1251.4L1673.0,1251.4L1674.0,1251.4L1675.0,1251.3L1676.0,1251.2L1677.0,1251.1L1678.0,1251.1L1679.0,1250.9L1680.0,1250.8L1680.0,1251.4L1679.0,1251.6L1678.0,1251.8L1677.0,1252.0L1676.0,1252.2L1675.0,1252.4L1674.0,1252.5L1673.0,1252.7L1672.0,1252.9L1671.0,1253.0L1670.0,1253.2L1669.0,1253.4L1668.0,1253.5L1667.0,1253.7L1666.0,1253.9L1665.0,1254.0L1664.0,1254.2L1663.0,1254.4L1662.0,1254.5L1661.0,1254.7L1660.0,1254.9L1659.0,1255.1L1658.0,1255.3L1657.0,1255.5L1656.0,1255.7L1655.0,1255.9L1654.0,1256.1L1653.0,1256.3L1652.0,1256.5L1651.0,1256.7L1650.0,1256.9L1649.0,1257.2L1648.0,1257.4L1647.0,1257.6L1646.0,1257.9L1645.0,1258.1L1644.0,1258.4L1643.0,1258.6L1642.0,1258.9L1641.0,1259.1L1640.0,1259.4L1639.0,1259.7L1638.0,1259.9L1637.0,1260.2L1636.0,1260.5L1635.0,1260.8L1634.0,1261.1L1633.0,1261.5L1632.0,1261.8L1631.0,1262.1L1630.0,1262.5L1629.0,1262.8L1628.0,1263.2L1627.0,1263.6L1626.0,1264.0L1625.0,1264.4L1624.0,1264.9L1623.0,1265.3L1622.0,1265.8L1621.0,1266.2L1620.0,1266.7L1619.0,1267.2L1618.0,1267.8L1617.0,1268.3L1616.0,1268.8L1615.0,1269.4L1614.0,1270.0L1613.0,1270.6L1612.0,1271.2L1611.0,1271.9L1610.0,1272.6L1609.0,1273.3L1608.0,1274.0L1607.0,1274.7L1606.0,1275.5L1605.0,1276.2L1604.0,1277.0L1603.0,1277.9L1602.0,1278.7L1601.0,1279.6L1600.0,1280.4L1599.0,1281.4L1598.0,1282.3L1597.0,1283.2L1596.0,1284.2L1595.0,1285.2L1594.0,1286.2L1593.0,1287.2L1592.0,1288.3L1591.0,1289.4L1590.0,1290.5L1589.0,1291.6L1588.0,1292.8L1587.0,1294.0L1586.0,1295.2L1585.0,1296.5L1584.0,1297.8L1583.0,1299.1L1582.0,1300.5L1581.0,1301.9L1580.0,1303.4L1579.0,1304.9L1578.0,1306.5L1577.0,1308.1L1576.0,1309.7L1575.0,1311.3L1574.0,1313.0L1573.0,1314.7L1572.0,1316.4L1571.0,1318.1L1570.0,1319.9L1569.0,1321.6L1568.0,1323.4L1567.0,1325.3L1566.0,1327.2L1565.0,1329.1L1564.0,1331.1L1563.0,1333.1L1562.0,1335.1L1561.0,1337.2L1560.0,1339.4L1559.0,1341.6L1558.0,1343.8L1557.0,1346.0L1556.0,1348.3L1555.0,1350.6L1554.0,1352.9L1553.0,1355.3L1552.0,1357.6L1551.0,1360.0L1550.0,1362.3L1549.0,1364.7L1548.0,1367.1L1547.0,1369.5L1546.0,1371.9L1545.0,1374.3L1544.0,1376.7L1543.0,1379.2L1542.0,1381.6L1541.0,1384.0L1540.0,1386.4L1539.0,1388.8L1538.0,1391.2L1537.0,1393.7L1536.0,1396.1L1535.0,1398.5L1534.0,1400.9L1533.0,1403.3L1532.0,1405.7L1531.0,1408.1L1530.0,1410.4L1529.0,1412.7L1528.0,1414.9L1527.0,1417.2L1526.0,1419.3L1525.0,1421.4L1524.0,1423.5L1523.0,1425.5L1522.0,1427.5L1521.0,1429.4L1520.0,1431.3L1519.0,1433.1L1518.0,1434.9L1517.0,1436.6L1516.0,1438.3L1515.0,1439.9L1514.0,1441.4L1513.0,1442.9L1512.0,1444.4L1511.0,1445.8L1510.0,1447.1L1509.0,1448.4L1508.0,1449.6L1507.0,1450.7L1506.0,1451.8L1505.0,1452.8L1504.0,1453.8L1503.0,1454.7L1502.0,1455.6L1501.0,1456.4L1500.0,1457.1L1499.0,1457.8L1498.0,1458.5L1497.0,1459.1L1496.0,1459.7L1495.0,1460.2L1494.0,1460.7L1493.0,1461.2L1492.0,1461.6L1491.0,1462.0L1490.0,1462.4L1489.0,1462.8L1488.0,1463.1L1487.0,1463.5L1486.0,1463.8L1485.0,1464.0L1484.0,1464.3L1483.0,1464.5L1482.0,1464.8L1481.0,1465.0L1480.0,1465.2L1479.0,1465.4L1478.0,1465.5L1477.0,1465.7L1476.0,1465.8Z" fill="url(#dred)" fill-opacity="0.8"/>
<path d="M1567.0,1324.7L1568.0,1322.8L1569.0,1321.0L1570.0,1319.2L1571.0,1317.5L1572.0,1315.8L1573.0,1314.1L1574.0,1312.4L1575.0,1310.7L1576.0,1309.0L1577.0,1307.4L1578.0,1305.8L1579.0,1304.3L1580.0,1302.7L1581.0,1301.3L1582.0,1299.8L1583.0,1298.4L1584.0,1297.1L1585.0,1295.8L1586.0,1294.5L1587.0,1293.3L1588.0,1292.1L1589.0,1290.9L1590.0,1289.8L1591.0,1288.7L1592.0,1287.6L1593.0,1286.5L1594.0,1285.5L1595.0,1284.4L1596.0,1283.4L1597.0,1282.5L1598.0,1281.5L1599.0,1280.6L1600.0,1279.7L1601.0,1278.8L1602.0,1277.9L1603.0,1277.1L1604.0,1276.2L1605.0,1275.4L1606.0,1274.6L1607.0,1273.9L1608.0,1273.1L1609.0,1272.4L1610.0,1271.7L1611.0,1271.0L1612.0,1270.4L1613.0,1269.8L1614.0,1269.1L1615.0,1268.5L1616.0,1268.0L1617.0,1267.4L1618.0,1266.8L1619.0,1266.3L1620.0,1265.8L1621.0,1265.3L1622.0,1264.8L1623.0,1264.4L1624.0,1263.9L1625.0,1263.5L1626.0,1263.0L1627.0,1262.6L1628.0,1262.2L1629.0,1261.8L1630.0,1261.5L1631.0,1261.1L1632.0,1260.8L1633.0,1260.4L1634.0,1260.1L1635.0,1259.8L1636.0,1259.5L1637.0,1259.2L1638.0,1258.9L1639.0,1258.6L1640.0,1258.3L1641.0,1258.0L1642.0,1257.7L1643.0,1257.5L1644.0,1257.2L1645.0,1256.9L1646.0,1256.7L1647.0,1256.4L1648.0,1256.2L1649.0,1256.0L1650.0,1255.7L1651.0,1255.5L1652.0,1255.3L1653.0,1255.0L1654.0,1254.8L1655.0,1254.6L1656.0,1254.4L1657.0,1254.2L1658.0,1253.9L1659.0,1253.7L1660.0,1253.5L1661.0,1253.3L1662.0,1253.2L1663.0,1253.0L1664.0,1252.8L1665.0,1252.6L1666.0,1252.4L1667.0,1252.2L1668.0,1252.0L1669.0,1251.9L1670.0,1251.7L1671.0,1251.5L1672.0,1251.3L1673.0,1251.1L1674.0,1250.9L1675.0,1250.8L1676.0,1250.6L1677.0,1250.4L1678.0,1250.2L1679.0,1250.0L1680.0,1249.7L1681.0,1249.5L1682.0,1249.3L1683.0,1249.1L1684.0,1248.9L1685.0,1248.7L1686.0,1248.4L1687.0,1248.2L1688.0,1248.0L1689.0,1247.8L1690.0,1247.5L1691.0,1247.3L1692.0,1247.1L1693.0,1246.8L1694.0,1246.6L1695.0,1246.3L1696.0,1246.1L1697.0,1245.8L1698.0,1245.6L1699.0,1245.3L1700.0,1245.1L1701.0,1244.8L1702.0,1244.6L1703.0,1244.3L1704.0,1244.0L1705.0,1243.8L1706.0,1243.5L1707.0,1243.2L1708.0,1243.0L1709.0,1242.7L1710.0,1242.4L1711.0,1242.2L1712.0,1241.9L1713.0,1241.6L1714.0,1241.3L1715.0,1241.1L1716.0,1240.8L1717.0,1240.5L1718.0,1240.3L1719.0,1240.0L1720.0,1239.7L1721.0,1239.4L1722.0,1239.2L1723.0,1238.9L1724.0,1238.6L1725.0,1238.3L1726.0,1238.0L1727.0,1237.7L1728.0,1237.3L1729.0,1237.0L1730.0,1236.7L1731.0,1236.3L1732.0,1235.9L1733.0,1235.6L1734.0,1235.2L1735.0,1234.8L1736.0,1234.4L1737.0,1234.0L1738.0,1233.6L1739.0,1233.2L1740.0,1232.8L1741.0,1232.5L1742.0,1232.1L1743.0,1231.7L1744.0,1231.4L1745.0,1231.0L1746.0,1230.7L1747.0,1230.3L1748.0,1230.0L1749.0,1229.7L1750.0,1229.3L1751.0,1229.0L1752.0,1228.7L1753.0,1228.3L1754.0,1228.0L1755.0,1227.6L1756.0,1227.3L1757.0,1226.9L1758.0,1226.6L1759.0,1226.2L1760.0,1225.9L1761.0,1225.5L1762.0,1225.1L1763.0,1224.7L1764.0,1224.3L1765.0,1223.9L1766.0,1223.5L1767.0,1223.1L1768.0,1222.7L1769.0,1222.2L1770.0,1221.7L1771.0,1221.2L1772.0,1220.7L1773.0,1220.2L1774.0,1219.7L1775.0,1219.1L1776.0,1218.5L1777.0,1217.9L1778.0,1217.2L1779.0,1216.6L1780.0,1215.9L1781.0,1215.2L1782.0,1214.4L1783.0,1213.6L1784.0,1212.8L1785.0,1211.9L1786.0,1211.0L1787.0,1210.1L1788.0,1209.1L1789.0,1208.0L1790.0,1206.9L1791.0,1205.7L1792.0,1204.4L1793.0,1203.1L1794.0,1201.7L1795.0,1200.2L1796.0,1198.7L1797.0,1197.0L1798.0,1195.3L1799.0,1193.4L1800.0,1191.5L1801.0,1189.5L1802.0,1187.4L1803.0,1185.2L1804.0,1182.9L1805.0,1180.5L1806.0,1178.0L1807.0,1175.5L1808.0,1172.8L1809.0,1170.0L1810.0,1167.1L1811.0,1164.1L1812.0,1161.1L1813.0,1157.9L1814.0,1154.6L1815.0,1151.3L1816.0,1147.9L1817.0,1144.4L1818.0,1140.8L1819.0,1137.2L1820.0,1133.5L1821.0,1129.7L1822.0,1125.9L1823.0,1122.1L1824.0,1118.2L1825.0,1114.3L1826.0,1110.5L1827.0,1106.6L1828.0,1102.7L1829.0,1098.9L1830.0,1095.2L1831.0,1091.5L1832.0,1087.9L1833.0,1084.5L1834.0,1081.1L1835.0,1078.0L1836.0,1075.0L1837.0,1072.2L1838.0,1069.6L1839.0,1067.2L1840.0,1065.1L1841.0,1063.2L1842.0,1061.7L1843.0,1060.4L1844.0,1059.3L1845.0,1058.6L1846.0,1058.1L1847.0,1058.0L1848.0,1058.0L1849.0,1058.4L1850.0,1059.0L1851.0,1059.8L1852.0,1060.8L1853.0,1062.0L1854.0,1063.4L1855.0,1064.9L1856.0,1066.5L1857.0,1068.3L1858.0,1070.2L1859.0,1072.2L1860.0,1074.2L1861.0,1076.3L1862.0,1078.4L1863.0,1080.6L1864.0,1082.8L1865.0,1085.0L1866.0,1087.1L1867.0,1089.3L1868.0,1091.4L1869.0,1093.5L1870.0,1095.6L1871.0,1097.6L1872.0,1099.6L1873.0,1101.6L1874.0,1103.4L1875.0,1105.2L1876.0,1107.0L1877.0,1108.7L1878.0,1110.3L1879.0,1111.8L1880.0,1113.3L1881.0,1114.7L1882.0,1116.1L1883.0,1117.3L1884.0,1118.5L1885.0,1119.7L1886.0,1120.7L1887.0,1121.7L1888.0,1122.6L1889.0,1123.5L1890.0,1124.3L1891.0,1125.0L1892.0,1125.7L1893.0,1126.3L1894.0,1126.9L1895.0,1127.4L1896.0,1127.9L1897.0,1128.3L1898.0,1128.6L1899.0,1128.9L1900.0,1129.2L1901.0,1129.4L1902.0,1129.6L1903.0,1129.8L1904.0,1129.9L1905.0,1130.0L1906.0,1130.0L1907.0,1130.0L1908.0,1130.0L1909.0,1130.0L1910.0,1130.0L1911.0,1129.9L1912.0,1129.8L1913.0,1129.7L1914.0,1129.6L1915.0,1129.5L1916.0,1129.4L1917.0,1129.2L1918.0,1129.1L1919.0,1129.0L1920.0,1128.8L1921.0,1128.7L1922.0,1128.5L1923.0,1128.4L1924.0,1128.2L1925.0,1128.1L1926.0,1127.9L1927.0,1127.8L1928.0,1127.7L1929.0,1127.5L1930.0,1127.4L1931.0,1127.2L1932.0,1127.0L1933.0,1126.9L1934.0,1126.7L1935.0,1126.6L1936.0,1126.4L1937.0,1126.3L1938.0,1126.1L1939.0,1126.0L1940.0,1125.8L1941.0,1125.7L1942.0,1125.6L1943.0,1125.5L1944.0,1125.4L1945.0,1125.3L1946.0,1125.2L1947.0,1125.1L1948.0,1125.0L1949.0,1124.9L1950.0,1124.8L1951.0,1124.7L1952.0,1124.6L1953.0,1124.6L1954.0,1124.5L1955.0,1124.4L1956.0,1124.4L1957.0,1124.3L1958.0,1124.2L1959.0,1124.2L1960.0,1124.1L1961.0,1124.0L1962.0,1124.0L1963.0,1123.9L1964.0,1123.9L1965.0,1123.8L1966.0,1123.8L1967.0,1123.7L1968.0,1123.7L1969.0,1123.6L1970.0,1123.6L1971.0,1123.6L1972.0,1123.5L1973.0,1123.5L1974.0,1123.5L1975.0,1123.4L1976.0,1123.4L1977.0,1123.4L1978.0,1123.4L1979.0,1123.3L1980.0,1123.3L1981.0,1123.3L1982.0,1123.3L1983.0,1123.3L1984.0,1123.2L1985.0,1123.2L1986.0,1123.2L1987.0,1123.2L1988.0,1123.2L1989.0,1123.1L1990.0,1123.1L1991.0,1123.1L1992.0,1123.1L1993.0,1123.1L1994.0,1123.1L1995.0,1123.0L1996.0,1123.0L1997.0,1123.0L1998.0,1123.0L1999.0,1123.0L2000.0,1123.0L2001.0,1122.9L2002.0,1122.9L2003.0,1122.9L2004.0,1122.9L2005.0,1122.8L2006.0,1122.8L2007.0,1122.8L2008.0,1122.8L2009.0,1122.7L2010.0,1122.7L2011.0,1122.7L2012.0,1122.7L2013.0,1122.6L2014.0,1122.6L2015.0,1122.6L2016.0,1122.5L2017.0,1122.5L2018.0,1122.5L2019.0,1122.4L2020.0,1122.4L2021.0,1122.4L2022.0,1122.3L2023.0,1122.3L2024.0,1122.2L2025.0,1122.2L2026.0,1122.1L2027.0,1122.1L2028.0,1122.0L2029.0,1122.0L2030.0,1121.9L2031.0,1121.9L2032.0,1121.8L2033.0,1121.8L2034.0,1121.7L2035.0,1121.7L2036.0,1121.6L2037.0,1121.6L2038.0,1121.5L2039.0,1121.5L2040.0,1121.4L2041.0,1121.4L2042.0,1121.4L2043.0,1121.4L2044.0,1121.3L2045.0,1121.3L2046.0,1121.3L2047.0,1121.3L2048.0,1121.2L2049.0,1121.2L2050.0,1121.2L2051.0,1121.1L2052.0,1121.1L2053.0,1121.1L2054.0,1121.0L2055.0,1121.0L2056.0,1121.0L2057.0,1120.9L2058.0,1120.9L2059.0,1120.9L2060.0,1120.8L2061.0,1120.8L2062.0,1120.7L2063.0,1120.7L2064.0,1120.7L2065.0,1120.6L2066.0,1120.6L2067.0,1120.5L2068.0,1120.5L2069.0,1120.4L2070.0,1120.4L2071.0,1120.3L2072.0,1120.3L2073.0,1120.2L2074.0,1120.2L2075.0,1120.1L2076.0,1120.1L2077.0,1120.0L2078.0,1120.0L2079.0,1119.9L2080.0,1119.9L2081.0,1119.8L2082.0,1119.8L2083.0,1119.7L2084.0,1119.7L2085.0,1119.6L2086.0,1119.6L2087.0,1119.5L2088.0,1119.5L2089.0,1119.4L2090.0,1119.4L2091.0,1119.3L2092.0,1119.3L2093.0,1119.2L2094.0,1119.2L2095.0,1119.2L2096.0,1119.1L2097.0,1119.1L2098.0,1119.0L2099.0,1119.0L2100.0,1119.0L2101.0,1118.9L2102.0,1118.9L2103.0,1118.9L2104.0,1118.8L2105.0,1118.8L2106.0,1118.8L2107.0,1118.7L2108.0,1118.7L2109.0,1118.7L2110.0,1118.7L2111.0,1118.7L2112.0,1118.7L2113.0,1118.7L2114.0,1118.6L2115.0,1118.6L2116.0,1118.6L2117.0,1118.6L2118.0,1118.6L2119.0,1118.6L2120.0,1118.6L2121.0,1118.6L2121.0,1119.2L2120.0,1119.2L2119.0,1119.2L2118.0,1119.2L2117.0,1119.2L2116.0,1119.2L2115.0,1119.3L2114.0,1119.3L2113.0,1119.3L2112.0,1119.3L2111.0,1119.3L2110.0,1119.3L2109.0,1119.4L2108.0,1119.4L2107.0,1119.4L2106.0,1119.4L2105.0,1119.5L2104.0,1119.5L2103.0,1119.5L2102.0,1119.6L2101.0,1119.6L2100.0,1119.7L2099.0,1119.7L2098.0,1119.8L2097.0,1119.8L2096.0,1119.8L2095.0,1119.9L2094.0,1119.9L2093.0,1120.0L2092.0,1120.0L2091.0,1120.1L2090.0,1120.1L2089.0,1120.2L2088.0,1120.2L2087.0,1120.3L2086.0,1120.3L2085.0,1120.4L2084.0,1120.5L2083.0,1120.5L2082.0,1120.6L2081.0,1120.6L2080.0,1120.7L2079.0,1120.8L2078.0,1120.8L2077.0,1120.9L2076.0,1120.9L2075.0,1121.0L2074.0,1121.1L2073.0,1121.1L2072.0,1121.2L2071.0,1121.2L2070.0,1121.3L2069.0,1121.3L2068.0,1121.4L2067.0,1121.4L2066.0,1121.5L2065.0,1121.5L2064.0,1121.6L2063.0,1121.7L2062.0,1121.7L2061.0,1121.8L2060.0,1121.8L2059.0,1121.9L2058.0,1121.9L2057.0,1121.9L2056.0,1122.0L2055.0,1122.0L2054.0,1122.1L2053.0,1122.1L2052.0,1122.2L2051.0,1122.2L2050.0,1122.2L2049.0,1122.3L2048.0,1122.3L2047.0,1122.4L2046.0,1122.4L2045.0,1122.4L2044.0,1122.5L2043.0,1122.5L2042.0,1122.5L2041.0,1122.6L2040.0,1122.6L2039.0,1122.7L2038.0,1122.7L2037.0,1122.8L2036.0,1122.8L2035.0,1122.9L2034.0,1123.0L2033.0,1123.0L2032.0,1123.1L2031.0,1123.2L2030.0,1123.2L2029.0,1123.3L2028.0,1123.4L2027.0,1123.4L2026.0,1123.5L2025.0,1123.6L2024.0,1123.6L2023.0,1123.7L2022.0,1123.7L2021.0,1123.8L2020.0,1123.9L2019.0,1123.9L2018.0,1124.0L2017.0,1124.0L2016.0,1124.1L2015.0,1124.1L2014.0,1124.2L2013.0,1124.2L2012.0,1124.3L2011.0,1124.3L2010.0,1124.4L2009.0,1124.4L2008.0,1124.4L2007.0,1124.5L2006.0,1124.5L2005.0,1124.6L2004.0,1124.6L2003.0,1124.7L2002.0,1124.7L2001.0,1124.8L2000.0,1124.8L1999.0,1124.8L1998.0,1124.9L1997.0,1124.9L1996.0,1125.0L1995.0,1125.0L1994.0,1125.1L1993.0,1125.1L1992.0,1125.1L1991.0,1125.2L1990.0,1125.2L1989.0,1125.3L1988.0,1125.3L1987.0,1125.4L1986.0,1125.4L1985.0,1125.5L1984.0,1125.5L1983.0,1125.6L1982.0,1125.6L1981.0,1125.7L1980.0,1125.7L1979.0,1125.8L1978.0,1125.8L1977.0,1125.9L1976.0,1126.0L1975.0,1126.0L1974.0,1126.1L1973.0,1126.2L1972.0,1126.2L1971.0,1126.3L1970.0,1126.4L1969.0,1126.5L1968.0,1126.5L1967.0,1126.6L1966.0,1126.7L1965.0,1126.8L1964.0,1126.9L1963.0,1127.0L1962.0,1127.1L1961.0,1127.3L1960.0,1127.4L1959.0,1127.5L1958.0,1127.6L1957.0,1127.7L1956.0,1127.8L1955.0,1128.0L1954.0,1128.1L1953.0,1128.2L1952.0,1128.4L1951.0,1128.5L1950.0,1128.7L1949.0,1128.8L1948.0,1129.0L1947.0,1129.1L1946.0,1129.3L1945.0,1129.5L1944.0,1129.7L1943.0,1129.9L1942.0,1130.1L1941.0,1130.3L1940.0,1130.5L1939.0,1130.7L1938.0,1131.0L1937.0,1131.2L1936.0,1131.5L1935.0,1131.7L1934.0,1132.0L1933.0,1132.3L1932.0,1132.5L1931.0,1132.8L1930.0,1133.1L1929.0,1133.4L1928.0,1133.7L1927.0,1134.0L1926.0,1134.3L1925.0,1134.6L1924.0,1134.9L1923.0,1135.2L1922.0,1135.5L1921.0,1135.9L1920.0,1136.2L1919.0,1136.6L1918.0,1137.0L1917.0,1137.4L1916.0,1137.8L1915.0,1138.2L1914.0,1138.6L1913.0,1139.0L1912.0,1139.4L1911.0,1139.9L1910.0,1140.3L1909.0,1140.8L1908.0,1141.2L1907.0,1141.7L1906.0,1142.1L1905.0,1142.6L1904.0,1143.1L1903.0,1143.6L1902.0,1144.1L1901.0,1144.5L1900.0,1145.0L1899.0,1145.5L1898.0,1146.1L1897.0,1146.6L1896.0,1147.1L1895.0,1147.6L1894.0,1148.2L1893.0,1148.7L1892.0,1149.3L1891.0,1149.9L1890.0,1150.4L1889.0,1151.0L1888.0,1151.7L1887.0,1152.3L1886.0,1152.9L1885.0,1153.6L1884.0,1154.2L1883.0,1154.9L1882.0,1155.6L1881.0,1156.3L1880.0,1157.0L1879.0,1157.8L1878.0,1158.5L1877.0,1159.3L1876.0,1160.1L1875.0,1160.9L1874.0,1161.7L1873.0,1162.5L1872.0,1163.4L1871.0,1164.2L1870.0,1165.1L1869.0,1166.0L1868.0,1166.9L1867.0,1167.8L1866.0,1168.8L1865.0,1169.7L1864.0,1170.6L1863.0,1171.6L1862.0,1172.6L1861.0,1173.5L1860.0,1174.5L1859.0,1175.5L1858.0,1176.5L1857.0,1177.5L1856.0,1178.5L1855.0,1179.5L1854.0,1180.5L1853.0,1181.5L1852.0,1182.5L1851.0,1183.5L1850.0,1184.5L1849.0,1185.5L1848.0,1186.5L1847.0,1187.5L1846.0,1188.5L1845.0,1189.5L1844.0,1190.5L1843.0,1191.5L1842.0,1192.5L1841.0,1193.5L1840.0,1194.5L1839.0,1195.5L1838.0,1196.5L1837.0,1197.5L1836.0,1198.5L1835.0,1199.4L1834.0,1200.4L1833.0,1201.3L1832.0,1202.2L1831.0,1203.1L1830.0,1204.0L1829.0,1204.9L1828.0,1205.7L1827.0,1206.5L1826.0,1207.3L1825.0,1208.1L1824.0,1208.9L1823.0,1209.6L1822.0,1210.3L1821.0,1211.0L1820.0,1211.7L1819.0,1212.3L1818.0,1213.0L1817.0,1213.6L1816.0,1214.2L1815.0,1214.8L1814.0,1215.3L1813.0,1215.9L1812.0,1216.4L1811.0,1217.0L1810.0,1217.5L1809.0,1218.0L1808.0,1218.5L1807.0,1218.9L1806.0,1219.4L1805.0,1219.8L1804.0,1220.3L1803.0,1220.7L1802.0,1221.1L1801.0,1221.5L1800.0,1221.9L1799.0,1222.3L1798.0,1222.7L1797.0,1223.0L1796.0,1223.3L1795.0,1223.7L1794.0,1224.0L1793.0,1224.3L1792.0,1224.6L1791.0,1224.8L1790.0,1225.1L1789.0,1225.3L1788.0,1225.6L1787.0,1225.8L1786.0,1226.1L1785.0,1226.3L1784.0,1226.5L1783.0,1226.8L1782.0,1227.0L1781.0,1227.2L1780.0,1227.5L1779.0,1227.7L1778.0,1227.9L1777.0,1228.2L1776.0,1228.4L1775.0,1228.7L1774.0,1228.9L1773.0,1229.1L1772.0,1229.4L1771.0,1229.6L1770.0,1229.8L1769.0,1230.1L1768.0,1230.3L1767.0,1230.5L1766.0,1230.7L1765.0,1230.9L1764.0,1231.2L1763.0,1231.4L1762.0,1231.6L1761.0,1231.8L1760.0,1232.0L1759.0,1232.2L1758.0,1232.4L1757.0,1232.7L1756.0,1232.9L1755.0,1233.1L1754.0,1233.3L1753.0,1233.6L1752.0,1233.8L1751.0,1234.0L1750.0,1234.3L1749.0,1234.5L1748.0,1234.7L1747.0,1235.0L1746.0,1235.2L1745.0,1235.5L1744.0,1235.8L1743.0,1236.0L1742.0,1236.3L1741.0,1236.6L1740.0,1236.9L1739.0,1237.2L1738.0,1237.5L1737.0,1237.8L1736.0,1238.2L1735.0,1238.5L1734.0,1238.8L1733.0,1239.2L1732.0,1239.5L1731.0,1239.8L1730.0,1240.1L1729.0,1240.4L1728.0,1240.7L1727.0,1240.9L1726.0,1241.2L1725.0,1241.4L1724.0,1241.7L1723.0,1241.9L1722.0,1242.2L1721.0,1242.4L1720.0,1242.6L1719.0,1242.9L1718.0,1243.1L1717.0,1243.3L1716.0,1243.5L1715.0,1243.8L1714.0,1244.0L1713.0,1244.2L1712.0,1244.5L1711.0,1244.7L1710.0,1244.9L1709.0,1245.2L1708.0,1245.4L1707.0,1245.6L1706.0,1245.9L1705.0,1246.1L1704.0,1246.3L1703.0,1246.6L1702.0,1246.8L1701.0,1247.0L1700.0,1247.3L1699.0,1247.5L1698.0,1247.7L1697.0,1247.9L1696.0,1248.2L1695.0,1248.4L1694.0,1248.6L1693.0,1248.8L1692.0,1249.0L1691.0,1249.2L1690.0,1249.5L1689.0,1249.7L1688.0,1249.9L1687.0,1250.1L1686.0,1250.3L1685.0,1250.5L1684.0,1250.7L1683.0,1250.9L1682.0,1251.1L1681.0,1251.3L1680.0,1251.4L1679.0,1251.6L1678.0,1251.8L1677.0,1252.0L1676.0,1252.2L1675.0,1252.4L1674.0,1252.5L1673.0,1252.7L1672.0,1252.9L1671.0,1253.0L1670.0,1253.2L1669.0,1253.4L1668.0,1253.5L1667.0,1253.7L1666.0,1253.9L1665.0,1254.0L1664.0,1254.2L1663.0,1254.4L1662.0,1254.5L1661.0,1254.7L1660.0,1254.9L1659.0,1255.1L1658.0,1255.3L1657.0,1255.5L1656.0,1255.7L1655.0,1255.9L1654.0,1256.1L1653.0,1256.3L1652.0,1256.5L1651.0,1256.7L1650.0,1256.9L1649.0,1257.2L1648.0,1257.4L1647.0,1257.6L1646.0,1257.9L1645.0,1258.1L1644.0,1258.4L1643.0,1258.6L1642.0,1258.9L1641.0,1259.1L1640.0,1259.4L1639.0,1259.7L1638.0,1259.9L1637.0,1260.2L1636.0,1260.5L1635.0,1260.8L1634.0,1261.1L1633.0,1261.5L1632.0,1261.8L1631.0,1262.1L1630.0,1262.5L1629.0,1262.8L1628.0,1263.2L1627.0,1263.6L1626.0,1264.0L1625.0,1264.4L1624.0,1264.9L1623.0,1265.3L1622.0,1265.8L1621.0,1266.2L1620.0,1266.7L1619.0,1267.2L1618.0,1267.8L1617.0,1268.3L1616.0,1268.8L1615.0,1269.4L1614.0,1270.0L1613.0,1270.6L1612.0,1271.2L1611.0,1271.9L1610.0,1272.6L1609.0,1273.3L1608.0,1274.0L1607.0,1274.7L1606.0,1275.5L1605.0,1276.2L1604.0,1277.0L1603.0,1277.9L1602.0,1278.7L1601.0,1279.6L1600.0,1280.4L1599.0,1281.4L1598.0,1282.3L1597.0,1283.2L1596.0,1284.2L1595.0,1285.2L1594.0,1286.2L1593.0,1287.2L1592.0,1288.3L1591.0,1289.4L1590.0,1290.5L1589.0,1291.6L1588.0,1292.8L1587.0,1294.0L1586.0,1295.2L1585.0,1296.5L1584.0,1297.8L1583.0,1299.1L1582.0,1300.5L1581.0,1301.9L1580.0,1303.4L1579.0,1304.9L1578.0,1306.5L1577.0,1308.1L1576.0,1309.7L1575.0,1311.3L1574.0,1313.0L1573.0,1314.7L1572.0,1316.4L1571.0,1318.1L1570.0,1319.9L1569.0,1321.6L1568.0,1323.4L1567.0,1325.3Z" fill="url(#dblue)" fill-opacity="0.9"/>
<path d="M1671.0,1252.4L1672.0,1252.3L1673.0,1252.1L1674.0,1251.9L1675.0,1251.7L1676.0,1251.5L1677.0,1251.4L1678.0,1251.2L1679.0,1251.0L1680.0,1250.8L1681.0,1250.6L1682.0,1250.4L1683.0,1250.2L1684.0,1250.0L1685.0,1249.8L1686.0,1249.6L1687.0,1249.4L1688.0,1249.2L1689.0,1248.9L1690.0,1248.7L1691.0,1248.5L1692.0,1248.3L1693.0,1248.1L1694.0,1247.9L1695.0,1247.6L1696.0,1247.4L1697.0,1247.2L1698.0,1246.9L1699.0,1246.7L1700.0,1246.5L1701.0,1246.2L1702.0,1246.0L1703.0,1245.8L1704.0,1245.5L1705.0,1245.3L1706.0,1245.0L1707.0,1244.8L1708.0,1244.5L1709.0,1244.3L1710.0,1244.0L1711.0,1243.8L1712.0,1243.6L1713.0,1243.3L1714.0,1243.1L1715.0,1242.8L1716.0,1242.6L1717.0,1242.4L1718.0,1242.1L1719.0,1241.9L1720.0,1241.7L1721.0,1241.4L1722.0,1241.2L1723.0,1240.9L1724.0,1240.7L1725.0,1240.4L1726.0,1240.1L1727.0,1239.9L1728.0,1239.6L1729.0,1239.3L1730.0,1239.0L1731.0,1238.7L1732.0,1238.3L1733.0,1238.0L1734.0,1237.7L1735.0,1237.3L1736.0,1237.0L1737.0,1236.7L1738.0,1236.3L1739.0,1236.0L1740.0,1235.7L1741.0,1235.3L1742.0,1235.0L1743.0,1234.7L1744.0,1234.5L1745.0,1234.2L1746.0,1233.9L1747.0,1233.6L1748.0,1233.4L1749.0,1233.1L1750.0,1232.8L1751.0,1232.6L1752.0,1232.3L1753.0,1232.1L1754.0,1231.8L1755.0,1231.6L1756.0,1231.3L1757.0,1231.1L1758.0,1230.9L1759.0,1230.6L1760.0,1230.4L1761.0,1230.2L1762.0,1229.9L1763.0,1229.7L1764.0,1229.4L1765.0,1229.2L1766.0,1228.9L1767.0,1228.7L1768.0,1228.4L1769.0,1228.2L1770.0,1227.9L1771.0,1227.7L1772.0,1227.4L1773.0,1227.1L1774.0,1226.8L1775.0,1226.6L1776.0,1226.3L1777.0,1226.0L1778.0,1225.7L1779.0,1225.5L1780.0,1225.2L1781.0,1224.9L1782.0,1224.6L1783.0,1224.3L1784.0,1224.0L1785.0,1223.7L1786.0,1223.4L1787.0,1223.1L1788.0,1222.8L1789.0,1222.5L1790.0,1222.2L1791.0,1221.8L1792.0,1221.5L1793.0,1221.1L1794.0,1220.7L1795.0,1220.3L1796.0,1219.8L1797.0,1219.4L1798.0,1218.9L1799.0,1218.4L1800.0,1217.9L1801.0,1217.4L1802.0,1216.8L1803.0,1216.2L1804.0,1215.6L1805.0,1215.0L1806.0,1214.4L1807.0,1213.7L1808.0,1213.0L1809.0,1212.3L1810.0,1211.5L1811.0,1210.8L1812.0,1210.0L1813.0,1209.1L1814.0,1208.3L1815.0,1207.4L1816.0,1206.4L1817.0,1205.5L1818.0,1204.5L1819.0,1203.4L1820.0,1202.3L1821.0,1201.2L1822.0,1200.0L1823.0,1198.8L1824.0,1197.6L1825.0,1196.3L1826.0,1194.9L1827.0,1193.5L1828.0,1192.0L1829.0,1190.5L1830.0,1189.0L1831.0,1187.4L1832.0,1185.7L1833.0,1184.0L1834.0,1182.3L1835.0,1180.5L1836.0,1178.6L1837.0,1176.7L1838.0,1174.8L1839.0,1172.8L1840.0,1170.8L1841.0,1168.7L1842.0,1166.6L1843.0,1164.5L1844.0,1162.3L1845.0,1160.1L1846.0,1157.9L1847.0,1155.7L1848.0,1153.4L1849.0,1151.1L1850.0,1148.7L1851.0,1146.4L1852.0,1144.0L1853.0,1141.5L1854.0,1139.1L1855.0,1136.7L1856.0,1134.2L1857.0,1131.7L1858.0,1129.2L1859.0,1126.7L1860.0,1124.2L1861.0,1121.7L1862.0,1119.1L1863.0,1116.6L1864.0,1114.2L1865.0,1111.7L1866.0,1109.2L1867.0,1106.8L1868.0,1104.4L1869.0,1102.0L1870.0,1099.7L1871.0,1097.4L1872.0,1095.1L1873.0,1092.9L1874.0,1090.8L1875.0,1088.7L1876.0,1086.7L1877.0,1084.7L1878.0,1082.9L1879.0,1081.1L1880.0,1079.3L1881.0,1077.7L1882.0,1076.2L1883.0,1074.7L1884.0,1073.4L1885.0,1072.1L1886.0,1071.0L1887.0,1069.9L1888.0,1069.0L1889.0,1068.1L1890.0,1067.4L1891.0,1066.8L1892.0,1066.2L1893.0,1065.8L1894.0,1065.5L1895.0,1065.3L1896.0,1065.2L1897.0,1065.2L1898.0,1065.3L1899.0,1065.4L1900.0,1065.7L1901.0,1066.1L1902.0,1066.5L1903.0,1067.0L1904.0,1067.5L1905.0,1068.2L1906.0,1068.9L1907.0,1069.6L1908.0,1070.4L1909.0,1071.3L1910.0,1072.2L1911.0,1073.2L1912.0,1074.1L1913.0,1075.2L1914.0,1076.2L1915.0,1077.3L1916.0,1078.4L1917.0,1079.5L1918.0,1080.7L1919.0,1081.8L1920.0,1083.0L1921.0,1084.2L1922.0,1085.4L1923.0,1086.6L1924.0,1087.8L1925.0,1088.9L1926.0,1090.1L1927.0,1091.3L1928.0,1092.5L1929.0,1093.6L1930.0,1094.7L1931.0,1095.8L1932.0,1096.9L1933.0,1098.0L1934.0,1099.0L1935.0,1100.0L1936.0,1101.0L1937.0,1102.0L1938.0,1102.9L1939.0,1103.8L1940.0,1104.7L1941.0,1105.6L1942.0,1106.4L1943.0,1107.2L1944.0,1108.0L1945.0,1108.8L1946.0,1109.5L1947.0,1110.2L1948.0,1110.9L1949.0,1111.6L1950.0,1112.2L1951.0,1112.8L1952.0,1113.4L1953.0,1114.0L1954.0,1114.5L1955.0,1115.0L1956.0,1115.5L1957.0,1115.9L1958.0,1116.4L1959.0,1116.8L1960.0,1117.1L1961.0,1117.5L1962.0,1117.8L1963.0,1118.2L1964.0,1118.5L1965.0,1118.8L1966.0,1119.0L1967.0,1119.3L1968.0,1119.5L1969.0,1119.7L1970.0,1119.9L1971.0,1120.1L1972.0,1120.3L1973.0,1120.5L1974.0,1120.7L1975.0,1120.8L1976.0,1121.0L1977.0,1121.1L1978.0,1121.2L1979.0,1121.3L1980.0,1121.4L1981.0,1121.5L1982.0,1121.6L1983.0,1121.7L1984.0,1121.8L1985.0,1121.9L1986.0,1121.9L1987.0,1122.0L1988.0,1122.0L1989.0,1122.1L1990.0,1122.1L1991.0,1122.2L1992.0,1122.2L1993.0,1122.3L1994.0,1122.3L1995.0,1122.3L1996.0,1122.3L1997.0,1122.4L1998.0,1122.4L1999.0,1122.4L2000.0,1122.4L2001.0,1122.4L2002.0,1122.4L2003.0,1122.4L2004.0,1122.4L2005.0,1122.4L2006.0,1122.4L2007.0,1122.4L2008.0,1122.4L2009.0,1122.4L2010.0,1122.4L2011.0,1122.4L2012.0,1122.4L2013.0,1122.3L2014.0,1122.3L2015.0,1122.3L2016.0,1122.3L2017.0,1122.3L2018.0,1122.2L2019.0,1122.2L2020.0,1122.2L2021.0,1122.2L2022.0,1122.1L2023.0,1122.1L2024.0,1122.1L2025.0,1122.0L2026.0,1122.0L2027.0,1121.9L2028.0,1121.9L2029.0,1121.8L2030.0,1121.8L2031.0,1121.7L2032.0,1121.7L2033.0,1121.6L2034.0,1121.6L2035.0,1121.6L2036.0,1121.5L2037.0,1121.5L2038.0,1121.4L2039.0,1121.4L2040.0,1121.4L2041.0,1121.3L2042.0,1121.3L2043.0,1121.3L2044.0,1121.3L2045.0,1121.2L2046.0,1121.2L2047.0,1121.2L2048.0,1121.2L2049.0,1121.1L2050.0,1121.1L2051.0,1121.1L2052.0,1121.1L2053.0,1121.0L2054.0,1121.0L2055.0,1121.0L2056.0,1120.9L2057.0,1120.9L2058.0,1120.9L2059.0,1120.8L2060.0,1120.8L2061.0,1120.8L2062.0,1120.7L2063.0,1120.7L2064.0,1120.6L2065.0,1120.6L2066.0,1120.6L2067.0,1120.5L2068.0,1120.5L2069.0,1120.4L2070.0,1120.4L2071.0,1120.3L2072.0,1120.3L2073.0,1120.2L2074.0,1120.2L2075.0,1120.1L2076.0,1120.1L2077.0,1120.0L2078.0,1120.0L2079.0,1119.9L2080.0,1119.9L2081.0,1119.8L2082.0,1119.8L2083.0,1119.7L2084.0,1119.7L2085.0,1119.6L2086.0,1119.6L2087.0,1119.5L2088.0,1119.5L2089.0,1119.4L2090.0,1119.4L2091.0,1119.4L2092.0,1119.3L2093.0,1119.3L2094.0,1119.2L2095.0,1119.2L2096.0,1119.2L2097.0,1119.1L2098.0,1119.1L2099.0,1119.0L2100.0,1119.0L2101.0,1119.0L2102.0,1118.9L2103.0,1118.9L2104.0,1118.9L2105.0,1118.8L2106.0,1118.8L2107.0,1118.8L2108.0,1118.8L2109.0,1118.8L2110.0,1118.7L2111.0,1118.7L2111.0,1119.3L2110.0,1119.3L2109.0,1119.4L2108.0,1119.4L2107.0,1119.4L2106.0,1119.4L2105.0,1119.5L2104.0,1119.5L2103.0,1119.5L2102.0,1119.6L2101.0,1119.6L2100.0,1119.7L2099.0,1119.7L2098.0,1119.8L2097.0,1119.8L2096.0,1119.8L2095.0,1119.9L2094.0,1119.9L2093.0,1120.0L2092.0,1120.0L2091.0,1120.1L2090.0,1120.1L2089.0,1120.2L2088.0,1120.2L2087.0,1120.3L2086.0,1120.3L2085.0,1120.4L2084.0,1120.5L2083.0,1120.5L2082.0,1120.6L2081.0,1120.6L2080.0,1120.7L2079.0,1120.8L2078.0,1120.8L2077.0,1120.9L2076.0,1120.9L2075.0,1121.0L2074.0,1121.1L2073.0,1121.1L2072.0,1121.2L2071.0,1121.2L2070.0,1121.3L2069.0,1121.3L2068.0,1121.4L2067.0,1121.4L2066.0,1121.5L2065.0,1121.5L2064.0,1121.6L2063.0,1121.7L2062.0,1121.7L2061.0,1121.8L2060.0,1121.8L2059.0,1121.9L2058.0,1121.9L2057.0,1121.9L2056.0,1122.0L2055.0,1122.0L2054.0,1122.1L2053.0,1122.1L2052.0,1122.2L2051.0,1122.2L2050.0,1122.2L2049.0,1122.3L2048.0,1122.3L2047.0,1122.4L2046.0,1122.4L2045.0,1122.4L2044.0,1122.5L2043.0,1122.5L2042.0,1122.5L2041.0,1122.6L2040.0,1122.6L2039.0,1122.7L2038.0,1122.7L2037.0,1122.8L2036.0,1122.8L2035.0,1122.9L2034.0,1123.0L2033.0,1123.0L2032.0,1123.1L2031.0,1123.2L2030.0,1123.2L2029.0,1123.3L2028.0,1123.4L2027.0,1123.4L2026.0,1123.5L2025.0,1123.6L2024.0,1123.6L2023.0,1123.7L2022.0,1123.7L2021.0,1123.8L2020.0,1123.9L2019.0,1123.9L2018.0,1124.0L2017.0,1124.0L2016.0,1124.1L2015.0,1124.1L2014.0,1124.2L2013.0,1124.2L2012.0,1124.3L2011.0,1124.3L2010.0,1124.4L2009.0,1124.4L2008.0,1124.4L2007.0,1124.5L2006.0,1124.5L2005.0,1124.6L2004.0,1124.6L2003.0,1124.7L2002.0,1124.7L2001.0,1124.8L2000.0,1124.8L1999.0,1124.8L1998.0,1124.9L1997.0,1124.9L1996.0,1125.0L1995.0,1125.0L1994.0,1125.1L1993.0,1125.1L1992.0,1125.1L1991.0,1125.2L1990.0,1125.2L1989.0,1125.3L1988.0,1125.3L1987.0,1125.4L1986.0,1125.4L1985.0,1125.5L1984.0,1125.5L1983.0,1125.6L1982.0,1125.6L1981.0,1125.7L1980.0,1125.7L1979.0,1125.8L1978.0,1125.8L1977.0,1125.9L1976.0,1126.0L1975.0,1126.0L1974.0,1126.1L1973.0,1126.2L1972.0,1126.2L1971.0,1126.3L1970.0,1126.4L1969.0,1126.5L1968.0,1126.5L1967.0,1126.6L1966.0,1126.7L1965.0,1126.8L1964.0,1126.9L1963.0,1127.0L1962.0,1127.1L1961.0,1127.3L1960.0,1127.4L1959.0,1127.5L1958.0,1127.6L1957.0,1127.7L1956.0,1127.8L1955.0,1128.0L1954.0,1128.1L1953.0,1128.2L1952.0,1128.4L1951.0,1128.5L1950.0,1128.7L1949.0,1128.8L1948.0,1129.0L1947.0,1129.1L1946.0,1129.3L1945.0,1129.5L1944.0,1129.7L1943.0,1129.9L1942.0,1130.1L1941.0,1130.3L1940.0,1130.5L1939.0,1130.7L1938.0,1131.0L1937.0,1131.2L1936.0,1131.5L1935.0,1131.7L1934.0,1132.0L1933.0,1132.3L1932.0,1132.5L1931.0,1132.8L1930.0,1133.1L1929.0,1133.4L1928.0,1133.7L1927.0,1134.0L1926.0,1134.3L1925.0,1134.6L1924.0,1134.9L1923.0,1135.2L1922.0,1135.5L1921.0,1135.9L1920.0,1136.2L1919.0,1136.6L1918.0,1137.0L1917.0,1137.4L1916.0,1137.8L1915.0,1138.2L1914.0,1138.6L1913.0,1139.0L1912.0,1139.4L1911.0,1139.9L1910.0,1140.3L1909.0,1140.8L1908.0,1141.2L1907.0,1141.7L1906.0,1142.1L1905.0,1142.6L1904.0,1143.1L1903.0,1143.6L1902.0,1144.1L1901.0,1144.5L1900.0,1145.0L1899.0,1145.5L1898.0,1146.1L1897.0,1146.6L1896.0,1147.1L1895.0,1147.6L1894.0,1148.2L1893.0,1148.7L1892.0,1149.3L1891.0,1149.9L1890.0,1150.4L1889.0,1151.0L1888.0,1151.7L1887.0,1152.3L1886.0,1152.9L1885.0,1153.6L1884.0,1154.2L1883.0,1154.9L1882.0,1155.6L1881.0,1156.3L1880.0,1157.0L1879.0,1157.8L1878.0,1158.5L1877.0,1159.3L1876.0,1160.1L1875.0,1160.9L1874.0,1161.7L1873.0,1162.5L1872.0,1163.4L1871.0,1164.2L1870.0,1165.1L1869.0,1166.0L1868.0,1166.9L1867.0,1167.8L1866.0,1168.8L1865.0,1169.7L1864.0,1170.6L1863.0,1171.6L1862.0,1172.6L1861.0,1173.5L1860.0,1174.5L1859.0,1175.5L1858.0,1176.5L1857.0,1177.5L1856.0,1178.5L1855.0,1179.5L1854.0,1180.5L1853.0,1181.5L1852.0,1182.5L1851.0,1183.5L1850.0,1184.5L1849.0,1185.5L1848.0,1186.5L1847.0,1187.5L1846.0,1188.5L1845.0,1189.5L1844.0,1190.5L1843.0,1191.5L1842.0,1192.5L1841.0,1193.5L1840.0,1194.5L1839.0,1195.5L1838.0,1196.5L1837.0,1197.5L1836.0,1198.5L1835.0,1199.4L1834.0,1200.4L1833.0,1201.3L1832.0,1202.2L1831.0,1203.1L1830.0,1204.0L1829.0,1204.9L1828.0,1205.7L1827.0,1206.5L1826.0,1207.3L1825.0,1208.1L1824.0,1208.9L1823.0,1209.6L1822.0,1210.3L1821.0,1211.0L1820.0,1211.7L1819.0,1212.3L1818.0,1213.0L1817.0,1213.6L1816.0,1214.2L1815.0,1214.8L1814.0,1215.3L1813.0,1215.9L1812.0,1216.4L1811.0,1217.0L1810.0,1217.5L1809.0,1218.0L1808.0,1218.5L1807.0,1218.9L1806.0,1219.4L1805.0,1219.8L1804.0,1220.3L1803.0,1220.7L1802.0,1221.1L1801.0,1221.5L1800.0,1221.9L1799.0,1222.3L1798.0,1222.7L1797.0,1223.0L1796.0,1223.3L1795.0,1223.7L1794.0,1224.0L1793.0,1224.3L1792.0,1224.6L1791.0,1224.8L1790.0,1225.1L1789.0,1225.3L1788.0,1225.6L1787.0,1225.8L1786.0,1226.1L1785.0,1226.3L1784.0,1226.5L1783.0,1226.8L1782.0,1227.0L1781.0,1227.2L1780.0,1227.5L1779.0,1227.7L1778.0,1227.9L1777.0,1228.2L1776.0,1228.4L1775.0,1228.7L1774.0,1228.9L1773.0,1229.1L1772.0,1229.4L1771.0,1229.6L1770.0,1229.8L1769.0,1230.1L1768.0,1230.3L1767.0,1230.5L1766.0,1230.7L1765.0,1230.9L1764.0,1231.2L1763.0,1231.4L1762.0,1231.6L1761.0,1231.8L1760.0,1232.0L1759.0,1232.2L1758.0,1232.4L1757.0,1232.7L1756.0,1232.9L1755.0,1233.1L1754.0,1233.3L1753.0,1233.6L1752.0,1233.8L1751.0,1234.0L1750.0,1234.3L1749.0,1234.5L1748.0,1234.7L1747.0,1235.0L1746.0,1235.2L1745.0,1235.5L1744.0,1235.8L1743.0,1236.0L1742.0,1236.3L1741.0,1236.6L1740.0,1236.9L1739.0,1237.2L1738.0,1237.5L1737.0,1237.8L1736.0,1238.2L1735.0,1238.5L1734.0,1238.8L1733.0,1239.2L1732.0,1239.5L1731.0,1239.8L1730.0,1240.1L1729.0,1240.4L1728.0,1240.7L1727.0,1240.9L1726.0,1241.2L1725.0,1241.4L1724.0,1241.7L1723.0,1241.9L1722.0,1242.2L1721.0,1242.4L1720.0,1242.6L1719.0,1242.9L1718.0,1243.1L1717.0,1243.3L1716.0,1243.5L1715.0,1243.8L1714.0,1244.0L1713.0,1244.2L1712.0,1244.5L1711.0,1244.7L1710.0,1244.9L1709.0,1245.2L1708.0,1245.4L1707.0,1245.6L1706.0,1245.9L1705.0,1246.1L1704.0,1246.3L1703.0,1246.6L1702.0,1246.8L1701.0,1247.0L1700.0,1247.3L1699.0,1247.5L1698.0,1247.7L1697.0,1247.9L1696.0,1248.2L1695.0,1248.4L1694.0,1248.6L1693.0,1248.8L1692.0,1249.0L1691.0,1249.2L1690.0,1249.5L1689.0,1249.7L1688.0,1249.9L1687.0,1250.1L1686.0,1250.3L1685.0,1250.5L1684.0,1250.7L1683.0,1250.9L1682.0,1251.1L1681.0,1251.3L1680.0,1251.4L1679.0,1251.6L1678.0,1251.8L1677.0,1252.0L1676.0,1252.2L1675.0,1252.4L1674.0,1252.5L1673.0,1252.7L1672.0,1252.9L1671.0,1253.0Z" fill="url(#dgreen)" fill-opacity="0.82"/>
<path d="M1966.0,1126.1L1967.0,1126.0L1968.0,1125.9L1969.0,1125.8L1970.0,1125.7L1971.0,1125.6L1972.0,1125.5L1973.0,1125.4L1974.0,1125.3L1975.0,1125.2L1976.0,1125.1L1977.0,1125.0L1978.0,1124.9L1979.0,1124.8L1980.0,1124.7L1981.0,1124.6L1982.0,1124.5L1983.0,1124.4L1984.0,1124.3L1985.0,1124.2L1986.0,1124.1L1987.0,1123.9L1988.0,1123.8L1989.0,1123.7L1990.0,1123.6L1991.0,1123.4L1992.0,1123.3L1993.0,1123.2L1994.0,1123.0L1995.0,1122.8L1996.0,1122.7L1997.0,1122.5L1998.0,1122.3L1999.0,1122.1L2000.0,1121.9L2001.0,1121.7L2002.0,1121.5L2003.0,1121.3L2004.0,1121.1L2005.0,1120.9L2006.0,1120.6L2007.0,1120.3L2008.0,1120.1L2009.0,1119.8L2010.0,1119.5L2011.0,1119.2L2012.0,1118.9L2013.0,1118.6L2014.0,1118.3L2015.0,1118.0L2016.0,1117.6L2017.0,1117.3L2018.0,1116.9L2019.0,1116.6L2020.0,1116.2L2021.0,1115.8L2022.0,1115.4L2023.0,1115.0L2024.0,1114.6L2025.0,1114.2L2026.0,1113.8L2027.0,1113.4L2028.0,1113.0L2029.0,1112.6L2030.0,1112.2L2031.0,1111.7L2032.0,1111.3L2033.0,1110.9L2034.0,1110.5L2035.0,1110.1L2036.0,1109.7L2037.0,1109.4L2038.0,1109.0L2039.0,1108.7L2040.0,1108.4L2041.0,1108.1L2042.0,1107.8L2043.0,1107.5L2044.0,1107.3L2045.0,1107.1L2046.0,1106.9L2047.0,1106.7L2048.0,1106.5L2049.0,1106.4L2050.0,1106.3L2051.0,1106.2L2052.0,1106.2L2053.0,1106.1L2054.0,1106.1L2055.0,1106.2L2056.0,1106.2L2057.0,1106.3L2058.0,1106.4L2059.0,1106.5L2060.0,1106.6L2061.0,1106.8L2062.0,1106.9L2063.0,1107.1L2064.0,1107.3L2065.0,1107.6L2066.0,1107.8L2067.0,1108.0L2068.0,1108.3L2069.0,1108.6L2070.0,1108.8L2071.0,1109.1L2072.0,1109.4L2073.0,1109.7L2074.0,1110.0L2075.0,1110.3L2076.0,1110.5L2077.0,1110.8L2078.0,1111.1L2079.0,1111.4L2080.0,1111.7L2081.0,1112.0L2082.0,1112.2L2083.0,1112.5L2084.0,1112.8L2085.0,1113.0L2086.0,1113.3L2087.0,1113.6L2088.0,1113.8L2089.0,1114.0L2090.0,1114.3L2091.0,1114.5L2092.0,1114.7L2093.0,1114.9L2094.0,1115.1L2095.0,1115.3L2096.0,1115.5L2097.0,1115.7L2098.0,1115.8L2099.0,1116.0L2100.0,1116.1L2101.0,1116.3L2102.0,1116.4L2103.0,1116.5L2104.0,1116.7L2105.0,1116.8L2106.0,1116.9L2107.0,1117.0L2108.0,1117.1L2109.0,1117.2L2110.0,1117.3L2111.0,1117.4L2112.0,1117.5L2113.0,1117.5L2114.0,1117.6L2115.0,1117.7L2116.0,1117.7L2117.0,1117.8L2118.0,1117.9L2119.0,1117.9L2120.0,1118.0L2121.0,1118.0L2122.0,1118.1L2123.0,1118.1L2124.0,1118.1L2125.0,1118.2L2126.0,1118.2L2127.0,1118.2L2128.0,1118.3L2129.0,1118.3L2130.0,1118.3L2131.0,1118.3L2132.0,1118.3L2133.0,1118.4L2134.0,1118.4L2135.0,1118.4L2136.0,1118.4L2137.0,1118.4L2138.0,1118.4L2138.0,1119.0L2137.0,1119.1L2136.0,1119.1L2135.0,1119.1L2134.0,1119.1L2133.0,1119.1L2132.0,1119.1L2131.0,1119.1L2130.0,1119.1L2129.0,1119.1L2128.0,1119.1L2127.0,1119.1L2126.0,1119.1L2125.0,1119.1L2124.0,1119.2L2123.0,1119.2L2122.0,1119.2L2121.0,1119.2L2120.0,1119.2L2119.0,1119.2L2118.0,1119.2L2117.0,1119.2L2116.0,1119.2L2115.0,1119.3L2114.0,1119.3L2113.0,1119.3L2112.0,1119.3L2111.0,1119.3L2110.0,1119.3L2109.0,1119.4L2108.0,1119.4L2107.0,1119.4L2106.0,1119.4L2105.0,1119.5L2104.0,1119.5L2103.0,1119.5L2102.0,1119.6L2101.0,1119.6L2100.0,1119.7L2099.0,1119.7L2098.0,1119.8L2097.0,1119.8L2096.0,1119.8L2095.0,1119.9L2094.0,1119.9L2093.0,1120.0L2092.0,1120.0L2091.0,1120.1L2090.0,1120.1L2089.0,1120.2L2088.0,1120.2L2087.0,1120.3L2086.0,1120.3L2085.0,1120.4L2084.0,1120.5L2083.0,1120.5L2082.0,1120.6L2081.0,1120.6L2080.0,1120.7L2079.0,1120.8L2078.0,1120.8L2077.0,1120.9L2076.0,1120.9L2075.0,1121.0L2074.0,1121.1L2073.0,1121.1L2072.0,1121.2L2071.0,1121.2L2070.0,1121.3L2069.0,1121.3L2068.0,1121.4L2067.0,1121.4L2066.0,1121.5L2065.0,1121.5L2064.0,1121.6L2063.0,1121.7L2062.0,1121.7L2061.0,1121.8L2060.0,1121.8L2059.0,1121.9L2058.0,1121.9L2057.0,1121.9L2056.0,1122.0L2055.0,1122.0L2054.0,1122.1L2053.0,1122.1L2052.0,1122.2L2051.0,1122.2L2050.0,1122.2L2049.0,1122.3L2048.0,1122.3L2047.0,1122.4L2046.0,1122.4L2045.0,1122.4L2044.0,1122.5L2043.0,1122.5L2042.0,1122.5L2041.0,1122.6L2040.0,1122.6L2039.0,1122.7L2038.0,1122.7L2037.0,1122.8L2036.0,1122.8L2035.0,1122.9L2034.0,1123.0L2033.0,1123.0L2032.0,1123.1L2031.0,1123.2L2030.0,1123.2L2029.0,1123.3L2028.0,1123.4L2027.0,1123.4L2026.0,1123.5L2025.0,1123.6L2024.0,1123.6L2023.0,1123.7L2022.0,1123.7L2021.0,1123.8L2020.0,1123.9L2019.0,1123.9L2018.0,1124.0L2017.0,1124.0L2016.0,1124.1L2015.0,1124.1L2014.0,1124.2L2013.0,1124.2L2012.0,1124.3L2011.0,1124.3L2010.0,1124.4L2009.0,1124.4L2008.0,1124.4L2007.0,1124.5L2006.0,1124.5L2005.0,1124.6L2004.0,1124.6L2003.0,1124.7L2002.0,1124.7L2001.0,1124.8L2000.0,1124.8L1999.0,1124.8L1998.0,1124.9L1997.0,1124.9L1996.0,1125.0L1995.0,1125.0L1994.0,1125.1L1993.0,1125.1L1992.0,1125.1L1991.0,1125.2L1990.0,1125.2L1989.0,1125.3L1988.0,1125.3L1987.0,1125.4L1986.0,1125.4L1985.0,1125.5L1984.0,1125.5L1983.0,1125.6L1982.0,1125.6L1981.0,1125.7L1980.0,1125.7L1979.0,1125.8L1978.0,1125.8L1977.0,1125.9L1976.0,1126.0L1975.0,1126.0L1974.0,1126.1L1973.0,1126.2L1972.0,1126.2L1971.0,1126.3L1970.0,1126.4L1969.0,1126.5L1968.0,1126.5L1967.0,1126.6L1966.0,1126.7Z" fill="url(#dyellow)" fill-opacity="1.0"/>
<path d="M1281.0,1467.3L1284.0,1467.3L1287.0,1467.3L1290.0,1467.3L1293.0,1467.3L1296.0,1467.3L1299.0,1467.3L1302.0,1467.3L1305.0,1467.3L1308.0,1467.3L1311.0,1467.3L1314.0,1467.3L1317.0,1467.3L1320.0,1467.3L1323.0,1467.3L1326.0,1467.3L1329.0,1467.3L1332.0,1467.3L1335.0,1467.3L1338.0,1467.3L1341.0,1467.3L1344.0,1467.3L1347.0,1467.3L1350.0,1467.3L1353.0,1467.3L1356.0,1467.3L1359.0,1467.3L1362.0,1467.3L1365.0,1467.3L1368.0,1467.3L1371.0,1467.3L1374.0,1467.3L1377.0,1467.3L1380.0,1467.3L1383.0,1467.3L1386.0,1467.3L1389.0,1467.3L1392.0,1467.3L1395.0,1467.3L1398.0,1467.3L1401.0,1467.3L1404.0,1467.3L1407.0,1467.3L1410.0,1467.3L1413.0,1467.3L1416.0,1467.3L1419.0,1467.3L1422.0,1467.3L1425.0,1467.3L1428.0,1467.3L1431.0,1467.3L1434.0,1467.3L1437.0,1467.3L1440.0,1467.3L1443.0,1467.3L1446.0,1467.3L1449.0,1467.3L1452.0,1467.3L1455.0,1467.3L1458.0,1467.2L1461.0,1467.1L1464.0,1466.9L1467.0,1466.8L1470.0,1466.5L1473.0,1466.2L1476.0,1465.8L1479.0,1465.4L1482.0,1464.8L1485.0,1464.0L1488.0,1463.1L1491.0,1462.0L1494.0,1460.7L1497.0,1459.1L1500.0,1457.1L1503.0,1454.7L1506.0,1451.8L1509.0,1448.4L1512.0,1444.4L1515.0,1439.9L1518.0,1434.9L1521.0,1429.4L1524.0,1423.5L1527.0,1417.2L1530.0,1410.4L1533.0,1403.3L1536.0,1396.1L1539.0,1388.8L1542.0,1381.6L1545.0,1374.3L1548.0,1367.1L1551.0,1360.0L1554.0,1352.9L1557.0,1346.0L1560.0,1339.4L1563.0,1333.1L1566.0,1327.2L1569.0,1321.6L1572.0,1316.4L1575.0,1311.3L1578.0,1306.5L1581.0,1301.9L1584.0,1297.8L1587.0,1294.0L1590.0,1290.5L1593.0,1287.2L1596.0,1284.2L1599.0,1281.4L1602.0,1278.7L1605.0,1276.2L1608.0,1274.0L1611.0,1271.9L1614.0,1270.0L1617.0,1268.3L1620.0,1266.7L1623.0,1265.3L1626.0,1264.0L1629.0,1262.8L1632.0,1261.8L1635.0,1260.8L1638.0,1259.9L1641.0,1259.1L1644.0,1258.4L1647.0,1257.6L1650.0,1256.9L1653.0,1256.3L1656.0,1255.7L1659.0,1255.1L1662.0,1254.5L1665.0,1254.0L1668.0,1253.5L1671.0,1253.0L1674.0,1252.5L1677.0,1252.0L1680.0,1251.4L1683.0,1250.9L1686.0,1250.3L1689.0,1249.7L1692.0,1249.0L1695.0,1248.4L1698.0,1247.7L1701.0,1247.0L1704.0,1246.3L1707.0,1245.6L1710.0,1244.9L1713.0,1244.2L1716.0,1243.5L1719.0,1242.9L1722.0,1242.2L1725.0,1241.4L1728.0,1240.7L1731.0,1239.8L1734.0,1238.8L1737.0,1237.8L1740.0,1236.9L1743.0,1236.0L1746.0,1235.2L1749.0,1234.5L1752.0,1233.8L1755.0,1233.1L1758.0,1232.4L1761.0,1231.8L1764.0,1231.2L1767.0,1230.5L1770.0,1229.8L1773.0,1229.1L1776.0,1228.4L1779.0,1227.7L1782.0,1227.0L1785.0,1226.3L1788.0,1225.6L1791.0,1224.8L1794.0,1224.0L1797.0,1223.0L1800.0,1221.9L1803.0,1220.7L1806.0,1219.4L1809.0,1218.0L1812.0,1216.4L1815.0,1214.8L1818.0,1213.0L1821.0,1211.0L1824.0,1208.9L1827.0,1206.5L1830.0,1204.0L1833.0,1201.3L1836.0,1198.5L1839.0,1195.5L1842.0,1192.5L1845.0,1189.5L1848.0,1186.5L1851.0,1183.5L1854.0,1180.5L1857.0,1177.5L1860.0,1174.5L1863.0,1171.6L1866.0,1168.8L1869.0,1166.0L1872.0,1163.4L1875.0,1160.9L1878.0,1158.5L1881.0,1156.3L1884.0,1154.2L1887.0,1152.3L1890.0,1150.4L1893.0,1148.7L1896.0,1147.1L1899.0,1145.5L1902.0,1144.1L1905.0,1142.6L1908.0,1141.2L1911.0,1139.9L1914.0,1138.6L1917.0,1137.4L1920.0,1136.2L1923.0,1135.2L1926.0,1134.3L1929.0,1133.4L1932.0,1132.5L1935.0,1131.7L1938.0,1131.0L1941.0,1130.3L1944.0,1129.7L1947.0,1129.1L1950.0,1128.7L1953.0,1128.2L1956.0,1127.8L1959.0,1127.5L1962.0,1127.1L1965.0,1126.8L1968.0,1126.5L1971.0,1126.3L1974.0,1126.1L1977.0,1125.9L1980.0,1125.7L1983.0,1125.6L1986.0,1125.4L1989.0,1125.3L1992.0,1125.1L1995.0,1125.0L1998.0,1124.9L2001.0,1124.8L2004.0,1124.6L2007.0,1124.5L2010.0,1124.4L2013.0,1124.2L2016.0,1124.1L2019.0,1123.9L2022.0,1123.7L2025.0,1123.6L2028.0,1123.4L2031.0,1123.2L2034.0,1123.0L2037.0,1122.8L2040.0,1122.6L2043.0,1122.5L2046.0,1122.4L2049.0,1122.3L2052.0,1122.2L2055.0,1122.0L2058.0,1121.9L2061.0,1121.8L2064.0,1121.6L2067.0,1121.4L2070.0,1121.3L2073.0,1121.1L2076.0,1120.9L2079.0,1120.8L2082.0,1120.6L2085.0,1120.4L2088.0,1120.2L2091.0,1120.1L2094.0,1119.9L2097.0,1119.8L2100.0,1119.7L2103.0,1119.5L2106.0,1119.4L2109.0,1119.4L2112.0,1119.3L2115.0,1119.3L2118.0,1119.2L2121.0,1119.2L2124.0,1119.2L2127.0,1119.1L2130.0,1119.1L2133.0,1119.1L2136.0,1119.1L2139.0,1119.0L2142.0,1119.0L2145.0,1119.0L2148.0,1119.0L2151.0,1119.0L2154.0,1119.0L2157.0,1119.0L2160.0,1119.0L2163.0,1119.1L2166.0,1119.1L2169.0,1119.2L2172.0,1119.2L2175.0,1119.3L2178.0,1119.3L2181.0,1119.4L2184.0,1119.5L2187.0,1119.5L2190.0,1119.6L2193.0,1119.6L2196.0,1119.6L2199.0,1119.7L2202.0,1119.7L2205.0,1119.7" fill="none" stroke="#c4c4c4" stroke-width="3.4" stroke-linecap="round"/>
<g fill="none" stroke="#b0b0b0" stroke-width="1.0"><circle cx="1281.5" cy="1462.8" r="4.6"/><circle cx="1283.8" cy="1464.9" r="4.6"/><circle cx="1286.1" cy="1463.1" r="4.6"/><circle cx="1288.5" cy="1463.1" r="4.6"/><circle cx="1290.8" cy="1461.6" r="4.6"/><circle cx="1293.1" cy="1463.6" r="4.6"/><circle cx="1295.4" cy="1467.2" r="4.6"/><circle cx="1297.7" cy="1465.6" r="4.6"/><circle cx="1300.1" cy="1467.3" r="4.6"/><circle cx="1302.4" cy="1465.4" r="4.6"/><circle cx="1304.7" cy="1466.0" r="4.6"/><circle cx="1307.0" cy="1465.6" r="4.6"/><circle cx="1309.3" cy="1460.9" r="4.6"/><circle cx="1311.7" cy="1467.6" r="4.6"/><circle cx="1314.0" cy="1466.8" r="4.6"/><circle cx="1316.3" cy="1466.9" r="4.6"/><circle cx="1318.6" cy="1461.4" r="4.6"/><circle cx="1320.9" cy="1461.3" r="4.6"/><circle cx="1323.3" cy="1463.7" r="4.6"/><circle cx="1325.6" cy="1464.9" r="4.6"/><circle cx="1327.9" cy="1467.0" r="4.6"/><circle cx="1330.2" cy="1466.2" r="4.6"/><circle cx="1332.5" cy="1467.8" r="4.6"/><circle cx="1334.9" cy="1464.8" r="4.6"/><circle cx="1337.2" cy="1467.4" r="4.6"/><circle cx="1339.5" cy="1467.6" r="4.6"/><circle cx="1341.8" cy="1465.0" r="4.6"/><circle cx="1344.1" cy="1471.2" r="4.6"/><circle cx="1346.5" cy="1468.2" r="4.6"/><circle cx="1348.8" cy="1469.9" r="4.6"/><circle cx="1351.1" cy="1465.2" r="4.6"/><circle cx="1353.4" cy="1464.7" r="4.6"/><circle cx="1355.7" cy="1465.6" r="4.6"/><circle cx="1358.1" cy="1466.0" r="4.6"/><circle cx="1360.4" cy="1467.6" r="4.6"/><circle cx="1362.7" cy="1466.3" r="4.6"/><circle cx="1365.0" cy="1464.1" r="4.6"/><circle cx="1367.3" cy="1462.9" r="4.6"/><circle cx="1369.7" cy="1464.2" r="4.6"/><circle cx="1372.0" cy="1468.8" r="4.6"/><circle cx="1374.3" cy="1463.6" r="4.6"/><circle cx="1376.6" cy="1466.5" r="4.6"/><circle cx="1378.9" cy="1467.1" r="4.6"/><circle cx="1381.3" cy="1462.2" r="4.6"/><circle cx="1383.6" cy="1466.3" r="4.6"/><circle cx="1385.9" cy="1469.6" r="4.6"/><circle cx="1388.2" cy="1461.1" r="4.6"/><circle cx="1390.5" cy="1465.5" r="4.6"/><circle cx="1392.9" cy="1465.7" r="4.6"/><circle cx="1395.2" cy="1463.5" r="4.6"/><circle cx="1397.5" cy="1466.5" r="4.6"/><circle cx="1399.8" cy="1464.6" r="4.6"/><circle cx="1402.1" cy="1460.9" r="4.6"/><circle cx="1404.5" cy="1467.0" r="4.6"/><circle cx="1406.8" cy="1466.7" r="4.6"/><circle cx="1409.1" cy="1467.6" r="4.6"/><circle cx="1411.4" cy="1469.0" r="4.6"/><circle cx="1413.7" cy="1466.3" r="4.6"/><circle cx="1416.1" cy="1465.8" r="4.6"/><circle cx="1418.4" cy="1462.2" r="4.6"/><circle cx="1420.7" cy="1467.3" r="4.6"/><circle cx="1423.0" cy="1464.2" r="4.6"/><circle cx="1425.3" cy="1464.6" r="4.6"/><circle cx="1427.7" cy="1462.1" r="4.6"/><circle cx="1430.0" cy="1462.3" r="4.6"/><circle cx="1432.3" cy="1463.3" r="4.6"/><circle cx="1434.6" cy="1468.1" r="4.6"/><circle cx="1436.9" cy="1459.4" r="4.6"/><circle cx="1439.3" cy="1460.9" r="4.6"/><circle cx="1441.6" cy="1465.3" r="4.6"/><circle cx="1443.9" cy="1468.4" r="4.6"/><circle cx="1446.2" cy="1465.9" r="4.6"/><circle cx="1448.5" cy="1458.5" r="4.6"/><circle cx="1450.9" cy="1456.2" r="4.6"/><circle cx="1453.2" cy="1463.2" r="4.6"/><circle cx="1455.5" cy="1459.7" r="4.6"/><circle cx="1457.8" cy="1457.8" r="4.6"/><circle cx="1460.1" cy="1462.0" r="4.6"/><circle cx="1462.5" cy="1460.0" r="4.6"/><circle cx="1464.8" cy="1455.2" r="4.6"/><circle cx="1467.1" cy="1452.6" r="4.6"/><circle cx="1469.4" cy="1449.6" r="4.6"/><circle cx="1471.7" cy="1448.2" r="4.6"/><circle cx="1474.1" cy="1440.5" r="4.6"/><circle cx="1476.4" cy="1434.0" r="4.6"/><circle cx="1478.7" cy="1427.3" r="4.6"/><circle cx="1481.0" cy="1413.3" r="4.6"/><circle cx="1483.3" cy="1411.5" r="4.6"/><circle cx="1485.7" cy="1400.0" r="4.6"/><circle cx="1488.0" cy="1386.8" r="4.6"/><circle cx="1490.3" cy="1366.4" r="4.6"/><circle cx="1492.6" cy="1354.3" r="4.6"/><circle cx="1494.9" cy="1340.5" r="4.6"/><circle cx="1497.3" cy="1314.0" r="4.6"/><circle cx="1499.6" cy="1296.6" r="4.6"/><circle cx="1501.9" cy="1276.3" r="4.6"/><circle cx="1504.2" cy="1245.1" r="4.6"/><circle cx="1506.5" cy="1226.3" r="4.6"/><circle cx="1508.9" cy="1196.1" r="4.6"/><circle cx="1511.2" cy="1166.0" r="4.6"/><circle cx="1513.5" cy="1138.6" r="4.6"/><circle cx="1515.8" cy="1111.1" r="4.6"/><circle cx="1518.1" cy="1082.6" r="4.6"/><circle cx="1520.5" cy="1060.4" r="4.6"/><circle cx="1522.8" cy="1033.7" r="4.6"/><circle cx="1525.1" cy="1015.5" r="4.6"/><circle cx="1527.4" cy="1003.3" r="4.6"/><circle cx="1529.7" cy="987.3" r="4.6"/><circle cx="1532.1" cy="974.0" r="4.6"/><circle cx="1534.4" cy="969.9" r="4.6"/><circle cx="1536.7" cy="964.5" r="4.6"/><circle cx="1539.0" cy="954.7" r="4.6"/><circle cx="1541.3" cy="949.7" r="4.6"/><circle cx="1543.7" cy="952.4" r="4.6"/><circle cx="1546.0" cy="953.8" r="4.6"/><circle cx="1548.3" cy="956.5" r="4.6"/><circle cx="1550.6" cy="965.6" r="4.6"/><circle cx="1552.9" cy="965.0" r="4.6"/><circle cx="1555.3" cy="977.8" r="4.6"/><circle cx="1557.6" cy="978.7" r="4.6"/><circle cx="1559.9" cy="987.9" r="4.6"/><circle cx="1562.2" cy="999.8" r="4.6"/><circle cx="1564.5" cy="1009.5" r="4.6"/><circle cx="1566.9" cy="1017.0" r="4.6"/><circle cx="1569.2" cy="1023.7" r="4.6"/><circle cx="1571.5" cy="1030.8" r="4.6"/><circle cx="1573.8" cy="1038.0" r="4.6"/><circle cx="1576.1" cy="1045.9" r="4.6"/><circle cx="1578.5" cy="1050.3" r="4.6"/><circle cx="1580.8" cy="1057.7" r="4.6"/><circle cx="1583.1" cy="1064.5" r="4.6"/><circle cx="1585.4" cy="1069.3" r="4.6"/><circle cx="1587.7" cy="1077.2" r="4.6"/><circle cx="1590.1" cy="1083.0" r="4.6"/><circle cx="1592.4" cy="1092.9" r="4.6"/><circle cx="1594.7" cy="1094.6" r="4.6"/><circle cx="1597.0" cy="1099.0" r="4.6"/><circle cx="1599.3" cy="1105.4" r="4.6"/><circle cx="1601.7" cy="1112.7" r="4.6"/><circle cx="1604.0" cy="1121.8" r="4.6"/><circle cx="1606.3" cy="1125.2" r="4.6"/><circle cx="1608.6" cy="1133.9" r="4.6"/><circle cx="1610.9" cy="1144.5" r="4.6"/><circle cx="1613.3" cy="1139.7" r="4.6"/><circle cx="1615.6" cy="1149.7" r="4.6"/><circle cx="1617.9" cy="1159.3" r="4.6"/><circle cx="1620.2" cy="1165.4" r="4.6"/><circle cx="1622.5" cy="1170.3" r="4.6"/><circle cx="1624.9" cy="1173.7" r="4.6"/><circle cx="1627.2" cy="1181.4" r="4.6"/><circle cx="1629.5" cy="1184.9" r="4.6"/><circle cx="1631.8" cy="1187.2" r="4.6"/><circle cx="1634.1" cy="1198.6" r="4.6"/><circle cx="1636.5" cy="1196.8" r="4.6"/><circle cx="1638.8" cy="1197.7" r="4.6"/><circle cx="1641.1" cy="1201.8" r="4.6"/><circle cx="1643.4" cy="1204.1" r="4.6"/><circle cx="1645.7" cy="1206.5" r="4.6"/><circle cx="1648.1" cy="1201.6" r="4.6"/><circle cx="1650.4" cy="1209.2" r="4.6"/><circle cx="1652.7" cy="1213.8" r="4.6"/><circle cx="1655.0" cy="1208.9" r="4.6"/><circle cx="1657.3" cy="1212.6" r="4.6"/><circle cx="1659.7" cy="1215.4" r="4.6"/><circle cx="1662.0" cy="1214.9" r="4.6"/><circle cx="1664.3" cy="1216.6" r="4.6"/><circle cx="1666.6" cy="1208.2" r="4.6"/><circle cx="1668.9" cy="1211.2" r="4.6"/><circle cx="1671.3" cy="1210.6" r="4.6"/><circle cx="1673.6" cy="1212.5" r="4.6"/><circle cx="1675.9" cy="1213.2" r="4.6"/><circle cx="1678.2" cy="1202.4" r="4.6"/><circle cx="1680.5" cy="1211.2" r="4.6"/><circle cx="1682.9" cy="1203.8" r="4.6"/><circle cx="1685.2" cy="1208.5" r="4.6"/><circle cx="1687.5" cy="1201.7" r="4.6"/><circle cx="1689.8" cy="1204.9" r="4.6"/><circle cx="1692.1" cy="1206.6" r="4.6"/><circle cx="1694.5" cy="1202.2" r="4.6"/><circle cx="1696.8" cy="1202.0" r="4.6"/><circle cx="1699.1" cy="1202.5" r="4.6"/><circle cx="1701.4" cy="1199.9" r="4.6"/><circle cx="1703.7" cy="1198.4" r="4.6"/><circle cx="1706.1" cy="1201.8" r="4.6"/><circle cx="1708.4" cy="1199.7" r="4.6"/><circle cx="1710.7" cy="1195.5" r="4.6"/><circle cx="1713.0" cy="1202.7" r="4.6"/><circle cx="1715.3" cy="1192.1" r="4.6"/><circle cx="1717.7" cy="1197.0" r="4.6"/><circle cx="1720.0" cy="1193.5" r="4.6"/><circle cx="1722.3" cy="1194.1" r="4.6"/><circle cx="1724.6" cy="1195.4" r="4.6"/><circle cx="1726.9" cy="1193.9" r="4.6"/><circle cx="1729.3" cy="1194.7" r="4.6"/><circle cx="1731.6" cy="1188.8" r="4.6"/><circle cx="1733.9" cy="1188.6" r="4.6"/><circle cx="1736.2" cy="1193.8" r="4.6"/><circle cx="1738.5" cy="1189.4" r="4.6"/><circle cx="1740.9" cy="1189.1" r="4.6"/><circle cx="1743.2" cy="1187.9" r="4.6"/><circle cx="1745.5" cy="1194.9" r="4.6"/><circle cx="1747.8" cy="1193.4" r="4.6"/><circle cx="1750.1" cy="1195.3" r="4.6"/><circle cx="1752.5" cy="1189.0" r="4.6"/><circle cx="1754.8" cy="1191.4" r="4.6"/><circle cx="1757.1" cy="1188.3" r="4.6"/><circle cx="1759.4" cy="1193.0" r="4.6"/><circle cx="1761.7" cy="1195.1" r="4.6"/><circle cx="1764.1" cy="1188.6" r="4.6"/><circle cx="1766.4" cy="1194.6" r="4.6"/><circle cx="1768.7" cy="1192.6" r="4.6"/><circle cx="1771.0" cy="1189.2" r="4.6"/><circle cx="1773.3" cy="1184.1" r="4.6"/><circle cx="1775.7" cy="1192.2" r="4.6"/><circle cx="1778.0" cy="1187.6" r="4.6"/><circle cx="1780.3" cy="1185.4" r="4.6"/><circle cx="1782.6" cy="1186.8" r="4.6"/><circle cx="1784.9" cy="1185.5" r="4.6"/><circle cx="1787.3" cy="1186.8" r="4.6"/><circle cx="1789.6" cy="1178.2" r="4.6"/><circle cx="1791.9" cy="1181.3" r="4.6"/><circle cx="1794.2" cy="1178.9" r="4.6"/><circle cx="1796.5" cy="1175.2" r="4.6"/><circle cx="1798.9" cy="1166.4" r="4.6"/><circle cx="1801.2" cy="1159.9" r="4.6"/><circle cx="1803.5" cy="1158.7" r="4.6"/><circle cx="1805.8" cy="1150.0" r="4.6"/><circle cx="1808.1" cy="1143.0" r="4.6"/><circle cx="1810.5" cy="1138.8" r="4.6"/><circle cx="1812.8" cy="1126.1" r="4.6"/><circle cx="1815.1" cy="1112.4" r="4.6"/><circle cx="1817.4" cy="1108.2" r="4.6"/><circle cx="1819.7" cy="1095.1" r="4.6"/><circle cx="1822.1" cy="1093.0" r="4.6"/><circle cx="1824.4" cy="1081.9" r="4.6"/><circle cx="1826.7" cy="1070.8" r="4.6"/><circle cx="1829.0" cy="1063.0" r="4.6"/><circle cx="1831.3" cy="1056.7" r="4.6"/><circle cx="1833.7" cy="1046.5" r="4.6"/><circle cx="1836.0" cy="1041.7" r="4.6"/><circle cx="1838.3" cy="1030.4" r="4.6"/><circle cx="1840.6" cy="1026.4" r="4.6"/><circle cx="1842.9" cy="1021.5" r="4.6"/><circle cx="1845.3" cy="1017.0" r="4.6"/><circle cx="1847.6" cy="1007.8" r="4.6"/><circle cx="1849.9" cy="1009.5" r="4.6"/><circle cx="1852.2" cy="1001.5" r="4.6"/><circle cx="1854.5" cy="1003.5" r="4.6"/><circle cx="1856.9" cy="1001.8" r="4.6"/><circle cx="1859.2" cy="1010.9" r="4.6"/><circle cx="1861.5" cy="1006.4" r="4.6"/><circle cx="1863.8" cy="1011.3" r="4.6"/><circle cx="1866.1" cy="1012.9" r="4.6"/><circle cx="1868.5" cy="1015.4" r="4.6"/><circle cx="1870.8" cy="1015.7" r="4.6"/><circle cx="1873.1" cy="1020.1" r="4.6"/><circle cx="1875.4" cy="1026.0" r="4.6"/><circle cx="1877.7" cy="1023.2" r="4.6"/><circle cx="1880.1" cy="1026.1" r="4.6"/><circle cx="1882.4" cy="1029.1" r="4.6"/><circle cx="1884.7" cy="1027.7" r="4.6"/><circle cx="1887.0" cy="1026.6" r="4.6"/><circle cx="1889.3" cy="1030.2" r="4.6"/><circle cx="1891.7" cy="1036.4" r="4.6"/><circle cx="1894.0" cy="1031.5" r="4.6"/><circle cx="1896.3" cy="1036.7" r="4.6"/><circle cx="1898.6" cy="1043.5" r="4.6"/><circle cx="1900.9" cy="1045.5" r="4.6"/><circle cx="1903.3" cy="1046.4" r="4.6"/><circle cx="1905.6" cy="1051.2" r="4.6"/><circle cx="1907.9" cy="1052.4" r="4.6"/><circle cx="1910.2" cy="1051.9" r="4.6"/><circle cx="1912.5" cy="1053.6" r="4.6"/><circle cx="1914.9" cy="1059.0" r="4.6"/><circle cx="1917.2" cy="1066.0" r="4.6"/><circle cx="1919.5" cy="1064.9" r="4.6"/><circle cx="1921.8" cy="1066.9" r="4.6"/><circle cx="1924.1" cy="1070.1" r="4.6"/><circle cx="1926.5" cy="1070.9" r="4.6"/><circle cx="1928.8" cy="1077.3" r="4.6"/><circle cx="1931.1" cy="1077.1" r="4.6"/><circle cx="1933.4" cy="1083.7" r="4.6"/><circle cx="1935.7" cy="1078.9" r="4.6"/><circle cx="1938.1" cy="1088.3" r="4.6"/><circle cx="1940.4" cy="1088.2" r="4.6"/><circle cx="1942.7" cy="1086.9" r="4.6"/><circle cx="1945.0" cy="1095.9" r="4.6"/><circle cx="1947.3" cy="1095.4" r="4.6"/><circle cx="1949.7" cy="1092.1" r="4.6"/><circle cx="1952.0" cy="1097.4" r="4.6"/><circle cx="1954.3" cy="1102.1" r="4.6"/><circle cx="1956.6" cy="1101.7" r="4.6"/><circle cx="1958.9" cy="1106.3" r="4.6"/><circle cx="1961.3" cy="1107.5" r="4.6"/><circle cx="1963.6" cy="1108.5" r="4.6"/><circle cx="1965.9" cy="1108.6" r="4.6"/><circle cx="1968.2" cy="1112.2" r="4.6"/><circle cx="1970.5" cy="1111.3" r="4.6"/><circle cx="1972.9" cy="1111.6" r="4.6"/><circle cx="1975.2" cy="1105.7" r="4.6"/><circle cx="1977.5" cy="1114.1" r="4.6"/><circle cx="1979.8" cy="1115.7" r="4.6"/><circle cx="1982.1" cy="1112.1" r="4.6"/><circle cx="1984.5" cy="1112.1" r="4.6"/><circle cx="1986.8" cy="1118.7" r="4.6"/><circle cx="1989.1" cy="1109.3" r="4.6"/><circle cx="1991.4" cy="1115.4" r="4.6"/><circle cx="1993.7" cy="1120.6" r="4.6"/><circle cx="1996.1" cy="1111.8" r="4.6"/><circle cx="1998.4" cy="1116.0" r="4.6"/><circle cx="2000.7" cy="1119.1" r="4.6"/><circle cx="2003.0" cy="1113.6" r="4.6"/><circle cx="2005.3" cy="1115.1" r="4.6"/><circle cx="2007.7" cy="1115.7" r="4.6"/><circle cx="2010.0" cy="1110.6" r="4.6"/><circle cx="2012.3" cy="1112.3" r="4.6"/><circle cx="2014.6" cy="1112.8" r="4.6"/><circle cx="2016.9" cy="1113.6" r="4.6"/><circle cx="2019.3" cy="1110.9" r="4.6"/><circle cx="2021.6" cy="1109.9" r="4.6"/><circle cx="2023.9" cy="1107.1" r="4.6"/><circle cx="2026.2" cy="1108.2" r="4.6"/><circle cx="2028.5" cy="1110.9" r="4.6"/><circle cx="2030.9" cy="1108.2" r="4.6"/><circle cx="2033.2" cy="1105.1" r="4.6"/><circle cx="2035.5" cy="1104.5" r="4.6"/><circle cx="2037.8" cy="1113.0" r="4.6"/><circle cx="2040.1" cy="1108.5" r="4.6"/><circle cx="2042.5" cy="1106.7" r="4.6"/><circle cx="2044.8" cy="1097.9" r="4.6"/><circle cx="2047.1" cy="1105.9" r="4.6"/><circle cx="2049.4" cy="1105.4" r="4.6"/><circle cx="2051.7" cy="1108.4" r="4.6"/><circle cx="2054.1" cy="1105.2" r="4.6"/><circle cx="2056.4" cy="1104.1" r="4.6"/><circle cx="2058.7" cy="1105.9" r="4.6"/><circle cx="2061.0" cy="1099.8" r="4.6"/><circle cx="2063.3" cy="1108.0" r="4.6"/><circle cx="2065.7" cy="1106.7" r="4.6"/><circle cx="2068.0" cy="1104.5" r="4.6"/><circle cx="2070.3" cy="1110.3" r="4.6"/><circle cx="2072.6" cy="1112.1" r="4.6"/><circle cx="2074.9" cy="1104.3" r="4.6"/><circle cx="2077.3" cy="1106.7" r="4.6"/><circle cx="2079.6" cy="1109.7" r="4.6"/><circle cx="2081.9" cy="1109.9" r="4.6"/><circle cx="2084.2" cy="1108.9" r="4.6"/><circle cx="2086.5" cy="1107.9" r="4.6"/><circle cx="2088.9" cy="1116.3" r="4.6"/><circle cx="2091.2" cy="1113.9" r="4.6"/><circle cx="2093.5" cy="1108.5" r="4.6"/><circle cx="2095.8" cy="1108.5" r="4.6"/><circle cx="2098.1" cy="1116.7" r="4.6"/><circle cx="2100.5" cy="1115.2" r="4.6"/><circle cx="2102.8" cy="1117.7" r="4.6"/><circle cx="2105.1" cy="1115.3" r="4.6"/><circle cx="2107.4" cy="1111.1" r="4.6"/><circle cx="2109.7" cy="1114.3" r="4.6"/><circle cx="2112.1" cy="1108.3" r="4.6"/><circle cx="2114.4" cy="1112.2" r="4.6"/><circle cx="2116.7" cy="1114.3" r="4.6"/><circle cx="2119.0" cy="1116.0" r="4.6"/><circle cx="2121.3" cy="1113.0" r="4.6"/><circle cx="2123.7" cy="1114.7" r="4.6"/><circle cx="2126.0" cy="1116.4" r="4.6"/><circle cx="2128.3" cy="1116.4" r="4.6"/><circle cx="2130.6" cy="1117.3" r="4.6"/><circle cx="2132.9" cy="1116.4" r="4.6"/><circle cx="2135.3" cy="1115.1" r="4.6"/><circle cx="2137.6" cy="1118.1" r="4.6"/><circle cx="2139.9" cy="1116.3" r="4.6"/><circle cx="2142.2" cy="1114.1" r="4.6"/><circle cx="2144.5" cy="1114.8" r="4.6"/><circle cx="2146.9" cy="1116.6" r="4.6"/><circle cx="2149.2" cy="1116.5" r="4.6"/><circle cx="2151.5" cy="1117.4" r="4.6"/><circle cx="2153.8" cy="1117.1" r="4.6"/><circle cx="2156.1" cy="1117.6" r="4.6"/><circle cx="2158.5" cy="1116.9" r="4.6"/><circle cx="2160.8" cy="1114.0" r="4.6"/><circle cx="2163.1" cy="1118.5" r="4.6"/><circle cx="2165.4" cy="1120.2" r="4.6"/><circle cx="2167.7" cy="1118.6" r="4.6"/><circle cx="2170.1" cy="1117.1" r="4.6"/><circle cx="2172.4" cy="1118.9" r="4.6"/><circle cx="2174.7" cy="1115.4" r="4.6"/><circle cx="2177.0" cy="1113.1" r="4.6"/><circle cx="2179.3" cy="1118.3" r="4.6"/><circle cx="2181.7" cy="1115.7" r="4.6"/><circle cx="2184.0" cy="1120.2" r="4.6"/><circle cx="2186.3" cy="1115.5" r="4.6"/><circle cx="2188.6" cy="1111.5" r="4.6"/><circle cx="2190.9" cy="1115.7" r="4.6"/><circle cx="2193.3" cy="1122.6" r="4.6"/><circle cx="2195.6" cy="1117.5" r="4.6"/><circle cx="2197.9" cy="1115.0" r="4.6"/><circle cx="2200.2" cy="1116.6" r="4.6"/><circle cx="2202.5" cy="1120.0" r="4.6"/></g>
<path d="M1281.0,1463.4L1283.0,1463.5L1285.0,1463.7L1287.0,1463.8L1289.0,1463.9L1291.0,1464.0L1293.0,1464.2L1295.0,1464.3L1297.0,1464.4L1299.0,1464.6L1301.0,1464.7L1303.0,1464.8L1305.0,1465.0L1307.0,1465.1L1309.0,1465.2L1311.0,1465.3L1313.0,1465.4L1315.0,1465.6L1317.0,1465.7L1319.0,1465.8L1321.0,1465.9L1323.0,1466.0L1325.0,1466.1L1327.0,1466.2L1329.0,1466.3L1331.0,1466.3L1333.0,1466.4L1335.0,1466.5L1337.0,1466.5L1339.0,1466.6L1341.0,1466.7L1343.0,1466.7L1345.0,1466.7L1347.0,1466.8L1349.0,1466.8L1351.0,1466.8L1353.0,1466.7L1355.0,1466.5L1357.0,1466.4L1359.0,1466.1L1361.0,1465.9L1363.0,1465.6L1365.0,1465.3L1367.0,1465.4L1369.0,1465.5L1371.0,1465.6L1373.0,1465.7L1375.0,1465.8L1377.0,1465.9L1379.0,1466.0L1381.0,1466.0L1383.0,1466.1L1385.0,1466.2L1387.0,1466.3L1389.0,1466.4L1391.0,1466.3L1393.0,1466.0L1395.0,1465.7L1397.0,1465.3L1399.0,1464.9L1401.0,1464.7L1403.0,1464.8L1405.0,1464.9L1407.0,1465.0L1409.0,1465.1L1411.0,1465.2L1413.0,1465.3L1415.0,1465.4L1417.0,1465.5L1419.0,1465.6L1421.0,1465.7L1423.0,1465.7L1425.0,1465.8L1427.0,1465.5L1429.0,1465.1L1431.0,1464.6L1433.0,1464.7L1435.0,1464.7L1437.0,1464.7L1439.0,1464.7L1441.0,1464.7L1443.0,1464.7L1445.0,1464.6L1447.0,1464.1L1449.0,1463.3L1451.0,1462.7L1453.0,1462.3L1455.0,1461.8L1457.0,1461.1L1459.0,1460.2L1461.0,1458.7L1463.0,1456.6L1465.0,1454.5L1467.0,1452.1L1469.0,1449.2L1471.0,1445.5L1473.0,1441.4L1475.0,1436.4L1477.0,1431.0L1479.0,1424.9L1481.0,1417.5L1483.0,1409.6L1485.0,1400.7L1487.0,1390.7L1489.0,1379.6L1491.0,1367.1L1493.0,1353.2L1495.0,1337.9L1497.0,1321.0L1499.0,1302.7L1501.0,1282.9L1503.0,1261.9L1505.0,1239.8L1507.0,1216.8L1509.0,1193.0L1511.0,1168.6L1513.0,1144.0L1515.0,1119.4L1517.0,1095.4L1519.0,1072.7L1521.0,1051.9L1523.0,1033.4L1525.0,1017.3L1527.0,1003.3L1529.0,991.2L1531.0,981.0L1533.0,972.4L1535.0,965.4L1537.0,959.9L1539.0,955.9L1541.0,953.5L1543.0,952.7L1545.0,953.4L1547.0,955.3L1549.0,958.5L1551.0,962.8L1553.0,967.9L1555.0,973.7L1557.0,980.1L1559.0,986.8L1561.0,993.9L1563.0,1001.0L1565.0,1008.2L1567.0,1015.3L1569.0,1022.2L1571.0,1028.8L1573.0,1035.1L1575.0,1041.1L1577.0,1046.8L1579.0,1052.2L1581.0,1057.6L1583.0,1062.8L1585.0,1068.2L1587.0,1073.4L1589.0,1078.6L1591.0,1084.0L1593.0,1089.2L1595.0,1094.6L1597.0,1100.0L1599.0,1105.4L1601.0,1110.9L1603.0,1116.5L1605.0,1122.4L1607.0,1128.1L1609.0,1134.0L1611.0,1139.9L1613.0,1145.7L1615.0,1151.1L1617.0,1156.4L1619.0,1161.3L1621.0,1166.3L1623.0,1170.7L1625.0,1175.1L1627.0,1179.4L1629.0,1183.3L1631.0,1187.0L1633.0,1190.5L1635.0,1193.6L1637.0,1196.7L1639.0,1199.5L1641.0,1201.9L1643.0,1204.2L1645.0,1206.1L1647.0,1207.7L1649.0,1209.5L1651.0,1210.7L1653.0,1211.3L1655.0,1211.9L1657.0,1212.7L1659.0,1213.0L1661.0,1212.8L1663.0,1212.7L1665.0,1212.8L1667.0,1212.6L1669.0,1212.1L1671.0,1211.5L1673.0,1211.0L1675.0,1210.6L1677.0,1209.9L1679.0,1209.1L1681.0,1208.2L1683.0,1207.5L1685.0,1206.8L1687.0,1205.8L1689.0,1204.8L1691.0,1204.0L1693.0,1203.2L1695.0,1202.3L1697.0,1201.4L1699.0,1200.5L1701.0,1199.7L1703.0,1198.9L1705.0,1198.1L1707.0,1197.5L1709.0,1196.8L1711.0,1196.1L1713.0,1195.6L1715.0,1195.1L1717.0,1194.8L1719.0,1194.4L1721.0,1194.0L1723.0,1193.7L1725.0,1193.5L1727.0,1193.3L1729.0,1193.1L1731.0,1192.8L1733.0,1192.6L1735.0,1192.3L1737.0,1192.1L1739.0,1191.9L1741.0,1191.8L1743.0,1191.8L1745.0,1191.6L1747.0,1191.5L1749.0,1191.4L1751.0,1191.4L1753.0,1191.5L1755.0,1191.4L1757.0,1191.3L1759.0,1191.1L1761.0,1191.0L1763.0,1190.9L1765.0,1190.8L1767.0,1190.4L1769.0,1190.0L1771.0,1189.7L1773.0,1189.3L1775.0,1188.8L1777.0,1188.2L1779.0,1187.5L1781.0,1186.6L1783.0,1185.6L1785.0,1184.4L1787.0,1183.1L1789.0,1181.4L1791.0,1179.4L1793.0,1176.9L1795.0,1173.9L1797.0,1170.6L1799.0,1166.6L1801.0,1162.3L1803.0,1157.4L1805.0,1152.0L1807.0,1146.2L1809.0,1139.9L1811.0,1133.3L1813.0,1126.0L1815.0,1118.7L1817.0,1111.0L1819.0,1102.8L1821.0,1095.2L1823.0,1086.7L1825.0,1078.6L1827.0,1071.3L1829.0,1063.1L1831.0,1055.8L1833.0,1048.6L1835.0,1041.6L1837.0,1034.8L1839.0,1028.4L1841.0,1022.6L1843.0,1017.5L1845.0,1013.3L1847.0,1010.2L1849.0,1008.0L1851.0,1006.6L1853.0,1006.3L1855.0,1006.3L1857.0,1006.9L1859.0,1008.0L1861.0,1009.3L1863.0,1010.7L1865.0,1012.4L1867.0,1014.2L1869.0,1015.8L1871.0,1017.5L1873.0,1019.4L1875.0,1021.1L1877.0,1022.5L1879.0,1024.0L1881.0,1025.4L1883.0,1026.9L1885.0,1028.4L1887.0,1029.9L1889.0,1031.4L1891.0,1033.0L1893.0,1034.9L1895.0,1036.8L1897.0,1039.0L1899.0,1041.3L1901.0,1043.5L1903.0,1046.1L1905.0,1048.4L1907.0,1050.8L1909.0,1053.5L1911.0,1055.9L1913.0,1058.3L1915.0,1060.9L1917.0,1063.4L1919.0,1065.8L1921.0,1068.3L1923.0,1070.7L1925.0,1073.2L1927.0,1075.6L1929.0,1077.8L1931.0,1080.1L1933.0,1082.4L1935.0,1084.4L1937.0,1086.3L1939.0,1088.4L1941.0,1090.5L1943.0,1092.2L1945.0,1094.0L1947.0,1095.8L1949.0,1097.4L1951.0,1098.9L1953.0,1100.4L1955.0,1101.9L1957.0,1103.1L1959.0,1104.3L1961.0,1105.4L1963.0,1106.4L1965.0,1107.4L1967.0,1108.3L1969.0,1109.1L1971.0,1109.8L1973.0,1110.5L1975.0,1111.1L1977.0,1111.7L1979.0,1112.2L1981.0,1112.6L1983.0,1113.0L1985.0,1113.4L1987.0,1113.6L1989.0,1113.8L1991.0,1114.1L1993.0,1114.3L1995.0,1114.2L1997.0,1114.2L1999.0,1114.3L2001.0,1114.2L2003.0,1113.9L2005.0,1113.7L2007.0,1113.5L2009.0,1113.2L2011.0,1112.8L2013.0,1112.4L2015.0,1111.9L2017.0,1111.5L2019.0,1111.0L2021.0,1110.6L2023.0,1110.0L2025.0,1109.4L2027.0,1109.0L2029.0,1108.4L2031.0,1107.9L2033.0,1107.4L2035.0,1106.8L2037.0,1106.2L2039.0,1105.8L2041.0,1105.4L2043.0,1104.9L2045.0,1104.6L2047.0,1104.3L2049.0,1104.2L2051.0,1104.1L2053.0,1104.0L2055.0,1104.1L2057.0,1104.3L2059.0,1104.6L2061.0,1104.9L2063.0,1105.3L2065.0,1105.7L2067.0,1106.1L2069.0,1106.5L2071.0,1107.0L2073.0,1107.5L2075.0,1108.0L2077.0,1108.4L2079.0,1108.8L2081.0,1109.2L2083.0,1109.7L2085.0,1110.1L2087.0,1110.5L2089.0,1110.8L2091.0,1111.2L2093.0,1111.5L2095.0,1111.8L2097.0,1112.1L2099.0,1112.4L2101.0,1112.7L2103.0,1113.0L2105.0,1113.2L2107.0,1113.4L2109.0,1113.6L2111.0,1113.8L2113.0,1114.0L2115.0,1114.3L2117.0,1114.5L2119.0,1114.7L2121.0,1114.8L2123.0,1115.0L2125.0,1115.1L2127.0,1115.3L2129.0,1115.5L2131.0,1115.7L2133.0,1115.8L2135.0,1115.9L2137.0,1116.0L2139.0,1116.1L2141.0,1116.2L2143.0,1116.3L2145.0,1116.5L2147.0,1116.7L2149.0,1116.8L2151.0,1116.9L2153.0,1117.1L2155.0,1117.1L2157.0,1117.2L2159.0,1117.2L2161.0,1117.3L2163.0,1117.4L2165.0,1117.4L2167.0,1117.5L2169.0,1117.6L2171.0,1117.7L2173.0,1117.8L2175.0,1117.9L2177.0,1118.0L2179.0,1118.1L2181.0,1118.1L2183.0,1118.2L2185.0,1118.3L2187.0,1118.3L2189.0,1118.4L2191.0,1118.4L2193.0,1118.5L2195.0,1118.5L2197.0,1118.5L2199.0,1118.6L2201.0,1118.6L2203.0,1118.6L2205.0,1118.6" fill="none" stroke="#a0a0a0" stroke-width="3.0" stroke-linejoin="round" stroke-linecap="round"/>
<line x1="1535" y1="1135" x2="1535" y2="987" stroke="#000" stroke-width="3.6" stroke-dasharray="13.6 6.1"/>
<line x1="1589" y1="1238.6" x2="1589" y2="1092" stroke="#000" stroke-width="3.6" stroke-dasharray="13.6 6.1"/>
<line x1="1708.4" y1="1266.6" x2="1708.4" y2="1197.5" stroke="#000" stroke-width="3.6" stroke-dasharray="13.6 6.1"/>
<line x1="1847.8" y1="1134.3" x2="1847.8" y2="987.5" stroke="#000" stroke-width="3.6" stroke-dasharray="13.6 6.1"/>
<line x1="1897.5" y1="1238.5" x2="1897.5" y2="1091.7" stroke="#000" stroke-width="3.6" stroke-dasharray="13.6 6.1"/>
<line x1="2054" y1="1201.6" x2="2054" y2="1055.3" stroke="#000" stroke-width="3.6" stroke-dasharray="13.6 6.1"/>
<line x1="1562.8" y1="1021.6" x2="1824" y2="1021.6" stroke="#000" stroke-width="3.8" stroke-dasharray="11.2 8.4"/>
<path d="M1545.8,1021.6 L1564.3,1015.8000000000001 V1027.4Z M1841,1021.6 L1822.5,1015.8000000000001 V1027.4Z" fill="#000"/>
<line x1="1608.8" y1="1188" x2="1869.6" y2="1188" stroke="#000" stroke-width="3.8" stroke-dasharray="11.2 8.4"/>
<path d="M1591.8,1188 L1610.3,1182.2 V1193.8Z M1886.6,1188 L1868.1,1182.2 V1193.8Z" fill="#000"/>
<rect x="1277.3" y="881.2" width="927.7" height="669.0999999999999" fill="none" stroke="#000" stroke-width="2.7"/>
<line x1="1277.3" y1="1550.3" x2="1277.3" y2="1562.3" stroke="#000" stroke-width="2.7"/>
<line x1="1393.3" y1="1550.3" x2="1393.3" y2="1556.8" stroke="#000" stroke-width="2.7"/>
<line x1="1509.2" y1="1550.3" x2="1509.2" y2="1562.3" stroke="#000" stroke-width="2.7"/>
<line x1="1625.2" y1="1550.3" x2="1625.2" y2="1556.8" stroke="#000" stroke-width="2.7"/>
<line x1="1741.2" y1="1550.3" x2="1741.2" y2="1562.3" stroke="#000" stroke-width="2.7"/>
<line x1="1857.1" y1="1550.3" x2="1857.1" y2="1556.8" stroke="#000" stroke-width="2.7"/>
<line x1="1973.1" y1="1550.3" x2="1973.1" y2="1562.3" stroke="#000" stroke-width="2.7"/>
<line x1="2089.0" y1="1550.3" x2="2089.0" y2="1556.8" stroke="#000" stroke-width="2.7"/>
<line x1="2205.0" y1="1550.3" x2="2205.0" y2="1562.3" stroke="#000" stroke-width="2.7"/></g>
<g id="labels"><text x="103.26" y="752.00" font-family="'Liberation Sans', sans-serif" font-size="43.60" fill="#000">1800</text>
<text x="236.49" y="752.00" font-family="'Liberation Sans', sans-serif" font-size="43.60" fill="#000">1600</text>
<text x="369.71" y="752.00" font-family="'Liberation Sans', sans-serif" font-size="43.60" fill="#000">1400</text>
<text x="502.94" y="752.00" font-family="'Liberation Sans', sans-serif" font-size="43.60" fill="#000">1200</text>
<text x="636.17" y="752.00" font-family="'Liberation Sans', sans-serif" font-size="43.60" fill="#000">1000</text>
<text x="782.29" y="752.00" font-family="'Liberation Sans', sans-serif" font-size="43.60" fill="#000">800</text>
<text x="915.30" y="752.00" font-family="'Liberation Sans', sans-serif" font-size="43.60" fill="#000">600</text>
<text x="1049.18" y="752.00" font-family="'Liberation Sans', sans-serif" font-size="43.60" fill="#000">400</text>
<text transform="translate(6.40,100.10) scale(0.9078,1)" font-family="'Liberation Sans', sans-serif" font-size="107.40" fill="#000">a</text>
<text transform="rotate(-90)" x="-575.93" y="115.30" font-family="'Liberation Sans', sans-serif" font-size="46.31" fill="#000">Transmittance (a.u.)</text>
<text x="408.90" y="815.30" font-family="'Liberation Sans', sans-serif" font-size="46.17" fill="#000">Wavenumbers</text>
<text x="717.34" y="815.60" font-family="'Liberation Sans', sans-serif" font-size="29.26" fill="#000">(</text>
<text x="728.50" y="815.30" font-family="'Liberation Sans', sans-serif" font-size="47.40" fill="#000">cm</text>
<text x="790.69" y="796.70" font-family="'Liberation Sans', sans-serif" font-size="27.65" fill="#000">-1</text>
<text x="819.45" y="815.60" font-family="'Liberation Sans', sans-serif" font-size="29.63" fill="#000">)</text>
<text transform="translate(245.94,87.70) scale(1.0720,1)" font-family="'Liberation Sans', sans-serif" font-size="41.00" fill="#000">n</text>
<text transform="translate(270.42,99.50) scale(0.9840,1)" font-family="'Liberation Sans', sans-serif" font-size="30.00" fill="#000">C=C</text>
<text x="331.46" y="99.60" font-family="'Liberation Sans', sans-serif" font-size="18.69" fill="#000">Q</text>
<text transform="translate(380.04,87.70) scale(1.0720,1)" font-family="'Liberation Sans', sans-serif" font-size="41.00" fill="#000">n</text>
<text transform="translate(404.81,99.50) scale(0.9938,1)" font-family="'Liberation Sans', sans-serif" font-size="30.00" fill="#000">C-N</text>
<text x="456.76" y="99.60" font-family="'Liberation Sans', sans-serif" font-size="18.69" fill="#000">Q</text>
<text transform="translate(478.14,87.70) scale(1.0720,1)" font-family="'Liberation Sans', sans-serif" font-size="41.00" fill="#000">n</text>
<text transform="translate(503.23,99.50) scale(0.9777,1)" font-family="'Liberation Sans', sans-serif" font-size="30.00" fill="#000">C-N</text>
<text x="553.82" y="91.00" font-family="'Liberation Sans', sans-serif" font-size="24.08" fill="#000">+</text>
<text transform="translate(321.04,674.10) scale(1.0720,1)" font-family="'Liberation Sans', sans-serif" font-size="41.00" fill="#000">n</text>
<text transform="translate(345.81,686.20) scale(0.9960,1)" font-family="'Liberation Sans', sans-serif" font-size="30.00" fill="#000">C=C</text>
<text x="405.84" y="686.20" font-family="'Liberation Sans', sans-serif" font-size="20.75" fill="#000">B</text>
<text transform="translate(446.44,674.10) scale(1.0720,1)" font-family="'Liberation Sans', sans-serif" font-size="41.00" fill="#000">n</text>
<text transform="translate(471.11,686.20) scale(0.9959,1)" font-family="'Liberation Sans', sans-serif" font-size="30.00" fill="#000">C-N</text>
<text x="522.34" y="686.20" font-family="'Liberation Sans', sans-serif" font-size="20.75" fill="#000">B</text>
<text transform="translate(552.94,674.10) scale(1.0720,1)" font-family="'Liberation Sans', sans-serif" font-size="41.00" fill="#000">n</text>
<text transform="translate(577.33,686.20) scale(1.0561,1)" font-family="'Liberation Sans', sans-serif" font-size="30.00" fill="#000">-NH</text>
<text x="631.00" y="675.30" font-family="'Liberation Sans', sans-serif" font-size="20.00" fill="#000">+</text>
<text transform="translate(640.89,686.20) scale(1.1156,1)" font-family="'Liberation Sans', sans-serif" font-size="30.00" fill="#000">=</text>
<text x="819.85" y="201.90" font-family="'Liberation Sans', sans-serif" font-size="44.34" fill="#000">Fe/PANI/GF</text>
<text x="842.44" y="373.70" font-family="'Liberation Sans', sans-serif" font-size="46.99" fill="#000">PANI</text>
<text x="944.77" y="384.60" font-family="'Liberation Sans', sans-serif" font-size="31.61" fill="#000">EB</text>
<text x="986.50" y="373.70" font-family="'Liberation Sans', sans-serif" font-size="42.50" fill="#000">/GF</text>
<text x="842.44" y="504.10" font-family="'Liberation Sans', sans-serif" font-size="46.99" fill="#000">PANI</text>
<text x="944.79" y="514.90" font-family="'Liberation Sans', sans-serif" font-size="31.35" fill="#000">ES</text>
<text x="986.50" y="504.10" font-family="'Liberation Sans', sans-serif" font-size="42.50" fill="#000">/GF</text>
<text x="998.07" y="649.70" font-family="'Liberation Sans', sans-serif" font-size="42.68" fill="#000">GF</text>
<text transform="translate(1132.71,99.80) scale(1.0068,1)" font-family="'Liberation Sans', sans-serif" font-size="107.40" fill="#000">b</text>
<text x="1455.37" y="119.30" font-family="'Liberation Sans', sans-serif" font-size="52.50" fill="#333333">GF</text>
<text x="1859.61" y="119.30" font-family="'Liberation Sans', sans-serif" font-size="52.39" fill="#333333">Fe/PANI/GF</text>
<text x="1596.09" y="189.00" font-family="'Liberation Sans', sans-serif" font-size="46.12" fill="#333333">0 s</text>
<text x="2113.09" y="189.00" font-family="'Liberation Sans', sans-serif" font-size="46.12" fill="#333333">0 s</text>
<text x="1546.57" y="526.90" font-family="'Liberation Sans', sans-serif" font-size="46.27" fill="#333333">4.92 s</text>
<text x="2049.35" y="527.50" font-family="'Liberation Sans', sans-serif" font-size="46.00" fill="#333333">10 ms</text>
<text x="110.88" y="1608.60" font-family="'Liberation Sans', sans-serif" font-size="49.20" fill="#000">390</text>
<text x="343.13" y="1608.60" font-family="'Liberation Sans', sans-serif" font-size="49.20" fill="#000">395</text>
<text x="575.50" y="1608.60" font-family="'Liberation Sans', sans-serif" font-size="49.20" fill="#000">400</text>
<text x="807.75" y="1608.60" font-family="'Liberation Sans', sans-serif" font-size="49.20" fill="#000">405</text>
<text x="1039.75" y="1608.60" font-family="'Liberation Sans', sans-serif" font-size="49.20" fill="#000">410</text>
<text transform="translate(10.94,949.60) scale(1.0808,1)" font-family="'Liberation Sans', sans-serif" font-size="105.50" fill="#000">c</text>
<text transform="rotate(-90)" x="-1373.38" y="119.60" font-family="'Liberation Sans', sans-serif" font-size="51.94" fill="#000">Intensity (a.u)</text>
<text x="383.34" y="1671.80" font-family="'Liberation Sans', sans-serif" font-size="51.98" fill="#000">Binding Energy (eV)</text>
<text x="193.51" y="964.50" font-family="'Liberation Sans', sans-serif" font-size="49.89" fill="#000">Fe/PANI/GF</text>
<text x="967.16" y="962.60" font-family="'Liberation Sans', sans-serif" font-size="50.44" fill="#000">N</text>
<text x="1004.03" y="975.10" font-family="'Liberation Sans', sans-serif" font-size="32.98" fill="#000">1s</text>
<text x="383.40" y="1107.10" font-family="'Liberation Sans', sans-serif" font-size="48.66" fill="#2a6aa0">398.4</text>
<text x="403.49" y="1166.80" font-family="'Liberation Sans', sans-serif" font-size="50.19" fill="#2a6aa0">-N=</text>
<text x="643.77" y="952.50" font-family="'Liberation Sans', sans-serif" font-size="49.50" fill="#ffc02e">399.5</text>
<text x="670.57" y="1012.70" font-family="'Liberation Sans', sans-serif" font-size="50.87" fill="#ffc02e">-N-</text>
<text x="664.81" y="1145.60" font-family="'Liberation Sans', sans-serif" font-size="49.54" fill="#5b5ea6">400.7</text>
<text x="698.29" y="1212.10" font-family="'Liberation Sans', sans-serif" font-size="51.33" fill="#5b5ea6">N</text>
<text x="736.02" y="1192.20" font-family="'Liberation Sans', sans-serif" font-size="30.61" fill="#5b5ea6">+</text>
<text x="1236.42" y="1609.20" font-family="'Liberation Sans', sans-serif" font-size="49.20" fill="#000">700</text>
<text x="1468.34" y="1609.20" font-family="'Liberation Sans', sans-serif" font-size="49.20" fill="#000">710</text>
<text x="1700.27" y="1609.20" font-family="'Liberation Sans', sans-serif" font-size="49.20" fill="#000">720</text>
<text x="1932.19" y="1609.20" font-family="'Liberation Sans', sans-serif" font-size="49.20" fill="#000">730</text>
<text x="2164.12" y="1609.20" font-family="'Liberation Sans', sans-serif" font-size="49.20" fill="#000">740</text>
<text transform="translate(1132.07,949.30) scale(1.0089,1)" font-family="'Liberation Sans', sans-serif" font-size="107.40" fill="#000">d</text>
<text transform="rotate(-90)" x="-1373.38" y="1245.30" font-family="'Liberation Sans', sans-serif" font-size="51.94" fill="#000">Intensity (a.u)</text>
<text x="1507.82" y="1672.90" font-family="'Liberation Sans', sans-serif" font-size="52.23" fill="#000">Binding Energy (eV)</text>
<text x="1309.53" y="942.20" font-family="'Liberation Sans', sans-serif" font-size="49.68" fill="#000">Fe/PANI/GF</text>
<text x="2091.65" y="941.20" font-family="'Liberation Sans', sans-serif" font-size="50.58" fill="#000">Fe</text>
<text x="2148.97" y="953.70" font-family="'Liberation Sans', sans-serif" font-size="34.57" fill="#000">2p</text>
<text x="1414.89" y="1010.00" font-family="'Liberation Sans', sans-serif" font-size="38.24" fill="#ffc02e">724.5</text>
<text x="1406.95" y="1057.50" font-family="'Liberation Sans', sans-serif" font-size="38.15" fill="#ffc02e">Fe</text>
<text x="1451.28" y="1067.00" font-family="'Liberation Sans', sans-serif" font-size="26.47" fill="#ffc02e">2p3/2</text>
<text x="1618.18" y="1062.70" font-family="'Liberation Sans', sans-serif" font-size="36.45" fill="#e9535c">713.1</text>
<text x="1610.73" y="1109.80" font-family="'Liberation Sans', sans-serif" font-size="37.10" fill="#e9535c">Fe</text>
<text x="1655.68" y="1119.70" font-family="'Liberation Sans', sans-serif" font-size="26.31" fill="#e9535c">2p3/2</text>
<text x="1787.59" y="924.90" font-family="'Liberation Sans', sans-serif" font-size="38.24" fill="#2a6aa0">724.5</text>
<text x="1781.33" y="971.50" font-family="'Liberation Sans', sans-serif" font-size="38.34" fill="#2a6aa0">Fe</text>
<text x="1825.51" y="982.30" font-family="'Liberation Sans', sans-serif" font-size="25.77" fill="#2a6aa0">2p1/2</text>
<text x="1924.69" y="1002.80" font-family="'Liberation Sans', sans-serif" font-size="38.28" fill="#1fa463">726.8</text>
<text x="1917.31" y="1050.20" font-family="'Liberation Sans', sans-serif" font-size="38.63" fill="#1fa463">Fe</text>
<text x="1962.61" y="1059.50" font-family="'Liberation Sans', sans-serif" font-size="25.89" fill="#1fa463">2p1/2</text>
<text x="1667.12" y="1313.50" font-family="'Liberation Sans', sans-serif" font-size="37.70" fill="#5b5ea6">719.5</text>
<text x="1659.29" y="1359.40" font-family="'Liberation Sans', sans-serif" font-size="37.58" fill="#5b5ea6">Fe</text>
<text x="1702.99" y="1370.20" font-family="'Liberation Sans', sans-serif" font-size="26.26" fill="#5b5ea6">2p3/2</text>
<text x="1645.58" y="1414.40" font-family="'Liberation Sans', sans-serif" font-size="38.28" fill="#5b5ea6">Satellite</text>
<text x="2008.30" y="1245.50" font-family="'Liberation Sans', sans-serif" font-size="37.91" fill="#ffc02e">733.5</text>
<text x="1999.79" y="1292.90" font-family="'Liberation Sans', sans-serif" font-size="38.92" fill="#ffc02e">Fe</text>
<text x="2045.00" y="1303.80" font-family="'Liberation Sans', sans-serif" font-size="25.93" fill="#ffc02e">2p1/2</text>
<text x="1987.59" y="1348.00" font-family="'Liberation Sans', sans-serif" font-size="38.05" fill="#ffc02e">Satellite</text>
<text x="1628.10" y="1006.70" font-family="'Liberation Sans', sans-serif" font-size="45.04" fill="#000">Fe</text>
<text transform="translate(1681.50,1007.20) scale(0.6977,1)" font-family="'Liberation Sans', sans-serif" font-size="43.00" fill="#000">(</text>
<text transform="translate(1697.43,1007.30) scale(1.2509,1)" font-family="'DejaVu Serif', 'Noto Serif CJK SC', serif" font-size="44.60" fill="#000">Ⅱ</text>
<text transform="translate(1741.83,1007.20) scale(0.7838,1)" font-family="'Liberation Sans', sans-serif" font-size="43.00" fill="#000">)</text>
<text x="1676.17" y="1166.70" font-family="'Liberation Sans', sans-serif" font-size="44.08" fill="#000">Fe</text>
<text transform="translate(1728.50,1167.20) scale(0.6977,1)" font-family="'Liberation Sans', sans-serif" font-size="43.00" fill="#000">(</text>
<text transform="translate(1743.44,1167.30) scale(0.9231,1)" font-family="'DejaVu Serif', 'Noto Serif CJK SC', serif" font-size="44.60" fill="#000">Ⅲ</text>
<text transform="translate(1789.85,1167.20) scale(0.6977,1)" font-family="'Liberation Sans', sans-serif" font-size="43.00" fill="#000">)</text></g>
</svg>
</body></html>
